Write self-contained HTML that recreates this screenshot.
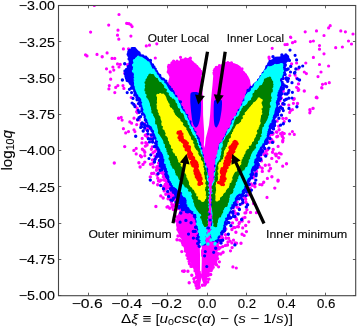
<!DOCTYPE html>
<html><head><meta charset="utf-8"><style>
html,body{margin:0;padding:0;background:#fff;}
svg{display:block;will-change:transform;}
text{font-family:"Liberation Sans",sans-serif;fill:#000;stroke:#000;stroke-width:0.1px;}
</style></head><body>
<svg width="357" height="328" viewBox="0 0 357 328">
<rect width="357" height="328" fill="#fff"/>
<defs><clipPath id="ax"><rect x="58.5" y="5.5" width="297.2" height="290.2"/></clipPath></defs>
<g clip-path="url(#ax)">
<path d="M167.5,68.0 L168.0,65.5 L172.0,63.0 L175.0,61.5 L180.0,60.5 L184.0,58.8 L188.5,58.2 L192.8,61.0 L196.0,65.0 L199.0,67.0 L200.3,68.5 L201.0,72.0 L202.0,85.0 L203.0,100.0 L203.1,115.0 L203.7,125.0 L204.2,132.0 L204.2,138.0 L203.8,145.0 L204.0,148.0 L205.0,145.0 L205.8,138.0 L207.4,132.0 L209.0,125.0 L210.1,115.0 L211.0,100.0 L212.5,85.0 L213.5,72.0 L212.5,70.5 L215.2,67.4 L219.5,65.3 L226.0,63.1 L231.2,62.2 L236.6,64.2 L240.0,66.5 L244.5,72.0 L248.0,76.0 L250.0,80.0 L250.5,84.0 L252.0,88.0 L258.0,92.0 L252.0,110.0 L243.0,130.0 L233.0,150.0 L226.0,170.0 L223.0,190.0 L222.0,210.0 L224.0,227.0 L222.0,237.0 L200.0,238.0 L181.0,238.0 L177.5,232.0 L176.0,225.0 L176.5,218.0 L179.0,212.0 L186.0,195.0 L186.0,175.0 L181.0,160.0 L172.0,130.0 L166.0,100.0 L167.0,86.0 L169.5,77.0 L167.2,72.0 Z" fill="#ff00ff"/>
<path d="M180.0,234.0 L182.5,243.0 L185.0,251.0 L188.5,259.0 L192.0,265.0 L195.0,271.0 L196.8,280.0 L197.5,288.0 L199.5,289.0 L201.0,280.0 L201.0,274.0 L200.0,265.0 L200.0,250.0 L200.0,236.0 Z" fill="#ff00ff"/>
<path d="M201.8,236.0 L201.8,255.0 L201.4,273.0 L200.5,276.0 L203.5,284.0 L206.0,285.0 L207.0,277.0 L208.5,274.0 L212.0,266.0 L216.0,259.0 L218.5,245.0 L221.0,236.0 L222.0,230.0 Z" fill="#ff00ff"/>
<path d="M167.3,67.9a1.55,1.55 0 1,0 3.1,0a1.55,1.55 0 1,0 -3.1,0M166.9,66.7a1.55,1.55 0 1,0 3.1,0a1.55,1.55 0 1,0 -3.1,0M167.3,65.3a1.55,1.55 0 1,0 3.1,0a1.55,1.55 0 1,0 -3.1,0M168.0,65.7a1.55,1.55 0 1,0 3.1,0a1.55,1.55 0 1,0 -3.1,0M169.5,64.8a1.55,1.55 0 1,0 3.1,0a1.55,1.55 0 1,0 -3.1,0M170.7,64.8a1.55,1.55 0 1,0 3.1,0a1.55,1.55 0 1,0 -3.1,0M170.4,62.8a1.55,1.55 0 1,0 3.1,0a1.55,1.55 0 1,0 -3.1,0M172.3,63.0a1.55,1.55 0 1,0 3.1,0a1.55,1.55 0 1,0 -3.1,0M172.5,62.0a1.55,1.55 0 1,0 3.1,0a1.55,1.55 0 1,0 -3.1,0M174.1,62.6a1.55,1.55 0 1,0 3.1,0a1.55,1.55 0 1,0 -3.1,0M174.7,62.3a1.55,1.55 0 1,0 3.1,0a1.55,1.55 0 1,0 -3.1,0M175.5,61.0a1.55,1.55 0 1,0 3.1,0a1.55,1.55 0 1,0 -3.1,0M179.3,62.0a1.55,1.55 0 1,0 3.1,0a1.55,1.55 0 1,0 -3.1,0M179.7,60.0a1.55,1.55 0 1,0 3.1,0a1.55,1.55 0 1,0 -3.1,0M181.3,60.0a1.55,1.55 0 1,0 3.1,0a1.55,1.55 0 1,0 -3.1,0M182.8,59.8a1.55,1.55 0 1,0 3.1,0a1.55,1.55 0 1,0 -3.1,0M184.0,58.7a1.55,1.55 0 1,0 3.1,0a1.55,1.55 0 1,0 -3.1,0M186.1,59.9a1.55,1.55 0 1,0 3.1,0a1.55,1.55 0 1,0 -3.1,0M187.3,59.3a1.55,1.55 0 1,0 3.1,0a1.55,1.55 0 1,0 -3.1,0M188.1,58.9a1.55,1.55 0 1,0 3.1,0a1.55,1.55 0 1,0 -3.1,0M188.5,59.8a1.55,1.55 0 1,0 3.1,0a1.55,1.55 0 1,0 -3.1,0M189.1,60.7a1.55,1.55 0 1,0 3.1,0a1.55,1.55 0 1,0 -3.1,0M189.7,62.1a1.55,1.55 0 1,0 3.1,0a1.55,1.55 0 1,0 -3.1,0M190.7,62.5a1.55,1.55 0 1,0 3.1,0a1.55,1.55 0 1,0 -3.1,0M192.0,63.8a1.55,1.55 0 1,0 3.1,0a1.55,1.55 0 1,0 -3.1,0M192.6,64.7a1.55,1.55 0 1,0 3.1,0a1.55,1.55 0 1,0 -3.1,0M193.7,64.7a1.55,1.55 0 1,0 3.1,0a1.55,1.55 0 1,0 -3.1,0M194.1,66.7a1.55,1.55 0 1,0 3.1,0a1.55,1.55 0 1,0 -3.1,0M195.2,66.2a1.55,1.55 0 1,0 3.1,0a1.55,1.55 0 1,0 -3.1,0M195.8,67.5a1.55,1.55 0 1,0 3.1,0a1.55,1.55 0 1,0 -3.1,0M196.4,68.5a1.55,1.55 0 1,0 3.1,0a1.55,1.55 0 1,0 -3.1,0M198.0,69.5a1.55,1.55 0 1,0 3.1,0a1.55,1.55 0 1,0 -3.1,0M199.3,71.2a1.55,1.55 0 1,0 3.1,0a1.55,1.55 0 1,0 -3.1,0M198.2,72.7a1.55,1.55 0 1,0 3.1,0a1.55,1.55 0 1,0 -3.1,0M199.7,73.4a1.55,1.55 0 1,0 3.1,0a1.55,1.55 0 1,0 -3.1,0M198.4,74.4a1.55,1.55 0 1,0 3.1,0a1.55,1.55 0 1,0 -3.1,0M212.6,74.1a1.55,1.55 0 1,0 3.1,0a1.55,1.55 0 1,0 -3.1,0M212.8,73.7a1.55,1.55 0 1,0 3.1,0a1.55,1.55 0 1,0 -3.1,0M212.4,72.8a1.55,1.55 0 1,0 3.1,0a1.55,1.55 0 1,0 -3.1,0M213.1,70.7a1.55,1.55 0 1,0 3.1,0a1.55,1.55 0 1,0 -3.1,0M213.4,69.1a1.55,1.55 0 1,0 3.1,0a1.55,1.55 0 1,0 -3.1,0M214.6,68.4a1.55,1.55 0 1,0 3.1,0a1.55,1.55 0 1,0 -3.1,0M214.7,67.2a1.55,1.55 0 1,0 3.1,0a1.55,1.55 0 1,0 -3.1,0M215.9,67.9a1.55,1.55 0 1,0 3.1,0a1.55,1.55 0 1,0 -3.1,0M217.8,65.5a1.55,1.55 0 1,0 3.1,0a1.55,1.55 0 1,0 -3.1,0M218.5,66.6a1.55,1.55 0 1,0 3.1,0a1.55,1.55 0 1,0 -3.1,0M220.1,65.8a1.55,1.55 0 1,0 3.1,0a1.55,1.55 0 1,0 -3.1,0M222.5,65.3a1.55,1.55 0 1,0 3.1,0a1.55,1.55 0 1,0 -3.1,0M223.4,64.5a1.55,1.55 0 1,0 3.1,0a1.55,1.55 0 1,0 -3.1,0M223.9,63.2a1.55,1.55 0 1,0 3.1,0a1.55,1.55 0 1,0 -3.1,0M224.8,64.1a1.55,1.55 0 1,0 3.1,0a1.55,1.55 0 1,0 -3.1,0M226.3,62.6a1.55,1.55 0 1,0 3.1,0a1.55,1.55 0 1,0 -3.1,0M227.2,64.4a1.55,1.55 0 1,0 3.1,0a1.55,1.55 0 1,0 -3.1,0M228.6,63.4a1.55,1.55 0 1,0 3.1,0a1.55,1.55 0 1,0 -3.1,0M230.0,62.7a1.55,1.55 0 1,0 3.1,0a1.55,1.55 0 1,0 -3.1,0M233.2,65.0a1.55,1.55 0 1,0 3.1,0a1.55,1.55 0 1,0 -3.1,0M234.2,65.7a1.55,1.55 0 1,0 3.1,0a1.55,1.55 0 1,0 -3.1,0M235.4,65.7a1.55,1.55 0 1,0 3.1,0a1.55,1.55 0 1,0 -3.1,0M236.9,66.8a1.55,1.55 0 1,0 3.1,0a1.55,1.55 0 1,0 -3.1,0M237.3,67.9a1.55,1.55 0 1,0 3.1,0a1.55,1.55 0 1,0 -3.1,0M237.7,67.3a1.55,1.55 0 1,0 3.1,0a1.55,1.55 0 1,0 -3.1,0M240.5,68.8a1.55,1.55 0 1,0 3.1,0a1.55,1.55 0 1,0 -3.1,0M240.0,70.1a1.55,1.55 0 1,0 3.1,0a1.55,1.55 0 1,0 -3.1,0M241.1,72.4a1.55,1.55 0 1,0 3.1,0a1.55,1.55 0 1,0 -3.1,0M242.2,72.7a1.55,1.55 0 1,0 3.1,0a1.55,1.55 0 1,0 -3.1,0M244.0,74.8a1.55,1.55 0 1,0 3.1,0a1.55,1.55 0 1,0 -3.1,0M166.6,71.9a1.55,1.55 0 1,0 3.1,0a1.55,1.55 0 1,0 -3.1,0M167.5,70.0a1.55,1.55 0 1,0 3.1,0a1.55,1.55 0 1,0 -3.1,0M167.6,68.8a1.55,1.55 0 1,0 3.1,0a1.55,1.55 0 1,0 -3.1,0M178.6,235.7a1.7,1.7 0 1,0 3.4,0a1.7,1.7 0 1,0 -3.4,0M176.3,236.0a1.7,1.7 0 1,0 3.4,0a1.7,1.7 0 1,0 -3.4,0M180.2,237.0a1.7,1.7 0 1,0 3.4,0a1.7,1.7 0 1,0 -3.4,0M180.6,236.8a1.7,1.7 0 1,0 3.4,0a1.7,1.7 0 1,0 -3.4,0M178.0,240.1a1.7,1.7 0 1,0 3.4,0a1.7,1.7 0 1,0 -3.4,0M180.8,241.9a1.7,1.7 0 1,0 3.4,0a1.7,1.7 0 1,0 -3.4,0M180.2,241.2a1.7,1.7 0 1,0 3.4,0a1.7,1.7 0 1,0 -3.4,0M181.8,241.6a1.7,1.7 0 1,0 3.4,0a1.7,1.7 0 1,0 -3.4,0M181.4,244.7a1.7,1.7 0 1,0 3.4,0a1.7,1.7 0 1,0 -3.4,0M180.9,243.1a1.7,1.7 0 1,0 3.4,0a1.7,1.7 0 1,0 -3.4,0M181.4,244.4a1.7,1.7 0 1,0 3.4,0a1.7,1.7 0 1,0 -3.4,0M183.1,246.1a1.7,1.7 0 1,0 3.4,0a1.7,1.7 0 1,0 -3.4,0M183.8,248.0a1.7,1.7 0 1,0 3.4,0a1.7,1.7 0 1,0 -3.4,0M180.1,251.6a1.7,1.7 0 1,0 3.4,0a1.7,1.7 0 1,0 -3.4,0M184.0,249.8a1.7,1.7 0 1,0 3.4,0a1.7,1.7 0 1,0 -3.4,0M183.8,251.1a1.7,1.7 0 1,0 3.4,0a1.7,1.7 0 1,0 -3.4,0M185.7,253.8a1.7,1.7 0 1,0 3.4,0a1.7,1.7 0 1,0 -3.4,0M185.2,255.3a1.7,1.7 0 1,0 3.4,0a1.7,1.7 0 1,0 -3.4,0M186.1,255.0a1.7,1.7 0 1,0 3.4,0a1.7,1.7 0 1,0 -3.4,0M186.9,255.6a1.7,1.7 0 1,0 3.4,0a1.7,1.7 0 1,0 -3.4,0M186.9,255.8a1.7,1.7 0 1,0 3.4,0a1.7,1.7 0 1,0 -3.4,0M186.2,258.4a1.7,1.7 0 1,0 3.4,0a1.7,1.7 0 1,0 -3.4,0M187.9,259.3a1.7,1.7 0 1,0 3.4,0a1.7,1.7 0 1,0 -3.4,0M187.4,261.4a1.7,1.7 0 1,0 3.4,0a1.7,1.7 0 1,0 -3.4,0M187.7,261.4a1.7,1.7 0 1,0 3.4,0a1.7,1.7 0 1,0 -3.4,0M187.8,263.7a1.7,1.7 0 1,0 3.4,0a1.7,1.7 0 1,0 -3.4,0M191.2,264.1a1.7,1.7 0 1,0 3.4,0a1.7,1.7 0 1,0 -3.4,0M190.5,264.6a1.7,1.7 0 1,0 3.4,0a1.7,1.7 0 1,0 -3.4,0M190.4,266.2a1.7,1.7 0 1,0 3.4,0a1.7,1.7 0 1,0 -3.4,0M189.3,266.4a1.7,1.7 0 1,0 3.4,0a1.7,1.7 0 1,0 -3.4,0M191.0,265.2a1.7,1.7 0 1,0 3.4,0a1.7,1.7 0 1,0 -3.4,0M182.6,271.0a1.7,1.7 0 1,0 3.4,0a1.7,1.7 0 1,0 -3.4,0M186.2,271.3a1.7,1.7 0 1,0 3.4,0a1.7,1.7 0 1,0 -3.4,0M193.1,268.1a1.7,1.7 0 1,0 3.4,0a1.7,1.7 0 1,0 -3.4,0M193.4,269.8a1.7,1.7 0 1,0 3.4,0a1.7,1.7 0 1,0 -3.4,0M194.0,270.0a1.7,1.7 0 1,0 3.4,0a1.7,1.7 0 1,0 -3.4,0M193.4,270.9a1.7,1.7 0 1,0 3.4,0a1.7,1.7 0 1,0 -3.4,0M194.7,273.6a1.7,1.7 0 1,0 3.4,0a1.7,1.7 0 1,0 -3.4,0M195.5,274.9a1.7,1.7 0 1,0 3.4,0a1.7,1.7 0 1,0 -3.4,0M190.1,275.3a1.7,1.7 0 1,0 3.4,0a1.7,1.7 0 1,0 -3.4,0M195.2,275.0a1.7,1.7 0 1,0 3.4,0a1.7,1.7 0 1,0 -3.4,0M194.5,277.2a1.7,1.7 0 1,0 3.4,0a1.7,1.7 0 1,0 -3.4,0M192.2,278.7a1.7,1.7 0 1,0 3.4,0a1.7,1.7 0 1,0 -3.4,0M192.6,281.7a1.7,1.7 0 1,0 3.4,0a1.7,1.7 0 1,0 -3.4,0M195.7,281.1a1.7,1.7 0 1,0 3.4,0a1.7,1.7 0 1,0 -3.4,0M187.5,282.7a1.7,1.7 0 1,0 3.4,0a1.7,1.7 0 1,0 -3.4,0M194.0,283.4a1.7,1.7 0 1,0 3.4,0a1.7,1.7 0 1,0 -3.4,0M194.4,285.6a1.7,1.7 0 1,0 3.4,0a1.7,1.7 0 1,0 -3.4,0M196.5,285.0a1.7,1.7 0 1,0 3.4,0a1.7,1.7 0 1,0 -3.4,0M195.1,288.1a1.7,1.7 0 1,0 3.4,0a1.7,1.7 0 1,0 -3.4,0M197.6,287.3a1.7,1.7 0 1,0 3.4,0a1.7,1.7 0 1,0 -3.4,0M196.2,288.1a1.7,1.7 0 1,0 3.4,0a1.7,1.7 0 1,0 -3.4,0M196.7,235.2a1.7,1.7 0 1,0 3.4,0a1.7,1.7 0 1,0 -3.4,0M196.1,236.4a1.7,1.7 0 1,0 3.4,0a1.7,1.7 0 1,0 -3.4,0M196.1,236.8a1.7,1.7 0 1,0 3.4,0a1.7,1.7 0 1,0 -3.4,0M194.9,236.7a1.7,1.7 0 1,0 3.4,0a1.7,1.7 0 1,0 -3.4,0M195.3,236.9a1.7,1.7 0 1,0 3.4,0a1.7,1.7 0 1,0 -3.4,0M191.7,236.5a1.7,1.7 0 1,0 3.4,0a1.7,1.7 0 1,0 -3.4,0M193.2,232.9a1.7,1.7 0 1,0 3.4,0a1.7,1.7 0 1,0 -3.4,0M189.0,236.0a1.7,1.7 0 1,0 3.4,0a1.7,1.7 0 1,0 -3.4,0M189.3,234.9a1.7,1.7 0 1,0 3.4,0a1.7,1.7 0 1,0 -3.4,0M190.5,235.5a1.7,1.7 0 1,0 3.4,0a1.7,1.7 0 1,0 -3.4,0M189.3,236.0a1.7,1.7 0 1,0 3.4,0a1.7,1.7 0 1,0 -3.4,0M186.6,234.8a1.7,1.7 0 1,0 3.4,0a1.7,1.7 0 1,0 -3.4,0M186.4,236.2a1.7,1.7 0 1,0 3.4,0a1.7,1.7 0 1,0 -3.4,0M186.0,234.7a1.7,1.7 0 1,0 3.4,0a1.7,1.7 0 1,0 -3.4,0M184.4,235.7a1.7,1.7 0 1,0 3.4,0a1.7,1.7 0 1,0 -3.4,0M184.1,234.0a1.7,1.7 0 1,0 3.4,0a1.7,1.7 0 1,0 -3.4,0M180.9,235.0a1.7,1.7 0 1,0 3.4,0a1.7,1.7 0 1,0 -3.4,0M182.0,231.5a1.7,1.7 0 1,0 3.4,0a1.7,1.7 0 1,0 -3.4,0M180.9,235.8a1.7,1.7 0 1,0 3.4,0a1.7,1.7 0 1,0 -3.4,0M179.7,234.4a1.7,1.7 0 1,0 3.4,0a1.7,1.7 0 1,0 -3.4,0M200.7,285.3a1.7,1.7 0 1,0 3.4,0a1.7,1.7 0 1,0 -3.4,0M203.7,284.1a1.7,1.7 0 1,0 3.4,0a1.7,1.7 0 1,0 -3.4,0M203.0,285.1a1.7,1.7 0 1,0 3.4,0a1.7,1.7 0 1,0 -3.4,0M203.5,282.8a1.7,1.7 0 1,0 3.4,0a1.7,1.7 0 1,0 -3.4,0M204.5,282.5a1.7,1.7 0 1,0 3.4,0a1.7,1.7 0 1,0 -3.4,0M203.7,281.7a1.7,1.7 0 1,0 3.4,0a1.7,1.7 0 1,0 -3.4,0M206.0,281.9a1.7,1.7 0 1,0 3.4,0a1.7,1.7 0 1,0 -3.4,0M204.4,278.7a1.7,1.7 0 1,0 3.4,0a1.7,1.7 0 1,0 -3.4,0M207.3,279.1a1.7,1.7 0 1,0 3.4,0a1.7,1.7 0 1,0 -3.4,0M204.2,277.0a1.7,1.7 0 1,0 3.4,0a1.7,1.7 0 1,0 -3.4,0M206.4,275.4a1.7,1.7 0 1,0 3.4,0a1.7,1.7 0 1,0 -3.4,0M205.4,274.7a1.7,1.7 0 1,0 3.4,0a1.7,1.7 0 1,0 -3.4,0M209.0,274.5a1.7,1.7 0 1,0 3.4,0a1.7,1.7 0 1,0 -3.4,0M206.3,273.4a1.7,1.7 0 1,0 3.4,0a1.7,1.7 0 1,0 -3.4,0M207.3,271.0a1.7,1.7 0 1,0 3.4,0a1.7,1.7 0 1,0 -3.4,0M209.5,270.5a1.7,1.7 0 1,0 3.4,0a1.7,1.7 0 1,0 -3.4,0M207.5,269.3a1.7,1.7 0 1,0 3.4,0a1.7,1.7 0 1,0 -3.4,0M210.5,268.4a1.7,1.7 0 1,0 3.4,0a1.7,1.7 0 1,0 -3.4,0M210.8,266.2a1.7,1.7 0 1,0 3.4,0a1.7,1.7 0 1,0 -3.4,0M210.4,264.6a1.7,1.7 0 1,0 3.4,0a1.7,1.7 0 1,0 -3.4,0M211.5,267.2a1.7,1.7 0 1,0 3.4,0a1.7,1.7 0 1,0 -3.4,0M211.4,265.1a1.7,1.7 0 1,0 3.4,0a1.7,1.7 0 1,0 -3.4,0M211.8,264.1a1.7,1.7 0 1,0 3.4,0a1.7,1.7 0 1,0 -3.4,0M214.8,264.8a1.7,1.7 0 1,0 3.4,0a1.7,1.7 0 1,0 -3.4,0M213.9,262.2a1.7,1.7 0 1,0 3.4,0a1.7,1.7 0 1,0 -3.4,0M213.6,262.4a1.7,1.7 0 1,0 3.4,0a1.7,1.7 0 1,0 -3.4,0M213.9,261.6a1.7,1.7 0 1,0 3.4,0a1.7,1.7 0 1,0 -3.4,0M214.8,259.3a1.7,1.7 0 1,0 3.4,0a1.7,1.7 0 1,0 -3.4,0M215.1,257.3a1.7,1.7 0 1,0 3.4,0a1.7,1.7 0 1,0 -3.4,0M215.9,258.6a1.7,1.7 0 1,0 3.4,0a1.7,1.7 0 1,0 -3.4,0M213.8,256.5a1.7,1.7 0 1,0 3.4,0a1.7,1.7 0 1,0 -3.4,0M215.3,255.7a1.7,1.7 0 1,0 3.4,0a1.7,1.7 0 1,0 -3.4,0M219.1,254.0a1.7,1.7 0 1,0 3.4,0a1.7,1.7 0 1,0 -3.4,0M216.8,253.7a1.7,1.7 0 1,0 3.4,0a1.7,1.7 0 1,0 -3.4,0M221.4,252.3a1.7,1.7 0 1,0 3.4,0a1.7,1.7 0 1,0 -3.4,0M214.3,252.2a1.7,1.7 0 1,0 3.4,0a1.7,1.7 0 1,0 -3.4,0M214.6,249.7a1.7,1.7 0 1,0 3.4,0a1.7,1.7 0 1,0 -3.4,0M217.1,248.9a1.7,1.7 0 1,0 3.4,0a1.7,1.7 0 1,0 -3.4,0M218.4,247.7a1.7,1.7 0 1,0 3.4,0a1.7,1.7 0 1,0 -3.4,0M221.0,246.6a1.7,1.7 0 1,0 3.4,0a1.7,1.7 0 1,0 -3.4,0M216.0,246.4a1.7,1.7 0 1,0 3.4,0a1.7,1.7 0 1,0 -3.4,0M223.8,245.4a1.7,1.7 0 1,0 3.4,0a1.7,1.7 0 1,0 -3.4,0M216.5,243.0a1.7,1.7 0 1,0 3.4,0a1.7,1.7 0 1,0 -3.4,0M217.3,241.8a1.7,1.7 0 1,0 3.4,0a1.7,1.7 0 1,0 -3.4,0M217.4,240.5a1.7,1.7 0 1,0 3.4,0a1.7,1.7 0 1,0 -3.4,0M218.7,242.6a1.7,1.7 0 1,0 3.4,0a1.7,1.7 0 1,0 -3.4,0M217.1,240.2a1.7,1.7 0 1,0 3.4,0a1.7,1.7 0 1,0 -3.4,0M217.9,237.2a1.7,1.7 0 1,0 3.4,0a1.7,1.7 0 1,0 -3.4,0M220.6,238.1a1.7,1.7 0 1,0 3.4,0a1.7,1.7 0 1,0 -3.4,0M219.5,235.9a1.7,1.7 0 1,0 3.4,0a1.7,1.7 0 1,0 -3.4,0M219.9,235.5a1.7,1.7 0 1,0 3.4,0a1.7,1.7 0 1,0 -3.4,0M219.5,233.1a1.7,1.7 0 1,0 3.4,0a1.7,1.7 0 1,0 -3.4,0M218.6,232.9a1.7,1.7 0 1,0 3.4,0a1.7,1.7 0 1,0 -3.4,0M222.4,231.6a1.7,1.7 0 1,0 3.4,0a1.7,1.7 0 1,0 -3.4,0M219.4,229.8a1.7,1.7 0 1,0 3.4,0a1.7,1.7 0 1,0 -3.4,0M221.2,231.3a1.7,1.7 0 1,0 3.4,0a1.7,1.7 0 1,0 -3.4,0M219.0,231.4a1.7,1.7 0 1,0 3.4,0a1.7,1.7 0 1,0 -3.4,0M218.7,230.9a1.7,1.7 0 1,0 3.4,0a1.7,1.7 0 1,0 -3.4,0M218.1,231.3a1.7,1.7 0 1,0 3.4,0a1.7,1.7 0 1,0 -3.4,0M216.8,232.5a1.7,1.7 0 1,0 3.4,0a1.7,1.7 0 1,0 -3.4,0M215.4,232.7a1.7,1.7 0 1,0 3.4,0a1.7,1.7 0 1,0 -3.4,0M212.1,234.0a1.7,1.7 0 1,0 3.4,0a1.7,1.7 0 1,0 -3.4,0M210.6,233.9a1.7,1.7 0 1,0 3.4,0a1.7,1.7 0 1,0 -3.4,0M211.3,233.7a1.7,1.7 0 1,0 3.4,0a1.7,1.7 0 1,0 -3.4,0M210.9,234.0a1.7,1.7 0 1,0 3.4,0a1.7,1.7 0 1,0 -3.4,0M209.4,234.4a1.7,1.7 0 1,0 3.4,0a1.7,1.7 0 1,0 -3.4,0M207.6,232.2a1.7,1.7 0 1,0 3.4,0a1.7,1.7 0 1,0 -3.4,0M206.4,232.4a1.7,1.7 0 1,0 3.4,0a1.7,1.7 0 1,0 -3.4,0M205.4,233.5a1.7,1.7 0 1,0 3.4,0a1.7,1.7 0 1,0 -3.4,0M205.9,234.6a1.7,1.7 0 1,0 3.4,0a1.7,1.7 0 1,0 -3.4,0M202.8,236.1a1.7,1.7 0 1,0 3.4,0a1.7,1.7 0 1,0 -3.4,0M201.3,235.8a1.7,1.7 0 1,0 3.4,0a1.7,1.7 0 1,0 -3.4,0M202.2,236.6a1.7,1.7 0 1,0 3.4,0a1.7,1.7 0 1,0 -3.4,0M201.5,235.5a1.7,1.7 0 1,0 3.4,0a1.7,1.7 0 1,0 -3.4,0" fill="#ff00ff"/>
<path d="M100.5,56.7a1.7,1.7 0 1,0 3.4,0a1.7,1.7 0 1,0 -3.4,0M125.9,64.8a1.7,1.7 0 1,0 3.4,0a1.7,1.7 0 1,0 -3.4,0M118.5,64.4a1.7,1.7 0 1,0 3.4,0a1.7,1.7 0 1,0 -3.4,0M133.5,105.8a1.7,1.7 0 1,0 3.4,0a1.7,1.7 0 1,0 -3.4,0M135.4,108.3a1.7,1.7 0 1,0 3.4,0a1.7,1.7 0 1,0 -3.4,0M135.0,111.8a1.7,1.7 0 1,0 3.4,0a1.7,1.7 0 1,0 -3.4,0M135.7,112.8a1.7,1.7 0 1,0 3.4,0a1.7,1.7 0 1,0 -3.4,0M116.9,118.2a1.7,1.7 0 1,0 3.4,0a1.7,1.7 0 1,0 -3.4,0M135.8,120.0a1.7,1.7 0 1,0 3.4,0a1.7,1.7 0 1,0 -3.4,0M137.5,119.7a1.7,1.7 0 1,0 3.4,0a1.7,1.7 0 1,0 -3.4,0M139.7,123.5a1.7,1.7 0 1,0 3.4,0a1.7,1.7 0 1,0 -3.4,0M142.7,123.6a1.7,1.7 0 1,0 3.4,0a1.7,1.7 0 1,0 -3.4,0M139.3,125.2a1.7,1.7 0 1,0 3.4,0a1.7,1.7 0 1,0 -3.4,0M144.4,126.1a1.7,1.7 0 1,0 3.4,0a1.7,1.7 0 1,0 -3.4,0M146.9,128.0a1.7,1.7 0 1,0 3.4,0a1.7,1.7 0 1,0 -3.4,0M144.6,129.6a1.7,1.7 0 1,0 3.4,0a1.7,1.7 0 1,0 -3.4,0M147.4,128.3a1.7,1.7 0 1,0 3.4,0a1.7,1.7 0 1,0 -3.4,0M143.6,135.3a1.7,1.7 0 1,0 3.4,0a1.7,1.7 0 1,0 -3.4,0M145.2,134.4a1.7,1.7 0 1,0 3.4,0a1.7,1.7 0 1,0 -3.4,0M149.2,134.6a1.7,1.7 0 1,0 3.4,0a1.7,1.7 0 1,0 -3.4,0M145.5,136.8a1.7,1.7 0 1,0 3.4,0a1.7,1.7 0 1,0 -3.4,0M149.4,135.3a1.7,1.7 0 1,0 3.4,0a1.7,1.7 0 1,0 -3.4,0M123.0,146.6a1.7,1.7 0 1,0 3.4,0a1.7,1.7 0 1,0 -3.4,0M151.0,135.4a1.7,1.7 0 1,0 3.4,0a1.7,1.7 0 1,0 -3.4,0M149.4,139.4a1.7,1.7 0 1,0 3.4,0a1.7,1.7 0 1,0 -3.4,0M150.6,138.1a1.7,1.7 0 1,0 3.4,0a1.7,1.7 0 1,0 -3.4,0M150.8,141.5a1.7,1.7 0 1,0 3.4,0a1.7,1.7 0 1,0 -3.4,0M140.3,142.9a1.7,1.7 0 1,0 3.4,0a1.7,1.7 0 1,0 -3.4,0M144.1,142.7a1.7,1.7 0 1,0 3.4,0a1.7,1.7 0 1,0 -3.4,0M145.2,143.4a1.7,1.7 0 1,0 3.4,0a1.7,1.7 0 1,0 -3.4,0M154.0,142.9a1.7,1.7 0 1,0 3.4,0a1.7,1.7 0 1,0 -3.4,0M132.2,150.4a1.7,1.7 0 1,0 3.4,0a1.7,1.7 0 1,0 -3.4,0M140.7,149.3a1.7,1.7 0 1,0 3.4,0a1.7,1.7 0 1,0 -3.4,0M150.6,147.0a1.7,1.7 0 1,0 3.4,0a1.7,1.7 0 1,0 -3.4,0M149.7,149.2a1.7,1.7 0 1,0 3.4,0a1.7,1.7 0 1,0 -3.4,0M142.3,150.6a1.7,1.7 0 1,0 3.4,0a1.7,1.7 0 1,0 -3.4,0M153.3,151.3a1.7,1.7 0 1,0 3.4,0a1.7,1.7 0 1,0 -3.4,0M154.9,149.2a1.7,1.7 0 1,0 3.4,0a1.7,1.7 0 1,0 -3.4,0M143.1,152.2a1.7,1.7 0 1,0 3.4,0a1.7,1.7 0 1,0 -3.4,0M139.7,156.7a1.7,1.7 0 1,0 3.4,0a1.7,1.7 0 1,0 -3.4,0M151.3,152.7a1.7,1.7 0 1,0 3.4,0a1.7,1.7 0 1,0 -3.4,0M112.6,163.0a1.7,1.7 0 1,0 3.4,0a1.7,1.7 0 1,0 -3.4,0M153.3,156.3a1.7,1.7 0 1,0 3.4,0a1.7,1.7 0 1,0 -3.4,0M137.2,162.8a1.7,1.7 0 1,0 3.4,0a1.7,1.7 0 1,0 -3.4,0M154.1,158.5a1.7,1.7 0 1,0 3.4,0a1.7,1.7 0 1,0 -3.4,0M143.1,162.1a1.7,1.7 0 1,0 3.4,0a1.7,1.7 0 1,0 -3.4,0M150.8,159.9a1.7,1.7 0 1,0 3.4,0a1.7,1.7 0 1,0 -3.4,0M151.1,163.4a1.7,1.7 0 1,0 3.4,0a1.7,1.7 0 1,0 -3.4,0M141.3,164.4a1.7,1.7 0 1,0 3.4,0a1.7,1.7 0 1,0 -3.4,0M148.8,164.3a1.7,1.7 0 1,0 3.4,0a1.7,1.7 0 1,0 -3.4,0M138.4,167.0a1.7,1.7 0 1,0 3.4,0a1.7,1.7 0 1,0 -3.4,0M157.3,162.8a1.7,1.7 0 1,0 3.4,0a1.7,1.7 0 1,0 -3.4,0M158.2,163.6a1.7,1.7 0 1,0 3.4,0a1.7,1.7 0 1,0 -3.4,0M156.9,163.1a1.7,1.7 0 1,0 3.4,0a1.7,1.7 0 1,0 -3.4,0M159.1,164.2a1.7,1.7 0 1,0 3.4,0a1.7,1.7 0 1,0 -3.4,0M155.0,167.6a1.7,1.7 0 1,0 3.4,0a1.7,1.7 0 1,0 -3.4,0M151.5,167.0a1.7,1.7 0 1,0 3.4,0a1.7,1.7 0 1,0 -3.4,0M156.8,166.2a1.7,1.7 0 1,0 3.4,0a1.7,1.7 0 1,0 -3.4,0M155.3,166.8a1.7,1.7 0 1,0 3.4,0a1.7,1.7 0 1,0 -3.4,0M158.5,168.8a1.7,1.7 0 1,0 3.4,0a1.7,1.7 0 1,0 -3.4,0M154.8,170.3a1.7,1.7 0 1,0 3.4,0a1.7,1.7 0 1,0 -3.4,0M159.6,167.2a1.7,1.7 0 1,0 3.4,0a1.7,1.7 0 1,0 -3.4,0M156.4,168.5a1.7,1.7 0 1,0 3.4,0a1.7,1.7 0 1,0 -3.4,0M160.4,167.1a1.7,1.7 0 1,0 3.4,0a1.7,1.7 0 1,0 -3.4,0M159.7,170.6a1.7,1.7 0 1,0 3.4,0a1.7,1.7 0 1,0 -3.4,0M160.3,168.1a1.7,1.7 0 1,0 3.4,0a1.7,1.7 0 1,0 -3.4,0M159.1,171.2a1.7,1.7 0 1,0 3.4,0a1.7,1.7 0 1,0 -3.4,0M152.1,173.2a1.7,1.7 0 1,0 3.4,0a1.7,1.7 0 1,0 -3.4,0M157.8,172.5a1.7,1.7 0 1,0 3.4,0a1.7,1.7 0 1,0 -3.4,0M150.0,173.5a1.7,1.7 0 1,0 3.4,0a1.7,1.7 0 1,0 -3.4,0M155.3,175.0a1.7,1.7 0 1,0 3.4,0a1.7,1.7 0 1,0 -3.4,0M148.6,176.9a1.7,1.7 0 1,0 3.4,0a1.7,1.7 0 1,0 -3.4,0M160.3,173.0a1.7,1.7 0 1,0 3.4,0a1.7,1.7 0 1,0 -3.4,0M160.6,172.4a1.7,1.7 0 1,0 3.4,0a1.7,1.7 0 1,0 -3.4,0M162.0,175.0a1.7,1.7 0 1,0 3.4,0a1.7,1.7 0 1,0 -3.4,0M161.5,172.6a1.7,1.7 0 1,0 3.4,0a1.7,1.7 0 1,0 -3.4,0M162.8,175.2a1.7,1.7 0 1,0 3.4,0a1.7,1.7 0 1,0 -3.4,0M161.6,177.1a1.7,1.7 0 1,0 3.4,0a1.7,1.7 0 1,0 -3.4,0M156.1,178.2a1.7,1.7 0 1,0 3.4,0a1.7,1.7 0 1,0 -3.4,0M162.8,176.4a1.7,1.7 0 1,0 3.4,0a1.7,1.7 0 1,0 -3.4,0M163.2,175.0a1.7,1.7 0 1,0 3.4,0a1.7,1.7 0 1,0 -3.4,0M159.3,180.1a1.7,1.7 0 1,0 3.4,0a1.7,1.7 0 1,0 -3.4,0M156.8,180.9a1.7,1.7 0 1,0 3.4,0a1.7,1.7 0 1,0 -3.4,0M157.8,181.3a1.7,1.7 0 1,0 3.4,0a1.7,1.7 0 1,0 -3.4,0M159.1,180.2a1.7,1.7 0 1,0 3.4,0a1.7,1.7 0 1,0 -3.4,0M151.7,182.7a1.7,1.7 0 1,0 3.4,0a1.7,1.7 0 1,0 -3.4,0M162.3,180.1a1.7,1.7 0 1,0 3.4,0a1.7,1.7 0 1,0 -3.4,0M156.0,184.7a1.7,1.7 0 1,0 3.4,0a1.7,1.7 0 1,0 -3.4,0M163.6,179.7a1.7,1.7 0 1,0 3.4,0a1.7,1.7 0 1,0 -3.4,0M165.3,181.0a1.7,1.7 0 1,0 3.4,0a1.7,1.7 0 1,0 -3.4,0M164.2,180.8a1.7,1.7 0 1,0 3.4,0a1.7,1.7 0 1,0 -3.4,0M163.6,184.3a1.7,1.7 0 1,0 3.4,0a1.7,1.7 0 1,0 -3.4,0M166.6,182.8a1.7,1.7 0 1,0 3.4,0a1.7,1.7 0 1,0 -3.4,0M163.1,185.6a1.7,1.7 0 1,0 3.4,0a1.7,1.7 0 1,0 -3.4,0M164.9,183.1a1.7,1.7 0 1,0 3.4,0a1.7,1.7 0 1,0 -3.4,0M166.3,184.6a1.7,1.7 0 1,0 3.4,0a1.7,1.7 0 1,0 -3.4,0M162.9,186.7a1.7,1.7 0 1,0 3.4,0a1.7,1.7 0 1,0 -3.4,0M161.8,186.9a1.7,1.7 0 1,0 3.4,0a1.7,1.7 0 1,0 -3.4,0M167.9,185.2a1.7,1.7 0 1,0 3.4,0a1.7,1.7 0 1,0 -3.4,0M163.5,186.6a1.7,1.7 0 1,0 3.4,0a1.7,1.7 0 1,0 -3.4,0M166.1,185.6a1.7,1.7 0 1,0 3.4,0a1.7,1.7 0 1,0 -3.4,0M166.7,184.5a1.7,1.7 0 1,0 3.4,0a1.7,1.7 0 1,0 -3.4,0M169.2,187.6a1.7,1.7 0 1,0 3.4,0a1.7,1.7 0 1,0 -3.4,0M163.9,188.8a1.7,1.7 0 1,0 3.4,0a1.7,1.7 0 1,0 -3.4,0M169.7,187.1a1.7,1.7 0 1,0 3.4,0a1.7,1.7 0 1,0 -3.4,0M168.2,187.6a1.7,1.7 0 1,0 3.4,0a1.7,1.7 0 1,0 -3.4,0M167.8,186.9a1.7,1.7 0 1,0 3.4,0a1.7,1.7 0 1,0 -3.4,0M166.0,188.1a1.7,1.7 0 1,0 3.4,0a1.7,1.7 0 1,0 -3.4,0M167.2,187.7a1.7,1.7 0 1,0 3.4,0a1.7,1.7 0 1,0 -3.4,0M162.5,190.9a1.7,1.7 0 1,0 3.4,0a1.7,1.7 0 1,0 -3.4,0M169.7,187.7a1.7,1.7 0 1,0 3.4,0a1.7,1.7 0 1,0 -3.4,0M170.1,191.3a1.7,1.7 0 1,0 3.4,0a1.7,1.7 0 1,0 -3.4,0M169.4,189.0a1.7,1.7 0 1,0 3.4,0a1.7,1.7 0 1,0 -3.4,0M166.4,193.0a1.7,1.7 0 1,0 3.4,0a1.7,1.7 0 1,0 -3.4,0M164.1,194.3a1.7,1.7 0 1,0 3.4,0a1.7,1.7 0 1,0 -3.4,0M159.1,195.9a1.7,1.7 0 1,0 3.4,0a1.7,1.7 0 1,0 -3.4,0M166.5,193.2a1.7,1.7 0 1,0 3.4,0a1.7,1.7 0 1,0 -3.4,0M167.6,193.7a1.7,1.7 0 1,0 3.4,0a1.7,1.7 0 1,0 -3.4,0M166.8,194.1a1.7,1.7 0 1,0 3.4,0a1.7,1.7 0 1,0 -3.4,0M161.5,198.0a1.7,1.7 0 1,0 3.4,0a1.7,1.7 0 1,0 -3.4,0M171.5,191.9a1.7,1.7 0 1,0 3.4,0a1.7,1.7 0 1,0 -3.4,0M168.8,194.1a1.7,1.7 0 1,0 3.4,0a1.7,1.7 0 1,0 -3.4,0M169.7,196.1a1.7,1.7 0 1,0 3.4,0a1.7,1.7 0 1,0 -3.4,0M170.9,195.0a1.7,1.7 0 1,0 3.4,0a1.7,1.7 0 1,0 -3.4,0M171.7,196.2a1.7,1.7 0 1,0 3.4,0a1.7,1.7 0 1,0 -3.4,0M168.6,197.3a1.7,1.7 0 1,0 3.4,0a1.7,1.7 0 1,0 -3.4,0M169.9,196.0a1.7,1.7 0 1,0 3.4,0a1.7,1.7 0 1,0 -3.4,0M171.8,197.2a1.7,1.7 0 1,0 3.4,0a1.7,1.7 0 1,0 -3.4,0M172.7,195.9a1.7,1.7 0 1,0 3.4,0a1.7,1.7 0 1,0 -3.4,0M166.4,198.7a1.7,1.7 0 1,0 3.4,0a1.7,1.7 0 1,0 -3.4,0M172.9,196.7a1.7,1.7 0 1,0 3.4,0a1.7,1.7 0 1,0 -3.4,0M171.0,197.2a1.7,1.7 0 1,0 3.4,0a1.7,1.7 0 1,0 -3.4,0M172.9,198.6a1.7,1.7 0 1,0 3.4,0a1.7,1.7 0 1,0 -3.4,0M174.2,198.3a1.7,1.7 0 1,0 3.4,0a1.7,1.7 0 1,0 -3.4,0M169.2,199.9a1.7,1.7 0 1,0 3.4,0a1.7,1.7 0 1,0 -3.4,0M173.0,199.4a1.7,1.7 0 1,0 3.4,0a1.7,1.7 0 1,0 -3.4,0M174.3,200.1a1.7,1.7 0 1,0 3.4,0a1.7,1.7 0 1,0 -3.4,0M154.2,206.5a1.7,1.7 0 1,0 3.4,0a1.7,1.7 0 1,0 -3.4,0M169.7,201.8a1.7,1.7 0 1,0 3.4,0a1.7,1.7 0 1,0 -3.4,0M174.9,200.3a1.7,1.7 0 1,0 3.4,0a1.7,1.7 0 1,0 -3.4,0M174.4,200.4a1.7,1.7 0 1,0 3.4,0a1.7,1.7 0 1,0 -3.4,0M166.1,206.6a1.7,1.7 0 1,0 3.4,0a1.7,1.7 0 1,0 -3.4,0M165.3,207.1a1.7,1.7 0 1,0 3.4,0a1.7,1.7 0 1,0 -3.4,0M175.5,202.6a1.7,1.7 0 1,0 3.4,0a1.7,1.7 0 1,0 -3.4,0M170.2,204.4a1.7,1.7 0 1,0 3.4,0a1.7,1.7 0 1,0 -3.4,0M175.4,201.9a1.7,1.7 0 1,0 3.4,0a1.7,1.7 0 1,0 -3.4,0M175.7,202.2a1.7,1.7 0 1,0 3.4,0a1.7,1.7 0 1,0 -3.4,0M172.0,206.1a1.7,1.7 0 1,0 3.4,0a1.7,1.7 0 1,0 -3.4,0M170.5,207.1a1.7,1.7 0 1,0 3.4,0a1.7,1.7 0 1,0 -3.4,0M174.4,205.3a1.7,1.7 0 1,0 3.4,0a1.7,1.7 0 1,0 -3.4,0M176.9,204.9a1.7,1.7 0 1,0 3.4,0a1.7,1.7 0 1,0 -3.4,0M173.0,204.6a1.7,1.7 0 1,0 3.4,0a1.7,1.7 0 1,0 -3.4,0M168.0,208.3a1.7,1.7 0 1,0 3.4,0a1.7,1.7 0 1,0 -3.4,0M175.6,206.3a1.7,1.7 0 1,0 3.4,0a1.7,1.7 0 1,0 -3.4,0M175.0,206.9a1.7,1.7 0 1,0 3.4,0a1.7,1.7 0 1,0 -3.4,0M178.2,206.0a1.7,1.7 0 1,0 3.4,0a1.7,1.7 0 1,0 -3.4,0M179.1,206.9a1.7,1.7 0 1,0 3.4,0a1.7,1.7 0 1,0 -3.4,0M177.6,205.4a1.7,1.7 0 1,0 3.4,0a1.7,1.7 0 1,0 -3.4,0M171.6,209.6a1.7,1.7 0 1,0 3.4,0a1.7,1.7 0 1,0 -3.4,0M177.4,208.0a1.7,1.7 0 1,0 3.4,0a1.7,1.7 0 1,0 -3.4,0M178.0,208.8a1.7,1.7 0 1,0 3.4,0a1.7,1.7 0 1,0 -3.4,0M175.1,208.9a1.7,1.7 0 1,0 3.4,0a1.7,1.7 0 1,0 -3.4,0M179.7,209.1a1.7,1.7 0 1,0 3.4,0a1.7,1.7 0 1,0 -3.4,0M180.2,209.7a1.7,1.7 0 1,0 3.4,0a1.7,1.7 0 1,0 -3.4,0M179.6,209.2a1.7,1.7 0 1,0 3.4,0a1.7,1.7 0 1,0 -3.4,0M175.2,217.0a1.7,1.7 0 1,0 3.4,0a1.7,1.7 0 1,0 -3.4,0M173.8,220.8a1.7,1.7 0 1,0 3.4,0a1.7,1.7 0 1,0 -3.4,0M180.0,213.3a1.7,1.7 0 1,0 3.4,0a1.7,1.7 0 1,0 -3.4,0M179.7,211.6a1.7,1.7 0 1,0 3.4,0a1.7,1.7 0 1,0 -3.4,0M181.0,213.4a1.7,1.7 0 1,0 3.4,0a1.7,1.7 0 1,0 -3.4,0M179.9,218.6a1.7,1.7 0 1,0 3.4,0a1.7,1.7 0 1,0 -3.4,0M181.1,214.0a1.7,1.7 0 1,0 3.4,0a1.7,1.7 0 1,0 -3.4,0M181.5,213.9a1.7,1.7 0 1,0 3.4,0a1.7,1.7 0 1,0 -3.4,0M183.0,212.0a1.7,1.7 0 1,0 3.4,0a1.7,1.7 0 1,0 -3.4,0M184.2,212.5a1.7,1.7 0 1,0 3.4,0a1.7,1.7 0 1,0 -3.4,0M179.2,218.4a1.7,1.7 0 1,0 3.4,0a1.7,1.7 0 1,0 -3.4,0M181.1,218.4a1.7,1.7 0 1,0 3.4,0a1.7,1.7 0 1,0 -3.4,0M183.9,213.6a1.7,1.7 0 1,0 3.4,0a1.7,1.7 0 1,0 -3.4,0M183.8,213.8a1.7,1.7 0 1,0 3.4,0a1.7,1.7 0 1,0 -3.4,0M185.7,211.3a1.7,1.7 0 1,0 3.4,0a1.7,1.7 0 1,0 -3.4,0M186.0,211.4a1.7,1.7 0 1,0 3.4,0a1.7,1.7 0 1,0 -3.4,0M183.7,212.6a1.7,1.7 0 1,0 3.4,0a1.7,1.7 0 1,0 -3.4,0M183.8,216.2a1.7,1.7 0 1,0 3.4,0a1.7,1.7 0 1,0 -3.4,0M176.2,229.5a1.7,1.7 0 1,0 3.4,0a1.7,1.7 0 1,0 -3.4,0M183.6,218.7a1.7,1.7 0 1,0 3.4,0a1.7,1.7 0 1,0 -3.4,0M180.3,224.4a1.7,1.7 0 1,0 3.4,0a1.7,1.7 0 1,0 -3.4,0M186.7,212.1a1.7,1.7 0 1,0 3.4,0a1.7,1.7 0 1,0 -3.4,0M187.5,213.2a1.7,1.7 0 1,0 3.4,0a1.7,1.7 0 1,0 -3.4,0M187.7,216.6a1.7,1.7 0 1,0 3.4,0a1.7,1.7 0 1,0 -3.4,0M186.4,217.5a1.7,1.7 0 1,0 3.4,0a1.7,1.7 0 1,0 -3.4,0M185.0,221.0a1.7,1.7 0 1,0 3.4,0a1.7,1.7 0 1,0 -3.4,0M186.1,221.6a1.7,1.7 0 1,0 3.4,0a1.7,1.7 0 1,0 -3.4,0M187.3,219.2a1.7,1.7 0 1,0 3.4,0a1.7,1.7 0 1,0 -3.4,0M191.1,214.5a1.7,1.7 0 1,0 3.4,0a1.7,1.7 0 1,0 -3.4,0M190.2,220.0a1.7,1.7 0 1,0 3.4,0a1.7,1.7 0 1,0 -3.4,0M191.5,214.7a1.7,1.7 0 1,0 3.4,0a1.7,1.7 0 1,0 -3.4,0M180.6,217.4a1.7,1.7 0 1,0 3.4,0a1.7,1.7 0 1,0 -3.4,0M191.0,214.9a1.7,1.7 0 1,0 3.4,0a1.7,1.7 0 1,0 -3.4,0M192.0,216.7a1.7,1.7 0 1,0 3.4,0a1.7,1.7 0 1,0 -3.4,0M184.7,218.5a1.7,1.7 0 1,0 3.4,0a1.7,1.7 0 1,0 -3.4,0M190.3,215.1a1.7,1.7 0 1,0 3.4,0a1.7,1.7 0 1,0 -3.4,0M191.5,215.6a1.7,1.7 0 1,0 3.4,0a1.7,1.7 0 1,0 -3.4,0M186.7,217.3a1.7,1.7 0 1,0 3.4,0a1.7,1.7 0 1,0 -3.4,0M191.2,219.2a1.7,1.7 0 1,0 3.4,0a1.7,1.7 0 1,0 -3.4,0M182.8,219.8a1.7,1.7 0 1,0 3.4,0a1.7,1.7 0 1,0 -3.4,0M191.6,217.0a1.7,1.7 0 1,0 3.4,0a1.7,1.7 0 1,0 -3.4,0M190.9,219.5a1.7,1.7 0 1,0 3.4,0a1.7,1.7 0 1,0 -3.4,0M184.5,221.8a1.7,1.7 0 1,0 3.4,0a1.7,1.7 0 1,0 -3.4,0M193.4,220.6a1.7,1.7 0 1,0 3.4,0a1.7,1.7 0 1,0 -3.4,0M182.9,223.1a1.7,1.7 0 1,0 3.4,0a1.7,1.7 0 1,0 -3.4,0M192.9,220.6a1.7,1.7 0 1,0 3.4,0a1.7,1.7 0 1,0 -3.4,0M190.0,222.6a1.7,1.7 0 1,0 3.4,0a1.7,1.7 0 1,0 -3.4,0M193.9,220.8a1.7,1.7 0 1,0 3.4,0a1.7,1.7 0 1,0 -3.4,0M193.9,221.2a1.7,1.7 0 1,0 3.4,0a1.7,1.7 0 1,0 -3.4,0M194.1,222.3a1.7,1.7 0 1,0 3.4,0a1.7,1.7 0 1,0 -3.4,0M192.7,222.3a1.7,1.7 0 1,0 3.4,0a1.7,1.7 0 1,0 -3.4,0M192.5,221.4a1.7,1.7 0 1,0 3.4,0a1.7,1.7 0 1,0 -3.4,0M178.8,224.6a1.7,1.7 0 1,0 3.4,0a1.7,1.7 0 1,0 -3.4,0M190.3,222.9a1.7,1.7 0 1,0 3.4,0a1.7,1.7 0 1,0 -3.4,0M189.7,224.5a1.7,1.7 0 1,0 3.4,0a1.7,1.7 0 1,0 -3.4,0M192.9,223.4a1.7,1.7 0 1,0 3.4,0a1.7,1.7 0 1,0 -3.4,0M189.4,226.7a1.7,1.7 0 1,0 3.4,0a1.7,1.7 0 1,0 -3.4,0M188.3,226.3a1.7,1.7 0 1,0 3.4,0a1.7,1.7 0 1,0 -3.4,0M191.2,226.7a1.7,1.7 0 1,0 3.4,0a1.7,1.7 0 1,0 -3.4,0M193.1,226.6a1.7,1.7 0 1,0 3.4,0a1.7,1.7 0 1,0 -3.4,0M193.1,227.6a1.7,1.7 0 1,0 3.4,0a1.7,1.7 0 1,0 -3.4,0M193.3,227.9a1.7,1.7 0 1,0 3.4,0a1.7,1.7 0 1,0 -3.4,0M185.2,228.5a1.7,1.7 0 1,0 3.4,0a1.7,1.7 0 1,0 -3.4,0M191.5,229.4a1.7,1.7 0 1,0 3.4,0a1.7,1.7 0 1,0 -3.4,0M195.3,228.6a1.7,1.7 0 1,0 3.4,0a1.7,1.7 0 1,0 -3.4,0M189.1,229.1a1.7,1.7 0 1,0 3.4,0a1.7,1.7 0 1,0 -3.4,0M193.4,228.1a1.7,1.7 0 1,0 3.4,0a1.7,1.7 0 1,0 -3.4,0M195.5,229.9a1.7,1.7 0 1,0 3.4,0a1.7,1.7 0 1,0 -3.4,0M193.5,229.4a1.7,1.7 0 1,0 3.4,0a1.7,1.7 0 1,0 -3.4,0M186.2,233.0a1.7,1.7 0 1,0 3.4,0a1.7,1.7 0 1,0 -3.4,0M184.7,232.7a1.7,1.7 0 1,0 3.4,0a1.7,1.7 0 1,0 -3.4,0M196.2,232.0a1.7,1.7 0 1,0 3.4,0a1.7,1.7 0 1,0 -3.4,0M190.3,233.0a1.7,1.7 0 1,0 3.4,0a1.7,1.7 0 1,0 -3.4,0M194.9,230.9a1.7,1.7 0 1,0 3.4,0a1.7,1.7 0 1,0 -3.4,0M191.2,233.4a1.7,1.7 0 1,0 3.4,0a1.7,1.7 0 1,0 -3.4,0M179.9,234.4a1.7,1.7 0 1,0 3.4,0a1.7,1.7 0 1,0 -3.4,0M187.8,232.0a1.7,1.7 0 1,0 3.4,0a1.7,1.7 0 1,0 -3.4,0M195.7,233.2a1.7,1.7 0 1,0 3.4,0a1.7,1.7 0 1,0 -3.4,0M186.0,233.3a1.7,1.7 0 1,0 3.4,0a1.7,1.7 0 1,0 -3.4,0M194.5,233.2a1.7,1.7 0 1,0 3.4,0a1.7,1.7 0 1,0 -3.4,0M193.9,233.5a1.7,1.7 0 1,0 3.4,0a1.7,1.7 0 1,0 -3.4,0M196.3,233.9a1.7,1.7 0 1,0 3.4,0a1.7,1.7 0 1,0 -3.4,0M191.9,236.1a1.7,1.7 0 1,0 3.4,0a1.7,1.7 0 1,0 -3.4,0M192.3,236.3a1.7,1.7 0 1,0 3.4,0a1.7,1.7 0 1,0 -3.4,0M196.5,233.6a1.7,1.7 0 1,0 3.4,0a1.7,1.7 0 1,0 -3.4,0M175.3,239.8a1.7,1.7 0 1,0 3.4,0a1.7,1.7 0 1,0 -3.4,0M190.5,236.7a1.7,1.7 0 1,0 3.4,0a1.7,1.7 0 1,0 -3.4,0M196.1,236.5a1.7,1.7 0 1,0 3.4,0a1.7,1.7 0 1,0 -3.4,0M196.4,236.0a1.7,1.7 0 1,0 3.4,0a1.7,1.7 0 1,0 -3.4,0M193.2,237.1a1.7,1.7 0 1,0 3.4,0a1.7,1.7 0 1,0 -3.4,0M192.7,239.2a1.7,1.7 0 1,0 3.4,0a1.7,1.7 0 1,0 -3.4,0M195.6,237.6a1.7,1.7 0 1,0 3.4,0a1.7,1.7 0 1,0 -3.4,0M195.3,237.8a1.7,1.7 0 1,0 3.4,0a1.7,1.7 0 1,0 -3.4,0M194.4,239.4a1.7,1.7 0 1,0 3.4,0a1.7,1.7 0 1,0 -3.4,0M183.4,241.5a1.7,1.7 0 1,0 3.4,0a1.7,1.7 0 1,0 -3.4,0M194.2,239.7a1.7,1.7 0 1,0 3.4,0a1.7,1.7 0 1,0 -3.4,0M195.0,238.6a1.7,1.7 0 1,0 3.4,0a1.7,1.7 0 1,0 -3.4,0M190.6,241.9a1.7,1.7 0 1,0 3.4,0a1.7,1.7 0 1,0 -3.4,0M197.1,242.2a1.7,1.7 0 1,0 3.4,0a1.7,1.7 0 1,0 -3.4,0M193.7,242.3a1.7,1.7 0 1,0 3.4,0a1.7,1.7 0 1,0 -3.4,0M197.1,242.6a1.7,1.7 0 1,0 3.4,0a1.7,1.7 0 1,0 -3.4,0M185.3,244.4a1.7,1.7 0 1,0 3.4,0a1.7,1.7 0 1,0 -3.4,0M190.4,243.4a1.7,1.7 0 1,0 3.4,0a1.7,1.7 0 1,0 -3.4,0M198.1,246.0a1.7,1.7 0 1,0 3.4,0a1.7,1.7 0 1,0 -3.4,0M198.6,250.6a1.7,1.7 0 1,0 3.4,0a1.7,1.7 0 1,0 -3.4,0M199.7,254.2a1.7,1.7 0 1,0 3.4,0a1.7,1.7 0 1,0 -3.4,0M199.1,242.8a1.7,1.7 0 1,0 3.4,0a1.7,1.7 0 1,0 -3.4,0M200.9,252.5a1.7,1.7 0 1,0 3.4,0a1.7,1.7 0 1,0 -3.4,0M199.7,255.1a1.7,1.7 0 1,0 3.4,0a1.7,1.7 0 1,0 -3.4,0M201.8,243.8a1.7,1.7 0 1,0 3.4,0a1.7,1.7 0 1,0 -3.4,0M201.9,245.3a1.7,1.7 0 1,0 3.4,0a1.7,1.7 0 1,0 -3.4,0M201.7,249.6a1.7,1.7 0 1,0 3.4,0a1.7,1.7 0 1,0 -3.4,0M202.9,268.3a1.7,1.7 0 1,0 3.4,0a1.7,1.7 0 1,0 -3.4,0M210.1,241.3a1.7,1.7 0 1,0 3.4,0a1.7,1.7 0 1,0 -3.4,0M211.1,246.0a1.7,1.7 0 1,0 3.4,0a1.7,1.7 0 1,0 -3.4,0M213.1,245.5a1.7,1.7 0 1,0 3.4,0a1.7,1.7 0 1,0 -3.4,0M217.7,241.1a1.7,1.7 0 1,0 3.4,0a1.7,1.7 0 1,0 -3.4,0M215.9,239.1a1.7,1.7 0 1,0 3.4,0a1.7,1.7 0 1,0 -3.4,0M230.4,247.6a1.7,1.7 0 1,0 3.4,0a1.7,1.7 0 1,0 -3.4,0M225.8,245.0a1.7,1.7 0 1,0 3.4,0a1.7,1.7 0 1,0 -3.4,0M226.3,241.9a1.7,1.7 0 1,0 3.4,0a1.7,1.7 0 1,0 -3.4,0M220.6,237.8a1.7,1.7 0 1,0 3.4,0a1.7,1.7 0 1,0 -3.4,0M218.0,235.7a1.7,1.7 0 1,0 3.4,0a1.7,1.7 0 1,0 -3.4,0M228.4,241.1a1.7,1.7 0 1,0 3.4,0a1.7,1.7 0 1,0 -3.4,0M224.3,238.3a1.7,1.7 0 1,0 3.4,0a1.7,1.7 0 1,0 -3.4,0M226.9,238.2a1.7,1.7 0 1,0 3.4,0a1.7,1.7 0 1,0 -3.4,0M223.8,234.8a1.7,1.7 0 1,0 3.4,0a1.7,1.7 0 1,0 -3.4,0M239.3,243.3a1.7,1.7 0 1,0 3.4,0a1.7,1.7 0 1,0 -3.4,0M221.8,230.3a1.7,1.7 0 1,0 3.4,0a1.7,1.7 0 1,0 -3.4,0M222.7,229.9a1.7,1.7 0 1,0 3.4,0a1.7,1.7 0 1,0 -3.4,0M224.1,229.1a1.7,1.7 0 1,0 3.4,0a1.7,1.7 0 1,0 -3.4,0M234.2,232.2a1.7,1.7 0 1,0 3.4,0a1.7,1.7 0 1,0 -3.4,0M240.4,234.3a1.7,1.7 0 1,0 3.4,0a1.7,1.7 0 1,0 -3.4,0M230.2,229.5a1.7,1.7 0 1,0 3.4,0a1.7,1.7 0 1,0 -3.4,0M233.3,227.6a1.7,1.7 0 1,0 3.4,0a1.7,1.7 0 1,0 -3.4,0M232.1,227.4a1.7,1.7 0 1,0 3.4,0a1.7,1.7 0 1,0 -3.4,0M244.7,231.6a1.7,1.7 0 1,0 3.4,0a1.7,1.7 0 1,0 -3.4,0M236.7,226.7a1.7,1.7 0 1,0 3.4,0a1.7,1.7 0 1,0 -3.4,0M236.0,226.6a1.7,1.7 0 1,0 3.4,0a1.7,1.7 0 1,0 -3.4,0M230.8,222.9a1.7,1.7 0 1,0 3.4,0a1.7,1.7 0 1,0 -3.4,0M237.4,223.5a1.7,1.7 0 1,0 3.4,0a1.7,1.7 0 1,0 -3.4,0M228.3,218.1a1.7,1.7 0 1,0 3.4,0a1.7,1.7 0 1,0 -3.4,0M244.0,225.5a1.7,1.7 0 1,0 3.4,0a1.7,1.7 0 1,0 -3.4,0M237.9,222.4a1.7,1.7 0 1,0 3.4,0a1.7,1.7 0 1,0 -3.4,0M240.5,221.0a1.7,1.7 0 1,0 3.4,0a1.7,1.7 0 1,0 -3.4,0M235.0,219.7a1.7,1.7 0 1,0 3.4,0a1.7,1.7 0 1,0 -3.4,0M234.3,218.3a1.7,1.7 0 1,0 3.4,0a1.7,1.7 0 1,0 -3.4,0M234.6,213.5a1.7,1.7 0 1,0 3.4,0a1.7,1.7 0 1,0 -3.4,0M241.2,218.2a1.7,1.7 0 1,0 3.4,0a1.7,1.7 0 1,0 -3.4,0M234.0,213.6a1.7,1.7 0 1,0 3.4,0a1.7,1.7 0 1,0 -3.4,0M243.2,217.4a1.7,1.7 0 1,0 3.4,0a1.7,1.7 0 1,0 -3.4,0M232.5,211.0a1.7,1.7 0 1,0 3.4,0a1.7,1.7 0 1,0 -3.4,0M243.3,212.9a1.7,1.7 0 1,0 3.4,0a1.7,1.7 0 1,0 -3.4,0M244.1,212.8a1.7,1.7 0 1,0 3.4,0a1.7,1.7 0 1,0 -3.4,0M235.4,207.2a1.7,1.7 0 1,0 3.4,0a1.7,1.7 0 1,0 -3.4,0M248.8,212.4a1.7,1.7 0 1,0 3.4,0a1.7,1.7 0 1,0 -3.4,0M237.1,208.3a1.7,1.7 0 1,0 3.4,0a1.7,1.7 0 1,0 -3.4,0M233.8,205.2a1.7,1.7 0 1,0 3.4,0a1.7,1.7 0 1,0 -3.4,0M234.1,204.9a1.7,1.7 0 1,0 3.4,0a1.7,1.7 0 1,0 -3.4,0M245.2,209.7a1.7,1.7 0 1,0 3.4,0a1.7,1.7 0 1,0 -3.4,0M235.4,202.1a1.7,1.7 0 1,0 3.4,0a1.7,1.7 0 1,0 -3.4,0M240.5,203.5a1.7,1.7 0 1,0 3.4,0a1.7,1.7 0 1,0 -3.4,0M244.1,202.2a1.7,1.7 0 1,0 3.4,0a1.7,1.7 0 1,0 -3.4,0M244.5,202.8a1.7,1.7 0 1,0 3.4,0a1.7,1.7 0 1,0 -3.4,0M244.0,199.3a1.7,1.7 0 1,0 3.4,0a1.7,1.7 0 1,0 -3.4,0M242.8,197.3a1.7,1.7 0 1,0 3.4,0a1.7,1.7 0 1,0 -3.4,0M251.9,203.5a1.7,1.7 0 1,0 3.4,0a1.7,1.7 0 1,0 -3.4,0M246.8,194.8a1.7,1.7 0 1,0 3.4,0a1.7,1.7 0 1,0 -3.4,0M248.3,188.2a1.7,1.7 0 1,0 3.4,0a1.7,1.7 0 1,0 -3.4,0M253.2,186.8a1.7,1.7 0 1,0 3.4,0a1.7,1.7 0 1,0 -3.4,0M250.4,185.3a1.7,1.7 0 1,0 3.4,0a1.7,1.7 0 1,0 -3.4,0M249.5,183.9a1.7,1.7 0 1,0 3.4,0a1.7,1.7 0 1,0 -3.4,0M253.4,183.7a1.7,1.7 0 1,0 3.4,0a1.7,1.7 0 1,0 -3.4,0M260.2,184.7a1.7,1.7 0 1,0 3.4,0a1.7,1.7 0 1,0 -3.4,0M273.1,188.1a1.7,1.7 0 1,0 3.4,0a1.7,1.7 0 1,0 -3.4,0M251.6,177.7a1.7,1.7 0 1,0 3.4,0a1.7,1.7 0 1,0 -3.4,0M262.0,182.2a1.7,1.7 0 1,0 3.4,0a1.7,1.7 0 1,0 -3.4,0M250.6,176.1a1.7,1.7 0 1,0 3.4,0a1.7,1.7 0 1,0 -3.4,0M251.0,175.7a1.7,1.7 0 1,0 3.4,0a1.7,1.7 0 1,0 -3.4,0M253.5,173.5a1.7,1.7 0 1,0 3.4,0a1.7,1.7 0 1,0 -3.4,0M253.9,175.0a1.7,1.7 0 1,0 3.4,0a1.7,1.7 0 1,0 -3.4,0M253.6,173.2a1.7,1.7 0 1,0 3.4,0a1.7,1.7 0 1,0 -3.4,0M254.8,171.4a1.7,1.7 0 1,0 3.4,0a1.7,1.7 0 1,0 -3.4,0M254.5,170.5a1.7,1.7 0 1,0 3.4,0a1.7,1.7 0 1,0 -3.4,0M276.3,181.0a1.7,1.7 0 1,0 3.4,0a1.7,1.7 0 1,0 -3.4,0M270.2,176.8a1.7,1.7 0 1,0 3.4,0a1.7,1.7 0 1,0 -3.4,0M260.6,171.4a1.7,1.7 0 1,0 3.4,0a1.7,1.7 0 1,0 -3.4,0M255.3,167.0a1.7,1.7 0 1,0 3.4,0a1.7,1.7 0 1,0 -3.4,0M260.5,168.3a1.7,1.7 0 1,0 3.4,0a1.7,1.7 0 1,0 -3.4,0M258.0,166.7a1.7,1.7 0 1,0 3.4,0a1.7,1.7 0 1,0 -3.4,0M263.6,165.3a1.7,1.7 0 1,0 3.4,0a1.7,1.7 0 1,0 -3.4,0M268.8,168.4a1.7,1.7 0 1,0 3.4,0a1.7,1.7 0 1,0 -3.4,0M259.7,160.9a1.7,1.7 0 1,0 3.4,0a1.7,1.7 0 1,0 -3.4,0M267.4,164.9a1.7,1.7 0 1,0 3.4,0a1.7,1.7 0 1,0 -3.4,0M259.0,158.1a1.7,1.7 0 1,0 3.4,0a1.7,1.7 0 1,0 -3.4,0M284.8,163.8a1.7,1.7 0 1,0 3.4,0a1.7,1.7 0 1,0 -3.4,0M270.1,158.4a1.7,1.7 0 1,0 3.4,0a1.7,1.7 0 1,0 -3.4,0M262.2,154.6a1.7,1.7 0 1,0 3.4,0a1.7,1.7 0 1,0 -3.4,0M262.4,153.8a1.7,1.7 0 1,0 3.4,0a1.7,1.7 0 1,0 -3.4,0M265.1,154.0a1.7,1.7 0 1,0 3.4,0a1.7,1.7 0 1,0 -3.4,0M277.1,157.7a1.7,1.7 0 1,0 3.4,0a1.7,1.7 0 1,0 -3.4,0M260.3,151.1a1.7,1.7 0 1,0 3.4,0a1.7,1.7 0 1,0 -3.4,0M274.4,155.7a1.7,1.7 0 1,0 3.4,0a1.7,1.7 0 1,0 -3.4,0M264.3,150.9a1.7,1.7 0 1,0 3.4,0a1.7,1.7 0 1,0 -3.4,0M274.6,154.1a1.7,1.7 0 1,0 3.4,0a1.7,1.7 0 1,0 -3.4,0M262.4,148.0a1.7,1.7 0 1,0 3.4,0a1.7,1.7 0 1,0 -3.4,0M266.0,149.8a1.7,1.7 0 1,0 3.4,0a1.7,1.7 0 1,0 -3.4,0M270.8,152.3a1.7,1.7 0 1,0 3.4,0a1.7,1.7 0 1,0 -3.4,0M277.7,153.1a1.7,1.7 0 1,0 3.4,0a1.7,1.7 0 1,0 -3.4,0M271.5,149.4a1.7,1.7 0 1,0 3.4,0a1.7,1.7 0 1,0 -3.4,0M265.0,142.9a1.7,1.7 0 1,0 3.4,0a1.7,1.7 0 1,0 -3.4,0M267.9,142.3a1.7,1.7 0 1,0 3.4,0a1.7,1.7 0 1,0 -3.4,0M266.1,141.8a1.7,1.7 0 1,0 3.4,0a1.7,1.7 0 1,0 -3.4,0M270.0,139.6a1.7,1.7 0 1,0 3.4,0a1.7,1.7 0 1,0 -3.4,0M281.1,140.5a1.7,1.7 0 1,0 3.4,0a1.7,1.7 0 1,0 -3.4,0M275.1,136.8a1.7,1.7 0 1,0 3.4,0a1.7,1.7 0 1,0 -3.4,0M267.7,135.8a1.7,1.7 0 1,0 3.4,0a1.7,1.7 0 1,0 -3.4,0M280.6,136.4a1.7,1.7 0 1,0 3.4,0a1.7,1.7 0 1,0 -3.4,0M268.7,133.4a1.7,1.7 0 1,0 3.4,0a1.7,1.7 0 1,0 -3.4,0M271.3,133.5a1.7,1.7 0 1,0 3.4,0a1.7,1.7 0 1,0 -3.4,0M280.4,136.1a1.7,1.7 0 1,0 3.4,0a1.7,1.7 0 1,0 -3.4,0M275.1,132.3a1.7,1.7 0 1,0 3.4,0a1.7,1.7 0 1,0 -3.4,0M274.7,131.9a1.7,1.7 0 1,0 3.4,0a1.7,1.7 0 1,0 -3.4,0M279.0,133.8a1.7,1.7 0 1,0 3.4,0a1.7,1.7 0 1,0 -3.4,0M277.4,129.8a1.7,1.7 0 1,0 3.4,0a1.7,1.7 0 1,0 -3.4,0M282.1,133.6a1.7,1.7 0 1,0 3.4,0a1.7,1.7 0 1,0 -3.4,0M271.9,126.3a1.7,1.7 0 1,0 3.4,0a1.7,1.7 0 1,0 -3.4,0M275.4,121.0a1.7,1.7 0 1,0 3.4,0a1.7,1.7 0 1,0 -3.4,0M275.4,121.1a1.7,1.7 0 1,0 3.4,0a1.7,1.7 0 1,0 -3.4,0M284.5,118.4a1.7,1.7 0 1,0 3.4,0a1.7,1.7 0 1,0 -3.4,0M281.2,118.4a1.7,1.7 0 1,0 3.4,0a1.7,1.7 0 1,0 -3.4,0M278.8,107.7a1.7,1.7 0 1,0 3.4,0a1.7,1.7 0 1,0 -3.4,0M280.8,104.3a1.7,1.7 0 1,0 3.4,0a1.7,1.7 0 1,0 -3.4,0M278.1,100.7a1.7,1.7 0 1,0 3.4,0a1.7,1.7 0 1,0 -3.4,0M295.8,103.5a1.7,1.7 0 1,0 3.4,0a1.7,1.7 0 1,0 -3.4,0M279.7,97.9a1.7,1.7 0 1,0 3.4,0a1.7,1.7 0 1,0 -3.4,0M281.5,91.2a1.7,1.7 0 1,0 3.4,0a1.7,1.7 0 1,0 -3.4,0M302.6,91.0a1.7,1.7 0 1,0 3.4,0a1.7,1.7 0 1,0 -3.4,0M284.0,78.5a1.7,1.7 0 1,0 3.4,0a1.7,1.7 0 1,0 -3.4,0M296.8,83.9a1.7,1.7 0 1,0 3.4,0a1.7,1.7 0 1,0 -3.4,0" fill="#ff00ff"/>
<path d="M92.7,5.5a1.6,1.6 0 1,0 3.2,0a1.6,1.6 0 1,0 -3.2,0M117.4,14.5a1.6,1.6 0 1,0 3.2,0a1.6,1.6 0 1,0 -3.2,0M107.1,25.1a1.6,1.6 0 1,0 3.2,0a1.6,1.6 0 1,0 -3.2,0M125.0,23.3a1.6,1.6 0 1,0 3.2,0a1.6,1.6 0 1,0 -3.2,0M127.4,23.7a1.6,1.6 0 1,0 3.2,0a1.6,1.6 0 1,0 -3.2,0M129.3,24.8a1.6,1.6 0 1,0 3.2,0a1.6,1.6 0 1,0 -3.2,0M130.5,26.6a1.6,1.6 0 1,0 3.2,0a1.6,1.6 0 1,0 -3.2,0M126.3,23.5a1.6,1.6 0 1,0 3.2,0a1.6,1.6 0 1,0 -3.2,0M89.0,32.1a1.6,1.6 0 1,0 3.2,0a1.6,1.6 0 1,0 -3.2,0M116.4,30.2a1.6,1.6 0 1,0 3.2,0a1.6,1.6 0 1,0 -3.2,0M115.9,35.2a1.6,1.6 0 1,0 3.2,0a1.6,1.6 0 1,0 -3.2,0M117.2,39.2a1.6,1.6 0 1,0 3.2,0a1.6,1.6 0 1,0 -3.2,0M129.3,36.1a1.6,1.6 0 1,0 3.2,0a1.6,1.6 0 1,0 -3.2,0M121.8,48.9a1.6,1.6 0 1,0 3.2,0a1.6,1.6 0 1,0 -3.2,0M126.9,48.9a1.6,1.6 0 1,0 3.2,0a1.6,1.6 0 1,0 -3.2,0M83.9,54.8a1.6,1.6 0 1,0 3.2,0a1.6,1.6 0 1,0 -3.2,0M85.4,55.9a1.6,1.6 0 1,0 3.2,0a1.6,1.6 0 1,0 -3.2,0M95.4,54.4a1.6,1.6 0 1,0 3.2,0a1.6,1.6 0 1,0 -3.2,0M105.5,52.9a1.6,1.6 0 1,0 3.2,0a1.6,1.6 0 1,0 -3.2,0M110.4,58.4a1.6,1.6 0 1,0 3.2,0a1.6,1.6 0 1,0 -3.2,0M113.2,58.4a1.6,1.6 0 1,0 3.2,0a1.6,1.6 0 1,0 -3.2,0M115.9,63.9a1.6,1.6 0 1,0 3.2,0a1.6,1.6 0 1,0 -3.2,0M104.9,68.8a1.6,1.6 0 1,0 3.2,0a1.6,1.6 0 1,0 -3.2,0M108.6,71.9a1.6,1.6 0 1,0 3.2,0a1.6,1.6 0 1,0 -3.2,0M111.3,67.0a1.6,1.6 0 1,0 3.2,0a1.6,1.6 0 1,0 -3.2,0M112.2,70.1a1.6,1.6 0 1,0 3.2,0a1.6,1.6 0 1,0 -3.2,0M117.4,67.0a1.6,1.6 0 1,0 3.2,0a1.6,1.6 0 1,0 -3.2,0M109.1,79.2a1.6,1.6 0 1,0 3.2,0a1.6,1.6 0 1,0 -3.2,0M107.7,85.6a1.6,1.6 0 1,0 3.2,0a1.6,1.6 0 1,0 -3.2,0M107.3,88.9a1.6,1.6 0 1,0 3.2,0a1.6,1.6 0 1,0 -3.2,0M114.1,87.4a1.6,1.6 0 1,0 3.2,0a1.6,1.6 0 1,0 -3.2,0M116.3,85.6a1.6,1.6 0 1,0 3.2,0a1.6,1.6 0 1,0 -3.2,0M113.2,92.6a1.6,1.6 0 1,0 3.2,0a1.6,1.6 0 1,0 -3.2,0M121.4,85.6a1.6,1.6 0 1,0 3.2,0a1.6,1.6 0 1,0 -3.2,0M122.3,88.4a1.6,1.6 0 1,0 3.2,0a1.6,1.6 0 1,0 -3.2,0M123.2,73.2a1.6,1.6 0 1,0 3.2,0a1.6,1.6 0 1,0 -3.2,0M129.6,97.5a1.6,1.6 0 1,0 3.2,0a1.6,1.6 0 1,0 -3.2,0M119.6,117.3a1.6,1.6 0 1,0 3.2,0a1.6,1.6 0 1,0 -3.2,0M120.5,120.1a1.6,1.6 0 1,0 3.2,0a1.6,1.6 0 1,0 -3.2,0M128.2,121.9a1.6,1.6 0 1,0 3.2,0a1.6,1.6 0 1,0 -3.2,0M130.0,123.2a1.6,1.6 0 1,0 3.2,0a1.6,1.6 0 1,0 -3.2,0M132.4,118.2a1.6,1.6 0 1,0 3.2,0a1.6,1.6 0 1,0 -3.2,0M135.1,124.6a1.6,1.6 0 1,0 3.2,0a1.6,1.6 0 1,0 -3.2,0M121.8,128.7a1.6,1.6 0 1,0 3.2,0a1.6,1.6 0 1,0 -3.2,0M124.1,132.9a1.6,1.6 0 1,0 3.2,0a1.6,1.6 0 1,0 -3.2,0M126.9,131.6a1.6,1.6 0 1,0 3.2,0a1.6,1.6 0 1,0 -3.2,0M132.4,129.8a1.6,1.6 0 1,0 3.2,0a1.6,1.6 0 1,0 -3.2,0M133.3,131.6a1.6,1.6 0 1,0 3.2,0a1.6,1.6 0 1,0 -3.2,0M140.6,138.4a1.6,1.6 0 1,0 3.2,0a1.6,1.6 0 1,0 -3.2,0M134.6,148.4a1.6,1.6 0 1,0 3.2,0a1.6,1.6 0 1,0 -3.2,0M134.6,153.9a1.6,1.6 0 1,0 3.2,0a1.6,1.6 0 1,0 -3.2,0M143.7,146.2a1.6,1.6 0 1,0 3.2,0a1.6,1.6 0 1,0 -3.2,0M145.5,145.1a1.6,1.6 0 1,0 3.2,0a1.6,1.6 0 1,0 -3.2,0M138.8,155.7a1.6,1.6 0 1,0 3.2,0a1.6,1.6 0 1,0 -3.2,0M143.2,155.7a1.6,1.6 0 1,0 3.2,0a1.6,1.6 0 1,0 -3.2,0M144.7,45.9a1.6,1.6 0 1,0 3.2,0a1.6,1.6 0 1,0 -3.2,0M147.9,45.2a1.6,1.6 0 1,0 3.2,0a1.6,1.6 0 1,0 -3.2,0M155.2,43.8a1.6,1.6 0 1,0 3.2,0a1.6,1.6 0 1,0 -3.2,0M153.7,58.0a1.6,1.6 0 1,0 3.2,0a1.6,1.6 0 1,0 -3.2,0M178.9,57.3a1.6,1.6 0 1,0 3.2,0a1.6,1.6 0 1,0 -3.2,0M188.8,58.0a1.6,1.6 0 1,0 3.2,0a1.6,1.6 0 1,0 -3.2,0M172.0,61.1a1.6,1.6 0 1,0 3.2,0a1.6,1.6 0 1,0 -3.2,0M328.6,25.7a1.6,1.6 0 1,0 3.2,0a1.6,1.6 0 1,0 -3.2,0M327.0,27.9a1.6,1.6 0 1,0 3.2,0a1.6,1.6 0 1,0 -3.2,0M339.2,30.9a1.6,1.6 0 1,0 3.2,0a1.6,1.6 0 1,0 -3.2,0M343.8,31.8a1.6,1.6 0 1,0 3.2,0a1.6,1.6 0 1,0 -3.2,0M351.4,34.0a1.6,1.6 0 1,0 3.2,0a1.6,1.6 0 1,0 -3.2,0M314.9,30.9a1.6,1.6 0 1,0 3.2,0a1.6,1.6 0 1,0 -3.2,0M303.6,31.8a1.6,1.6 0 1,0 3.2,0a1.6,1.6 0 1,0 -3.2,0M322.4,35.5a1.6,1.6 0 1,0 3.2,0a1.6,1.6 0 1,0 -3.2,0M288.9,37.0a1.6,1.6 0 1,0 3.2,0a1.6,1.6 0 1,0 -3.2,0M293.5,41.6a1.6,1.6 0 1,0 3.2,0a1.6,1.6 0 1,0 -3.2,0M308.8,41.6a1.6,1.6 0 1,0 3.2,0a1.6,1.6 0 1,0 -3.2,0M311.8,41.0a1.6,1.6 0 1,0 3.2,0a1.6,1.6 0 1,0 -3.2,0M346.9,41.0a1.6,1.6 0 1,0 3.2,0a1.6,1.6 0 1,0 -3.2,0M349.9,44.0a1.6,1.6 0 1,0 3.2,0a1.6,1.6 0 1,0 -3.2,0M317.9,45.5a1.6,1.6 0 1,0 3.2,0a1.6,1.6 0 1,0 -3.2,0M283.4,44.6a1.6,1.6 0 1,0 3.2,0a1.6,1.6 0 1,0 -3.2,0M270.6,48.3a1.6,1.6 0 1,0 3.2,0a1.6,1.6 0 1,0 -3.2,0M334.1,47.7a1.6,1.6 0 1,0 3.2,0a1.6,1.6 0 1,0 -3.2,0M340.8,47.0a1.6,1.6 0 1,0 3.2,0a1.6,1.6 0 1,0 -3.2,0M317.9,49.2a1.6,1.6 0 1,0 3.2,0a1.6,1.6 0 1,0 -3.2,0M322.4,53.8a1.6,1.6 0 1,0 3.2,0a1.6,1.6 0 1,0 -3.2,0M311.8,57.4a1.6,1.6 0 1,0 3.2,0a1.6,1.6 0 1,0 -3.2,0M327.0,66.0a1.6,1.6 0 1,0 3.2,0a1.6,1.6 0 1,0 -3.2,0M304.2,63.0a1.6,1.6 0 1,0 3.2,0a1.6,1.6 0 1,0 -3.2,0M317.9,64.5a1.6,1.6 0 1,0 3.2,0a1.6,1.6 0 1,0 -3.2,0M302.7,72.0a1.6,1.6 0 1,0 3.2,0a1.6,1.6 0 1,0 -3.2,0M304.8,73.6a1.6,1.6 0 1,0 3.2,0a1.6,1.6 0 1,0 -3.2,0M319.4,72.0a1.6,1.6 0 1,0 3.2,0a1.6,1.6 0 1,0 -3.2,0M316.4,76.6a1.6,1.6 0 1,0 3.2,0a1.6,1.6 0 1,0 -3.2,0M324.0,83.7a1.6,1.6 0 1,0 3.2,0a1.6,1.6 0 1,0 -3.2,0M327.7,82.7a1.6,1.6 0 1,0 3.2,0a1.6,1.6 0 1,0 -3.2,0M320.9,84.3a1.6,1.6 0 1,0 3.2,0a1.6,1.6 0 1,0 -3.2,0M320.3,87.9a1.6,1.6 0 1,0 3.2,0a1.6,1.6 0 1,0 -3.2,0M314.9,97.0a1.6,1.6 0 1,0 3.2,0a1.6,1.6 0 1,0 -3.2,0M295.0,63.0a1.6,1.6 0 1,0 3.2,0a1.6,1.6 0 1,0 -3.2,0M296.6,69.0a1.6,1.6 0 1,0 3.2,0a1.6,1.6 0 1,0 -3.2,0M293.5,75.1a1.6,1.6 0 1,0 3.2,0a1.6,1.6 0 1,0 -3.2,0M295.0,78.2a1.6,1.6 0 1,0 3.2,0a1.6,1.6 0 1,0 -3.2,0M295.0,87.3a1.6,1.6 0 1,0 3.2,0a1.6,1.6 0 1,0 -3.2,0M296.6,90.4a1.6,1.6 0 1,0 3.2,0a1.6,1.6 0 1,0 -3.2,0M292.0,99.5a1.6,1.6 0 1,0 3.2,0a1.6,1.6 0 1,0 -3.2,0M267.6,58.4a1.6,1.6 0 1,0 3.2,0a1.6,1.6 0 1,0 -3.2,0M289.2,37.5a1.6,1.6 0 1,0 3.2,0a1.6,1.6 0 1,0 -3.2,0M290.9,42.7a1.6,1.6 0 1,0 3.2,0a1.6,1.6 0 1,0 -3.2,0M285.6,44.4a1.6,1.6 0 1,0 3.2,0a1.6,1.6 0 1,0 -3.2,0M267.4,57.2a1.6,1.6 0 1,0 3.2,0a1.6,1.6 0 1,0 -3.2,0M290.0,63.9a1.6,1.6 0 1,0 3.2,0a1.6,1.6 0 1,0 -3.2,0M288.2,75.5a1.6,1.6 0 1,0 3.2,0a1.6,1.6 0 1,0 -3.2,0M296.3,88.3a1.6,1.6 0 1,0 3.2,0a1.6,1.6 0 1,0 -3.2,0M297.2,89.6a1.6,1.6 0 1,0 3.2,0a1.6,1.6 0 1,0 -3.2,0M320.1,87.7a1.6,1.6 0 1,0 3.2,0a1.6,1.6 0 1,0 -3.2,0M315.5,97.8a1.6,1.6 0 1,0 3.2,0a1.6,1.6 0 1,0 -3.2,0M292.7,98.7a1.6,1.6 0 1,0 3.2,0a1.6,1.6 0 1,0 -3.2,0M291.8,103.3a1.6,1.6 0 1,0 3.2,0a1.6,1.6 0 1,0 -3.2,0M287.2,105.1a1.6,1.6 0 1,0 3.2,0a1.6,1.6 0 1,0 -3.2,0M290.8,109.7a1.6,1.6 0 1,0 3.2,0a1.6,1.6 0 1,0 -3.2,0M289.0,110.6a1.6,1.6 0 1,0 3.2,0a1.6,1.6 0 1,0 -3.2,0M288.1,112.4a1.6,1.6 0 1,0 3.2,0a1.6,1.6 0 1,0 -3.2,0M308.2,109.7a1.6,1.6 0 1,0 3.2,0a1.6,1.6 0 1,0 -3.2,0M311.3,108.4a1.6,1.6 0 1,0 3.2,0a1.6,1.6 0 1,0 -3.2,0M308.2,112.8a1.6,1.6 0 1,0 3.2,0a1.6,1.6 0 1,0 -3.2,0M282.6,121.6a1.6,1.6 0 1,0 3.2,0a1.6,1.6 0 1,0 -3.2,0M272.5,123.4a1.6,1.6 0 1,0 3.2,0a1.6,1.6 0 1,0 -3.2,0M277.1,126.2a1.6,1.6 0 1,0 3.2,0a1.6,1.6 0 1,0 -3.2,0M280.8,132.6a1.6,1.6 0 1,0 3.2,0a1.6,1.6 0 1,0 -3.2,0M282.6,133.5a1.6,1.6 0 1,0 3.2,0a1.6,1.6 0 1,0 -3.2,0M281.7,138.0a1.6,1.6 0 1,0 3.2,0a1.6,1.6 0 1,0 -3.2,0M288.1,134.0a1.6,1.6 0 1,0 3.2,0a1.6,1.6 0 1,0 -3.2,0M290.8,131.6a1.6,1.6 0 1,0 3.2,0a1.6,1.6 0 1,0 -3.2,0M292.7,134.4a1.6,1.6 0 1,0 3.2,0a1.6,1.6 0 1,0 -3.2,0M270.7,134.4a1.6,1.6 0 1,0 3.2,0a1.6,1.6 0 1,0 -3.2,0M276.2,136.2a1.6,1.6 0 1,0 3.2,0a1.6,1.6 0 1,0 -3.2,0M271.6,141.7a1.6,1.6 0 1,0 3.2,0a1.6,1.6 0 1,0 -3.2,0M314.6,97.6a1.6,1.6 0 1,0 3.2,0a1.6,1.6 0 1,0 -3.2,0M308.5,111.3a1.6,1.6 0 1,0 3.2,0a1.6,1.6 0 1,0 -3.2,0M311.6,108.3a1.6,1.6 0 1,0 3.2,0a1.6,1.6 0 1,0 -3.2,0M281.1,141.8a1.6,1.6 0 1,0 3.2,0a1.6,1.6 0 1,0 -3.2,0M276.5,146.4a1.6,1.6 0 1,0 3.2,0a1.6,1.6 0 1,0 -3.2,0M279.6,154.0a1.6,1.6 0 1,0 3.2,0a1.6,1.6 0 1,0 -3.2,0M273.5,154.0a1.6,1.6 0 1,0 3.2,0a1.6,1.6 0 1,0 -3.2,0M281.1,166.2a1.6,1.6 0 1,0 3.2,0a1.6,1.6 0 1,0 -3.2,0M275.0,161.6a1.6,1.6 0 1,0 3.2,0a1.6,1.6 0 1,0 -3.2,0M267.4,170.8a1.6,1.6 0 1,0 3.2,0a1.6,1.6 0 1,0 -3.2,0M276.5,180.0a1.6,1.6 0 1,0 3.2,0a1.6,1.6 0 1,0 -3.2,0M265.8,178.4a1.6,1.6 0 1,0 3.2,0a1.6,1.6 0 1,0 -3.2,0M258.2,184.5a1.6,1.6 0 1,0 3.2,0a1.6,1.6 0 1,0 -3.2,0M265.4,197.4a1.6,1.6 0 1,0 3.2,0a1.6,1.6 0 1,0 -3.2,0M254.8,212.7a1.6,1.6 0 1,0 3.2,0a1.6,1.6 0 1,0 -3.2,0M247.2,221.8a1.6,1.6 0 1,0 3.2,0a1.6,1.6 0 1,0 -3.2,0M241.1,227.9a1.6,1.6 0 1,0 3.2,0a1.6,1.6 0 1,0 -3.2,0M242.6,235.5a1.6,1.6 0 1,0 3.2,0a1.6,1.6 0 1,0 -3.2,0M231.9,240.1a1.6,1.6 0 1,0 3.2,0a1.6,1.6 0 1,0 -3.2,0M228.9,250.8a1.6,1.6 0 1,0 3.2,0a1.6,1.6 0 1,0 -3.2,0M235.0,243.2a1.6,1.6 0 1,0 3.2,0a1.6,1.6 0 1,0 -3.2,0M230.2,242.9a1.6,1.6 0 1,0 3.2,0a1.6,1.6 0 1,0 -3.2,0M233.6,242.9a1.6,1.6 0 1,0 3.2,0a1.6,1.6 0 1,0 -3.2,0M231.3,266.9a1.6,1.6 0 1,0 3.2,0a1.6,1.6 0 1,0 -3.2,0M234.7,268.0a1.6,1.6 0 1,0 3.2,0a1.6,1.6 0 1,0 -3.2,0M182.1,271.5a1.6,1.6 0 1,0 3.2,0a1.6,1.6 0 1,0 -3.2,0M180.9,271.0a1.6,1.6 0 1,0 3.2,0a1.6,1.6 0 1,0 -3.2,0M217.0,266.8a1.6,1.6 0 1,0 3.2,0a1.6,1.6 0 1,0 -3.2,0M217.8,261.8a1.6,1.6 0 1,0 3.2,0a1.6,1.6 0 1,0 -3.2,0" fill="#ff00ff"/>
<path d="M200.6,240 L200.4,250 L200.8,262 L200.5,271" stroke="#fff" stroke-width="1.1" fill="none"/>
<path d="M133.0,47.5 C131.8,48.1 129.5,49.8 128.5,51.0 C127.5,52.2 126.8,54.0 127.0,55.0 C127.2,56.0 129.0,56.2 129.5,57.0 C130.0,57.8 130.1,58.7 130.0,60.0 C129.9,61.3 129.7,63.3 129.0,65.0 C128.3,66.7 126.8,68.3 126.0,70.0 C125.2,71.7 124.2,73.3 124.5,75.0 C124.8,76.7 126.9,78.3 128.0,80.0 C129.1,81.7 130.1,83.3 131.0,85.0 C131.9,86.7 132.7,88.3 133.5,90.0 C134.3,91.7 135.1,93.3 136.0,95.0 C136.9,96.7 138.2,98.5 139.0,100.0 C139.8,101.5 140.1,102.7 140.5,104.0 C140.9,105.3 140.8,105.7 141.5,108.0 C142.2,110.3 143.8,115.2 145.0,118.0 C146.2,120.8 147.2,122.7 148.5,125.0 C149.8,127.3 151.3,129.5 152.5,132.0 C153.7,134.5 154.7,137.3 155.5,140.0 C156.3,142.7 156.9,145.3 157.5,148.0 C158.1,150.7 158.3,153.3 159.0,156.0 C159.7,158.7 160.6,161.3 161.5,164.0 C162.4,166.7 163.6,169.5 164.5,172.0 C165.4,174.5 165.8,176.7 167.0,179.0 C168.2,181.3 170.3,183.8 171.5,186.0 C172.7,188.2 173.1,189.8 174.0,192.0 C174.9,194.2 175.7,196.5 177.0,199.0 C178.3,201.5 179.2,204.5 182.0,207.0 C184.8,209.5 191.6,211.5 194.0,214.0 C196.4,216.5 195.8,219.0 196.5,222.0 C197.2,225.0 197.9,228.7 198.5,232.0 C199.1,235.3 199.1,240.3 200.0,242.0 C200.9,243.7 203.1,243.7 204.0,242.0 C204.9,240.3 204.9,235.3 205.5,232.0 C206.1,228.7 207.1,225.0 207.5,222.0 C207.9,219.0 207.6,216.5 207.7,214.0 C207.8,211.5 208.2,209.5 208.3,207.0 C208.4,204.5 208.3,201.5 208.3,199.0 C208.3,196.5 208.6,194.2 208.5,192.0 C208.4,189.8 208.1,188.2 208.0,186.0 C207.9,183.8 207.9,181.3 207.8,179.0 C207.8,176.7 208.2,174.5 207.7,172.0 C207.2,169.5 205.8,166.7 205.0,164.0 C204.2,161.3 203.7,158.7 203.0,156.0 C202.3,153.3 201.7,150.7 201.0,148.0 C200.3,145.3 200.0,142.7 199.0,140.0 C198.0,137.3 196.2,134.5 195.0,132.0 C193.8,129.5 192.6,127.3 191.5,125.0 C190.4,122.7 190.0,120.8 188.5,118.0 C187.0,115.2 183.8,110.3 182.5,108.0 C181.2,105.7 181.2,105.3 180.5,104.0 C179.8,102.7 179.3,101.5 178.5,100.0 C177.7,98.5 176.6,96.7 175.5,95.0 C174.4,93.3 173.0,91.7 172.0,90.0 C171.0,88.3 170.7,86.7 169.5,85.0 C168.3,83.3 166.6,81.7 165.0,80.0 C163.4,78.3 161.5,76.7 160.0,75.0 C158.5,73.3 157.2,71.7 156.0,70.0 C154.8,68.3 153.9,66.7 153.0,65.0 C152.1,63.3 151.7,61.3 150.5,60.0 C149.3,58.7 147.6,57.8 146.0,57.0 C144.4,56.2 142.2,56.0 141.0,55.0 C139.8,54.0 139.4,52.2 138.5,51.0 C137.6,49.8 136.4,48.1 135.5,47.5 C134.6,46.9 134.2,46.9 133.0,47.5 Z" fill="#0000ff"/>
<path d="M283.0,55.5 C280.9,55.9 278.2,57.1 276.0,58.0 C273.8,58.9 271.4,60.0 270.0,61.0 C268.6,62.0 268.2,63.0 267.5,64.0 C266.8,65.0 266.6,66.0 266.0,67.0 C265.4,68.0 264.8,68.7 264.0,70.0 C263.2,71.3 262.1,73.3 261.0,75.0 C259.9,76.7 258.7,78.3 257.5,80.0 C256.3,81.7 255.7,83.3 254.0,85.0 C252.3,86.7 248.8,88.3 247.4,90.0 C246.0,91.7 246.0,93.3 245.5,95.0 C245.0,96.7 245.4,97.8 244.5,100.0 C243.6,102.2 241.4,105.5 240.0,108.0 C238.6,110.5 237.3,112.7 236.0,115.0 C234.7,117.3 232.9,120.2 232.0,122.0 C231.1,123.8 231.4,124.2 230.5,126.0 C229.6,127.8 227.7,130.7 226.5,133.0 C225.3,135.3 224.8,137.8 223.5,140.0 C222.2,142.2 219.9,144.0 219.0,146.0 C218.1,148.0 218.5,149.8 218.0,152.0 C217.5,154.2 216.4,156.8 216.0,159.0 C215.6,161.2 215.7,162.8 215.5,165.0 C215.3,167.2 215.2,169.7 215.0,172.0 C214.8,174.3 214.8,176.8 214.5,179.0 C214.2,181.2 213.3,182.8 213.0,185.0 C212.7,187.2 212.6,190.2 212.5,192.0 C212.4,193.8 212.4,194.0 212.3,196.0 C212.2,198.0 212.0,201.3 212.0,204.0 C212.0,206.7 212.3,209.5 212.5,212.0 C212.7,214.5 213.2,216.3 213.0,219.0 C212.8,221.7 211.8,225.5 211.5,228.0 C211.2,230.5 210.8,232.0 211.0,234.0 C211.2,236.0 211.8,239.0 212.5,240.0 C213.2,241.0 213.8,241.0 215.0,240.0 C216.2,239.0 218.1,236.0 219.5,234.0 C220.9,232.0 222.2,230.5 223.5,228.0 C224.8,225.5 225.8,221.7 227.0,219.0 C228.2,216.3 229.3,214.5 230.5,212.0 C231.7,209.5 232.4,206.7 234.0,204.0 C235.6,201.3 238.3,198.0 240.0,196.0 C241.7,194.0 242.8,193.8 244.0,192.0 C245.2,190.2 246.6,187.2 247.5,185.0 C248.4,182.8 248.8,181.2 249.5,179.0 C250.2,176.8 250.9,174.3 252.0,172.0 C253.1,169.7 254.8,167.2 256.0,165.0 C257.2,162.8 258.2,161.2 259.0,159.0 C259.8,156.8 259.8,154.2 260.5,152.0 C261.2,149.8 261.8,148.0 263.0,146.0 C264.2,144.0 266.5,142.2 267.5,140.0 C268.5,137.8 268.2,135.3 269.0,133.0 C269.8,130.7 271.6,127.8 272.5,126.0 C273.4,124.2 273.8,123.8 274.5,122.0 C275.2,120.2 275.9,117.3 276.5,115.0 C277.1,112.7 277.6,110.5 278.0,108.0 C278.4,105.5 278.5,102.2 279.0,100.0 C279.5,97.8 280.5,96.7 281.0,95.0 C281.5,93.3 281.7,91.7 282.0,90.0 C282.3,88.3 283.0,86.7 283.0,85.0 C283.0,83.3 281.8,81.7 282.0,80.0 C282.2,78.3 284.0,76.7 284.5,75.0 C285.0,73.3 284.9,71.3 285.0,70.0 C285.1,68.7 284.8,68.0 285.0,67.0 C285.2,66.0 285.6,65.0 286.0,64.0 C286.4,63.0 287.0,62.0 287.5,61.0 C288.0,60.0 288.8,58.9 289.0,58.0 C289.2,57.1 289.5,55.9 288.5,55.5 C287.5,55.1 285.1,55.1 283.0,55.5 Z" fill="#0000ff"/>
<path d="M288.4,50.1a1.6,1.6 0 1,0 3.2,0a1.6,1.6 0 1,0 -3.2,0M293.5,55.3a1.6,1.6 0 1,0 3.2,0a1.6,1.6 0 1,0 -3.2,0M295.0,59.9a1.6,1.6 0 1,0 3.2,0a1.6,1.6 0 1,0 -3.2,0M301.1,66.0a1.6,1.6 0 1,0 3.2,0a1.6,1.6 0 1,0 -3.2,0M295.9,78.8a1.6,1.6 0 1,0 3.2,0a1.6,1.6 0 1,0 -3.2,0M288.9,72.0a1.6,1.6 0 1,0 3.2,0a1.6,1.6 0 1,0 -3.2,0M290.4,82.7a1.6,1.6 0 1,0 3.2,0a1.6,1.6 0 1,0 -3.2,0M287.4,90.4a1.6,1.6 0 1,0 3.2,0a1.6,1.6 0 1,0 -3.2,0M290.4,98.0a1.6,1.6 0 1,0 3.2,0a1.6,1.6 0 1,0 -3.2,0M283.5,85.9a1.6,1.6 0 1,0 3.2,0a1.6,1.6 0 1,0 -3.2,0M287.2,90.5a1.6,1.6 0 1,0 3.2,0a1.6,1.6 0 1,0 -3.2,0M290.8,92.3a1.6,1.6 0 1,0 3.2,0a1.6,1.6 0 1,0 -3.2,0M285.4,94.1a1.6,1.6 0 1,0 3.2,0a1.6,1.6 0 1,0 -3.2,0M287.2,98.2a1.6,1.6 0 1,0 3.2,0a1.6,1.6 0 1,0 -3.2,0M282.6,104.2a1.6,1.6 0 1,0 3.2,0a1.6,1.6 0 1,0 -3.2,0M281.7,110.6a1.6,1.6 0 1,0 3.2,0a1.6,1.6 0 1,0 -3.2,0M279.9,115.2a1.6,1.6 0 1,0 3.2,0a1.6,1.6 0 1,0 -3.2,0M278.9,125.2a1.6,1.6 0 1,0 3.2,0a1.6,1.6 0 1,0 -3.2,0M273.5,121.6a1.6,1.6 0 1,0 3.2,0a1.6,1.6 0 1,0 -3.2,0M127.8,89.3a1.6,1.6 0 1,0 3.2,0a1.6,1.6 0 1,0 -3.2,0M125.6,92.6a1.6,1.6 0 1,0 3.2,0a1.6,1.6 0 1,0 -3.2,0M130.0,92.6a1.6,1.6 0 1,0 3.2,0a1.6,1.6 0 1,0 -3.2,0M131.4,98.4a1.6,1.6 0 1,0 3.2,0a1.6,1.6 0 1,0 -3.2,0M130.5,103.0a1.6,1.6 0 1,0 3.2,0a1.6,1.6 0 1,0 -3.2,0M133.3,106.6a1.6,1.6 0 1,0 3.2,0a1.6,1.6 0 1,0 -3.2,0M136.6,110.3a1.6,1.6 0 1,0 3.2,0a1.6,1.6 0 1,0 -3.2,0M137.3,117.7a1.6,1.6 0 1,0 3.2,0a1.6,1.6 0 1,0 -3.2,0M139.1,127.4a1.6,1.6 0 1,0 3.2,0a1.6,1.6 0 1,0 -3.2,0M142.8,127.4a1.6,1.6 0 1,0 3.2,0a1.6,1.6 0 1,0 -3.2,0M146.4,133.8a1.6,1.6 0 1,0 3.2,0a1.6,1.6 0 1,0 -3.2,0M147.9,142.0a1.6,1.6 0 1,0 3.2,0a1.6,1.6 0 1,0 -3.2,0M149.2,154.8a1.6,1.6 0 1,0 3.2,0a1.6,1.6 0 1,0 -3.2,0M147.4,158.5a1.6,1.6 0 1,0 3.2,0a1.6,1.6 0 1,0 -3.2,0M178.5,222.2a1.6,1.6 0 1,0 3.2,0a1.6,1.6 0 1,0 -3.2,0M186.9,234.1a1.6,1.6 0 1,0 3.2,0a1.6,1.6 0 1,0 -3.2,0M197.4,241.1a1.6,1.6 0 1,0 3.2,0a1.6,1.6 0 1,0 -3.2,0M197.4,246.0a1.6,1.6 0 1,0 3.2,0a1.6,1.6 0 1,0 -3.2,0M203.7,251.6a1.6,1.6 0 1,0 3.2,0a1.6,1.6 0 1,0 -3.2,0M203.0,255.8a1.6,1.6 0 1,0 3.2,0a1.6,1.6 0 1,0 -3.2,0M212.1,252.3a1.6,1.6 0 1,0 3.2,0a1.6,1.6 0 1,0 -3.2,0M216.3,239.7a1.6,1.6 0 1,0 3.2,0a1.6,1.6 0 1,0 -3.2,0M218.4,228.5a1.6,1.6 0 1,0 3.2,0a1.6,1.6 0 1,0 -3.2,0M210.7,224.3a1.6,1.6 0 1,0 3.2,0a1.6,1.6 0 1,0 -3.2,0M212.8,232.7a1.6,1.6 0 1,0 3.2,0a1.6,1.6 0 1,0 -3.2,0M197.7,242.0a1.6,1.6 0 1,0 3.2,0a1.6,1.6 0 1,0 -3.2,0M197.7,246.4a1.6,1.6 0 1,0 3.2,0a1.6,1.6 0 1,0 -3.2,0M205.2,266.5a1.6,1.6 0 1,0 3.2,0a1.6,1.6 0 1,0 -3.2,0M215.3,241.7a1.6,1.6 0 1,0 3.2,0a1.6,1.6 0 1,0 -3.2,0M207.4,214.0a1.6,1.6 0 1,0 3.2,0a1.6,1.6 0 1,0 -3.2,0M208.4,220.0a1.6,1.6 0 1,0 3.2,0a1.6,1.6 0 1,0 -3.2,0M206.9,228.0a1.6,1.6 0 1,0 3.2,0a1.6,1.6 0 1,0 -3.2,0M178.9,101.8a1.6,1.6 0 1,0 3.2,0a1.6,1.6 0 1,0 -3.2,0M127.4,59.0a1.7,1.7 0 1,0 3.4,0a1.7,1.7 0 1,0 -3.4,0M128.3,63.4a1.7,1.7 0 1,0 3.4,0a1.7,1.7 0 1,0 -3.4,0M123.0,63.8a1.7,1.7 0 1,0 3.4,0a1.7,1.7 0 1,0 -3.4,0M127.5,66.3a1.7,1.7 0 1,0 3.4,0a1.7,1.7 0 1,0 -3.4,0M127.0,67.4a1.7,1.7 0 1,0 3.4,0a1.7,1.7 0 1,0 -3.4,0M123.3,71.0a1.7,1.7 0 1,0 3.4,0a1.7,1.7 0 1,0 -3.4,0M124.5,74.5a1.7,1.7 0 1,0 3.4,0a1.7,1.7 0 1,0 -3.4,0M124.4,76.5a1.7,1.7 0 1,0 3.4,0a1.7,1.7 0 1,0 -3.4,0M124.4,75.7a1.7,1.7 0 1,0 3.4,0a1.7,1.7 0 1,0 -3.4,0M124.3,76.6a1.7,1.7 0 1,0 3.4,0a1.7,1.7 0 1,0 -3.4,0M125.9,76.6a1.7,1.7 0 1,0 3.4,0a1.7,1.7 0 1,0 -3.4,0M124.9,78.4a1.7,1.7 0 1,0 3.4,0a1.7,1.7 0 1,0 -3.4,0M120.7,80.0a1.7,1.7 0 1,0 3.4,0a1.7,1.7 0 1,0 -3.4,0M125.3,78.6a1.7,1.7 0 1,0 3.4,0a1.7,1.7 0 1,0 -3.4,0M125.5,80.4a1.7,1.7 0 1,0 3.4,0a1.7,1.7 0 1,0 -3.4,0M126.0,79.2a1.7,1.7 0 1,0 3.4,0a1.7,1.7 0 1,0 -3.4,0M129.0,81.5a1.7,1.7 0 1,0 3.4,0a1.7,1.7 0 1,0 -3.4,0M129.8,83.2a1.7,1.7 0 1,0 3.4,0a1.7,1.7 0 1,0 -3.4,0M129.0,81.4a1.7,1.7 0 1,0 3.4,0a1.7,1.7 0 1,0 -3.4,0M129.8,82.9a1.7,1.7 0 1,0 3.4,0a1.7,1.7 0 1,0 -3.4,0M131.6,85.0a1.7,1.7 0 1,0 3.4,0a1.7,1.7 0 1,0 -3.4,0M131.4,85.4a1.7,1.7 0 1,0 3.4,0a1.7,1.7 0 1,0 -3.4,0M130.7,85.8a1.7,1.7 0 1,0 3.4,0a1.7,1.7 0 1,0 -3.4,0M132.8,87.9a1.7,1.7 0 1,0 3.4,0a1.7,1.7 0 1,0 -3.4,0M130.5,87.3a1.7,1.7 0 1,0 3.4,0a1.7,1.7 0 1,0 -3.4,0M129.6,88.1a1.7,1.7 0 1,0 3.4,0a1.7,1.7 0 1,0 -3.4,0M132.4,87.7a1.7,1.7 0 1,0 3.4,0a1.7,1.7 0 1,0 -3.4,0M133.1,88.8a1.7,1.7 0 1,0 3.4,0a1.7,1.7 0 1,0 -3.4,0M133.6,90.3a1.7,1.7 0 1,0 3.4,0a1.7,1.7 0 1,0 -3.4,0M133.9,93.6a1.7,1.7 0 1,0 3.4,0a1.7,1.7 0 1,0 -3.4,0M133.1,95.1a1.7,1.7 0 1,0 3.4,0a1.7,1.7 0 1,0 -3.4,0M133.5,93.8a1.7,1.7 0 1,0 3.4,0a1.7,1.7 0 1,0 -3.4,0M135.1,93.1a1.7,1.7 0 1,0 3.4,0a1.7,1.7 0 1,0 -3.4,0M134.1,94.7a1.7,1.7 0 1,0 3.4,0a1.7,1.7 0 1,0 -3.4,0M135.5,95.3a1.7,1.7 0 1,0 3.4,0a1.7,1.7 0 1,0 -3.4,0M135.2,97.6a1.7,1.7 0 1,0 3.4,0a1.7,1.7 0 1,0 -3.4,0M135.5,97.7a1.7,1.7 0 1,0 3.4,0a1.7,1.7 0 1,0 -3.4,0M137.2,97.4a1.7,1.7 0 1,0 3.4,0a1.7,1.7 0 1,0 -3.4,0M138.2,98.4a1.7,1.7 0 1,0 3.4,0a1.7,1.7 0 1,0 -3.4,0M135.4,99.8a1.7,1.7 0 1,0 3.4,0a1.7,1.7 0 1,0 -3.4,0M138.2,100.9a1.7,1.7 0 1,0 3.4,0a1.7,1.7 0 1,0 -3.4,0M136.8,103.6a1.7,1.7 0 1,0 3.4,0a1.7,1.7 0 1,0 -3.4,0M137.5,103.1a1.7,1.7 0 1,0 3.4,0a1.7,1.7 0 1,0 -3.4,0M132.1,104.4a1.7,1.7 0 1,0 3.4,0a1.7,1.7 0 1,0 -3.4,0M137.6,103.3a1.7,1.7 0 1,0 3.4,0a1.7,1.7 0 1,0 -3.4,0M137.8,104.0a1.7,1.7 0 1,0 3.4,0a1.7,1.7 0 1,0 -3.4,0M140.7,104.5a1.7,1.7 0 1,0 3.4,0a1.7,1.7 0 1,0 -3.4,0M139.8,104.6a1.7,1.7 0 1,0 3.4,0a1.7,1.7 0 1,0 -3.4,0M138.7,105.9a1.7,1.7 0 1,0 3.4,0a1.7,1.7 0 1,0 -3.4,0M138.9,105.9a1.7,1.7 0 1,0 3.4,0a1.7,1.7 0 1,0 -3.4,0M141.6,108.4a1.7,1.7 0 1,0 3.4,0a1.7,1.7 0 1,0 -3.4,0M141.4,107.1a1.7,1.7 0 1,0 3.4,0a1.7,1.7 0 1,0 -3.4,0M140.2,110.7a1.7,1.7 0 1,0 3.4,0a1.7,1.7 0 1,0 -3.4,0M137.5,112.2a1.7,1.7 0 1,0 3.4,0a1.7,1.7 0 1,0 -3.4,0M141.8,113.6a1.7,1.7 0 1,0 3.4,0a1.7,1.7 0 1,0 -3.4,0M141.9,112.2a1.7,1.7 0 1,0 3.4,0a1.7,1.7 0 1,0 -3.4,0M143.5,113.8a1.7,1.7 0 1,0 3.4,0a1.7,1.7 0 1,0 -3.4,0M140.8,114.0a1.7,1.7 0 1,0 3.4,0a1.7,1.7 0 1,0 -3.4,0M138.8,116.7a1.7,1.7 0 1,0 3.4,0a1.7,1.7 0 1,0 -3.4,0M143.1,114.8a1.7,1.7 0 1,0 3.4,0a1.7,1.7 0 1,0 -3.4,0M143.3,115.5a1.7,1.7 0 1,0 3.4,0a1.7,1.7 0 1,0 -3.4,0M136.0,119.6a1.7,1.7 0 1,0 3.4,0a1.7,1.7 0 1,0 -3.4,0M144.4,118.8a1.7,1.7 0 1,0 3.4,0a1.7,1.7 0 1,0 -3.4,0M145.8,119.7a1.7,1.7 0 1,0 3.4,0a1.7,1.7 0 1,0 -3.4,0M140.5,122.9a1.7,1.7 0 1,0 3.4,0a1.7,1.7 0 1,0 -3.4,0M143.7,120.0a1.7,1.7 0 1,0 3.4,0a1.7,1.7 0 1,0 -3.4,0M140.0,124.1a1.7,1.7 0 1,0 3.4,0a1.7,1.7 0 1,0 -3.4,0M142.8,124.7a1.7,1.7 0 1,0 3.4,0a1.7,1.7 0 1,0 -3.4,0M145.1,121.9a1.7,1.7 0 1,0 3.4,0a1.7,1.7 0 1,0 -3.4,0M145.6,125.8a1.7,1.7 0 1,0 3.4,0a1.7,1.7 0 1,0 -3.4,0M139.7,126.8a1.7,1.7 0 1,0 3.4,0a1.7,1.7 0 1,0 -3.4,0M143.0,128.1a1.7,1.7 0 1,0 3.4,0a1.7,1.7 0 1,0 -3.4,0M147.9,126.4a1.7,1.7 0 1,0 3.4,0a1.7,1.7 0 1,0 -3.4,0M141.5,131.0a1.7,1.7 0 1,0 3.4,0a1.7,1.7 0 1,0 -3.4,0M145.9,130.8a1.7,1.7 0 1,0 3.4,0a1.7,1.7 0 1,0 -3.4,0M134.0,136.3a1.7,1.7 0 1,0 3.4,0a1.7,1.7 0 1,0 -3.4,0M150.1,129.1a1.7,1.7 0 1,0 3.4,0a1.7,1.7 0 1,0 -3.4,0M151.5,130.3a1.7,1.7 0 1,0 3.4,0a1.7,1.7 0 1,0 -3.4,0M150.4,130.8a1.7,1.7 0 1,0 3.4,0a1.7,1.7 0 1,0 -3.4,0M151.7,130.3a1.7,1.7 0 1,0 3.4,0a1.7,1.7 0 1,0 -3.4,0M149.6,135.1a1.7,1.7 0 1,0 3.4,0a1.7,1.7 0 1,0 -3.4,0M151.4,134.7a1.7,1.7 0 1,0 3.4,0a1.7,1.7 0 1,0 -3.4,0M146.7,138.7a1.7,1.7 0 1,0 3.4,0a1.7,1.7 0 1,0 -3.4,0M154.2,136.5a1.7,1.7 0 1,0 3.4,0a1.7,1.7 0 1,0 -3.4,0M148.7,138.9a1.7,1.7 0 1,0 3.4,0a1.7,1.7 0 1,0 -3.4,0M154.2,136.2a1.7,1.7 0 1,0 3.4,0a1.7,1.7 0 1,0 -3.4,0M152.9,137.6a1.7,1.7 0 1,0 3.4,0a1.7,1.7 0 1,0 -3.4,0M151.3,139.0a1.7,1.7 0 1,0 3.4,0a1.7,1.7 0 1,0 -3.4,0M150.9,142.0a1.7,1.7 0 1,0 3.4,0a1.7,1.7 0 1,0 -3.4,0M155.7,141.0a1.7,1.7 0 1,0 3.4,0a1.7,1.7 0 1,0 -3.4,0M154.0,143.3a1.7,1.7 0 1,0 3.4,0a1.7,1.7 0 1,0 -3.4,0M155.9,143.9a1.7,1.7 0 1,0 3.4,0a1.7,1.7 0 1,0 -3.4,0M152.6,146.6a1.7,1.7 0 1,0 3.4,0a1.7,1.7 0 1,0 -3.4,0M153.8,146.5a1.7,1.7 0 1,0 3.4,0a1.7,1.7 0 1,0 -3.4,0M157.1,146.4a1.7,1.7 0 1,0 3.4,0a1.7,1.7 0 1,0 -3.4,0M156.2,148.5a1.7,1.7 0 1,0 3.4,0a1.7,1.7 0 1,0 -3.4,0M156.6,146.7a1.7,1.7 0 1,0 3.4,0a1.7,1.7 0 1,0 -3.4,0M156.1,149.0a1.7,1.7 0 1,0 3.4,0a1.7,1.7 0 1,0 -3.4,0M157.3,151.2a1.7,1.7 0 1,0 3.4,0a1.7,1.7 0 1,0 -3.4,0M157.8,151.0a1.7,1.7 0 1,0 3.4,0a1.7,1.7 0 1,0 -3.4,0M155.6,154.2a1.7,1.7 0 1,0 3.4,0a1.7,1.7 0 1,0 -3.4,0M154.7,156.9a1.7,1.7 0 1,0 3.4,0a1.7,1.7 0 1,0 -3.4,0M156.9,156.1a1.7,1.7 0 1,0 3.4,0a1.7,1.7 0 1,0 -3.4,0M157.9,155.8a1.7,1.7 0 1,0 3.4,0a1.7,1.7 0 1,0 -3.4,0M159.9,157.7a1.7,1.7 0 1,0 3.4,0a1.7,1.7 0 1,0 -3.4,0M153.2,159.5a1.7,1.7 0 1,0 3.4,0a1.7,1.7 0 1,0 -3.4,0M152.8,162.0a1.7,1.7 0 1,0 3.4,0a1.7,1.7 0 1,0 -3.4,0M157.7,160.5a1.7,1.7 0 1,0 3.4,0a1.7,1.7 0 1,0 -3.4,0M158.8,163.4a1.7,1.7 0 1,0 3.4,0a1.7,1.7 0 1,0 -3.4,0M160.1,163.8a1.7,1.7 0 1,0 3.4,0a1.7,1.7 0 1,0 -3.4,0M162.2,165.4a1.7,1.7 0 1,0 3.4,0a1.7,1.7 0 1,0 -3.4,0M158.6,165.9a1.7,1.7 0 1,0 3.4,0a1.7,1.7 0 1,0 -3.4,0M161.9,166.3a1.7,1.7 0 1,0 3.4,0a1.7,1.7 0 1,0 -3.4,0M160.1,167.0a1.7,1.7 0 1,0 3.4,0a1.7,1.7 0 1,0 -3.4,0M160.8,168.6a1.7,1.7 0 1,0 3.4,0a1.7,1.7 0 1,0 -3.4,0M160.1,169.8a1.7,1.7 0 1,0 3.4,0a1.7,1.7 0 1,0 -3.4,0M158.5,170.3a1.7,1.7 0 1,0 3.4,0a1.7,1.7 0 1,0 -3.4,0M156.3,173.7a1.7,1.7 0 1,0 3.4,0a1.7,1.7 0 1,0 -3.4,0M164.3,171.0a1.7,1.7 0 1,0 3.4,0a1.7,1.7 0 1,0 -3.4,0M164.7,172.6a1.7,1.7 0 1,0 3.4,0a1.7,1.7 0 1,0 -3.4,0M148.6,180.1a1.7,1.7 0 1,0 3.4,0a1.7,1.7 0 1,0 -3.4,0M165.6,176.3a1.7,1.7 0 1,0 3.4,0a1.7,1.7 0 1,0 -3.4,0M164.8,176.4a1.7,1.7 0 1,0 3.4,0a1.7,1.7 0 1,0 -3.4,0M166.4,177.6a1.7,1.7 0 1,0 3.4,0a1.7,1.7 0 1,0 -3.4,0M166.7,178.8a1.7,1.7 0 1,0 3.4,0a1.7,1.7 0 1,0 -3.4,0M166.9,179.0a1.7,1.7 0 1,0 3.4,0a1.7,1.7 0 1,0 -3.4,0M159.0,185.5a1.7,1.7 0 1,0 3.4,0a1.7,1.7 0 1,0 -3.4,0M168.3,181.1a1.7,1.7 0 1,0 3.4,0a1.7,1.7 0 1,0 -3.4,0M169.5,182.9a1.7,1.7 0 1,0 3.4,0a1.7,1.7 0 1,0 -3.4,0M161.8,188.8a1.7,1.7 0 1,0 3.4,0a1.7,1.7 0 1,0 -3.4,0M169.4,184.7a1.7,1.7 0 1,0 3.4,0a1.7,1.7 0 1,0 -3.4,0M170.6,186.3a1.7,1.7 0 1,0 3.4,0a1.7,1.7 0 1,0 -3.4,0M170.0,187.9a1.7,1.7 0 1,0 3.4,0a1.7,1.7 0 1,0 -3.4,0M168.8,188.7a1.7,1.7 0 1,0 3.4,0a1.7,1.7 0 1,0 -3.4,0M166.0,191.4a1.7,1.7 0 1,0 3.4,0a1.7,1.7 0 1,0 -3.4,0M171.9,188.7a1.7,1.7 0 1,0 3.4,0a1.7,1.7 0 1,0 -3.4,0M169.3,190.1a1.7,1.7 0 1,0 3.4,0a1.7,1.7 0 1,0 -3.4,0M172.3,190.4a1.7,1.7 0 1,0 3.4,0a1.7,1.7 0 1,0 -3.4,0M171.7,192.3a1.7,1.7 0 1,0 3.4,0a1.7,1.7 0 1,0 -3.4,0M166.9,196.4a1.7,1.7 0 1,0 3.4,0a1.7,1.7 0 1,0 -3.4,0M175.1,194.9a1.7,1.7 0 1,0 3.4,0a1.7,1.7 0 1,0 -3.4,0M171.9,198.3a1.7,1.7 0 1,0 3.4,0a1.7,1.7 0 1,0 -3.4,0M174.4,196.7a1.7,1.7 0 1,0 3.4,0a1.7,1.7 0 1,0 -3.4,0M170.7,200.3a1.7,1.7 0 1,0 3.4,0a1.7,1.7 0 1,0 -3.4,0M169.3,200.1a1.7,1.7 0 1,0 3.4,0a1.7,1.7 0 1,0 -3.4,0M176.3,199.1a1.7,1.7 0 1,0 3.4,0a1.7,1.7 0 1,0 -3.4,0M174.2,202.1a1.7,1.7 0 1,0 3.4,0a1.7,1.7 0 1,0 -3.4,0M177.6,201.7a1.7,1.7 0 1,0 3.4,0a1.7,1.7 0 1,0 -3.4,0M177.1,202.4a1.7,1.7 0 1,0 3.4,0a1.7,1.7 0 1,0 -3.4,0M175.5,205.3a1.7,1.7 0 1,0 3.4,0a1.7,1.7 0 1,0 -3.4,0M180.6,203.8a1.7,1.7 0 1,0 3.4,0a1.7,1.7 0 1,0 -3.4,0M177.3,207.7a1.7,1.7 0 1,0 3.4,0a1.7,1.7 0 1,0 -3.4,0M181.2,205.0a1.7,1.7 0 1,0 3.4,0a1.7,1.7 0 1,0 -3.4,0M177.8,206.4a1.7,1.7 0 1,0 3.4,0a1.7,1.7 0 1,0 -3.4,0M179.6,207.1a1.7,1.7 0 1,0 3.4,0a1.7,1.7 0 1,0 -3.4,0M179.1,213.0a1.7,1.7 0 1,0 3.4,0a1.7,1.7 0 1,0 -3.4,0M180.8,209.8a1.7,1.7 0 1,0 3.4,0a1.7,1.7 0 1,0 -3.4,0M183.7,207.0a1.7,1.7 0 1,0 3.4,0a1.7,1.7 0 1,0 -3.4,0M182.6,209.2a1.7,1.7 0 1,0 3.4,0a1.7,1.7 0 1,0 -3.4,0M187.0,208.8a1.7,1.7 0 1,0 3.4,0a1.7,1.7 0 1,0 -3.4,0M184.7,211.5a1.7,1.7 0 1,0 3.4,0a1.7,1.7 0 1,0 -3.4,0M189.0,210.4a1.7,1.7 0 1,0 3.4,0a1.7,1.7 0 1,0 -3.4,0M186.0,211.9a1.7,1.7 0 1,0 3.4,0a1.7,1.7 0 1,0 -3.4,0M184.2,220.4a1.7,1.7 0 1,0 3.4,0a1.7,1.7 0 1,0 -3.4,0M191.7,212.3a1.7,1.7 0 1,0 3.4,0a1.7,1.7 0 1,0 -3.4,0M194.1,215.1a1.7,1.7 0 1,0 3.4,0a1.7,1.7 0 1,0 -3.4,0M193.3,214.7a1.7,1.7 0 1,0 3.4,0a1.7,1.7 0 1,0 -3.4,0M192.7,216.3a1.7,1.7 0 1,0 3.4,0a1.7,1.7 0 1,0 -3.4,0M193.3,216.4a1.7,1.7 0 1,0 3.4,0a1.7,1.7 0 1,0 -3.4,0M193.4,216.9a1.7,1.7 0 1,0 3.4,0a1.7,1.7 0 1,0 -3.4,0M194.7,219.1a1.7,1.7 0 1,0 3.4,0a1.7,1.7 0 1,0 -3.4,0M189.4,222.8a1.7,1.7 0 1,0 3.4,0a1.7,1.7 0 1,0 -3.4,0M196.3,222.2a1.7,1.7 0 1,0 3.4,0a1.7,1.7 0 1,0 -3.4,0M196.8,221.8a1.7,1.7 0 1,0 3.4,0a1.7,1.7 0 1,0 -3.4,0M195.4,226.0a1.7,1.7 0 1,0 3.4,0a1.7,1.7 0 1,0 -3.4,0M195.9,225.4a1.7,1.7 0 1,0 3.4,0a1.7,1.7 0 1,0 -3.4,0M193.9,227.3a1.7,1.7 0 1,0 3.4,0a1.7,1.7 0 1,0 -3.4,0M197.3,230.3a1.7,1.7 0 1,0 3.4,0a1.7,1.7 0 1,0 -3.4,0M191.6,231.4a1.7,1.7 0 1,0 3.4,0a1.7,1.7 0 1,0 -3.4,0M193.5,231.4a1.7,1.7 0 1,0 3.4,0a1.7,1.7 0 1,0 -3.4,0M197.8,232.8a1.7,1.7 0 1,0 3.4,0a1.7,1.7 0 1,0 -3.4,0M196.5,235.6a1.7,1.7 0 1,0 3.4,0a1.7,1.7 0 1,0 -3.4,0M197.4,236.4a1.7,1.7 0 1,0 3.4,0a1.7,1.7 0 1,0 -3.4,0M191.7,238.1a1.7,1.7 0 1,0 3.4,0a1.7,1.7 0 1,0 -3.4,0M195.4,238.5a1.7,1.7 0 1,0 3.4,0a1.7,1.7 0 1,0 -3.4,0M197.4,240.1a1.7,1.7 0 1,0 3.4,0a1.7,1.7 0 1,0 -3.4,0M196.0,243.4a1.7,1.7 0 1,0 3.4,0a1.7,1.7 0 1,0 -3.4,0M197.4,240.4a1.7,1.7 0 1,0 3.4,0a1.7,1.7 0 1,0 -3.4,0M200.9,243.9a1.7,1.7 0 1,0 3.4,0a1.7,1.7 0 1,0 -3.4,0M202.3,243.1a1.7,1.7 0 1,0 3.4,0a1.7,1.7 0 1,0 -3.4,0M202.8,243.8a1.7,1.7 0 1,0 3.4,0a1.7,1.7 0 1,0 -3.4,0M147.8,60.6a1.7,1.7 0 1,0 3.4,0a1.7,1.7 0 1,0 -3.4,0M280.2,54.9a1.7,1.7 0 1,0 3.4,0a1.7,1.7 0 1,0 -3.4,0M280.2,55.0a1.7,1.7 0 1,0 3.4,0a1.7,1.7 0 1,0 -3.4,0M276.2,58.3a1.7,1.7 0 1,0 3.4,0a1.7,1.7 0 1,0 -3.4,0M274.4,58.1a1.7,1.7 0 1,0 3.4,0a1.7,1.7 0 1,0 -3.4,0M271.3,56.7a1.7,1.7 0 1,0 3.4,0a1.7,1.7 0 1,0 -3.4,0M270.5,60.9a1.7,1.7 0 1,0 3.4,0a1.7,1.7 0 1,0 -3.4,0M211.5,240.0a1.7,1.7 0 1,0 3.4,0a1.7,1.7 0 1,0 -3.4,0M214.0,248.3a1.7,1.7 0 1,0 3.4,0a1.7,1.7 0 1,0 -3.4,0M219.4,243.1a1.7,1.7 0 1,0 3.4,0a1.7,1.7 0 1,0 -3.4,0M212.9,239.1a1.7,1.7 0 1,0 3.4,0a1.7,1.7 0 1,0 -3.4,0M218.9,240.8a1.7,1.7 0 1,0 3.4,0a1.7,1.7 0 1,0 -3.4,0M217.1,236.5a1.7,1.7 0 1,0 3.4,0a1.7,1.7 0 1,0 -3.4,0M221.0,240.3a1.7,1.7 0 1,0 3.4,0a1.7,1.7 0 1,0 -3.4,0M216.6,234.7a1.7,1.7 0 1,0 3.4,0a1.7,1.7 0 1,0 -3.4,0M233.2,244.9a1.7,1.7 0 1,0 3.4,0a1.7,1.7 0 1,0 -3.4,0M217.8,232.2a1.7,1.7 0 1,0 3.4,0a1.7,1.7 0 1,0 -3.4,0M219.9,233.1a1.7,1.7 0 1,0 3.4,0a1.7,1.7 0 1,0 -3.4,0M220.1,233.9a1.7,1.7 0 1,0 3.4,0a1.7,1.7 0 1,0 -3.4,0M221.4,231.7a1.7,1.7 0 1,0 3.4,0a1.7,1.7 0 1,0 -3.4,0M226.6,234.2a1.7,1.7 0 1,0 3.4,0a1.7,1.7 0 1,0 -3.4,0M223.0,230.4a1.7,1.7 0 1,0 3.4,0a1.7,1.7 0 1,0 -3.4,0M222.6,228.3a1.7,1.7 0 1,0 3.4,0a1.7,1.7 0 1,0 -3.4,0M222.9,226.9a1.7,1.7 0 1,0 3.4,0a1.7,1.7 0 1,0 -3.4,0M223.0,228.1a1.7,1.7 0 1,0 3.4,0a1.7,1.7 0 1,0 -3.4,0M222.2,226.2a1.7,1.7 0 1,0 3.4,0a1.7,1.7 0 1,0 -3.4,0M224.5,224.0a1.7,1.7 0 1,0 3.4,0a1.7,1.7 0 1,0 -3.4,0M229.2,225.8a1.7,1.7 0 1,0 3.4,0a1.7,1.7 0 1,0 -3.4,0M223.4,223.8a1.7,1.7 0 1,0 3.4,0a1.7,1.7 0 1,0 -3.4,0M225.9,222.2a1.7,1.7 0 1,0 3.4,0a1.7,1.7 0 1,0 -3.4,0M227.3,222.6a1.7,1.7 0 1,0 3.4,0a1.7,1.7 0 1,0 -3.4,0M224.7,219.4a1.7,1.7 0 1,0 3.4,0a1.7,1.7 0 1,0 -3.4,0M226.0,218.6a1.7,1.7 0 1,0 3.4,0a1.7,1.7 0 1,0 -3.4,0M229.1,217.8a1.7,1.7 0 1,0 3.4,0a1.7,1.7 0 1,0 -3.4,0M228.2,218.1a1.7,1.7 0 1,0 3.4,0a1.7,1.7 0 1,0 -3.4,0M227.2,215.2a1.7,1.7 0 1,0 3.4,0a1.7,1.7 0 1,0 -3.4,0M231.8,216.3a1.7,1.7 0 1,0 3.4,0a1.7,1.7 0 1,0 -3.4,0M233.2,216.4a1.7,1.7 0 1,0 3.4,0a1.7,1.7 0 1,0 -3.4,0M231.2,213.3a1.7,1.7 0 1,0 3.4,0a1.7,1.7 0 1,0 -3.4,0M239.9,219.5a1.7,1.7 0 1,0 3.4,0a1.7,1.7 0 1,0 -3.4,0M228.6,211.9a1.7,1.7 0 1,0 3.4,0a1.7,1.7 0 1,0 -3.4,0M236.5,214.0a1.7,1.7 0 1,0 3.4,0a1.7,1.7 0 1,0 -3.4,0M231.2,211.6a1.7,1.7 0 1,0 3.4,0a1.7,1.7 0 1,0 -3.4,0M231.5,207.6a1.7,1.7 0 1,0 3.4,0a1.7,1.7 0 1,0 -3.4,0M229.8,207.9a1.7,1.7 0 1,0 3.4,0a1.7,1.7 0 1,0 -3.4,0M231.6,206.5a1.7,1.7 0 1,0 3.4,0a1.7,1.7 0 1,0 -3.4,0M237.7,209.5a1.7,1.7 0 1,0 3.4,0a1.7,1.7 0 1,0 -3.4,0M232.1,205.3a1.7,1.7 0 1,0 3.4,0a1.7,1.7 0 1,0 -3.4,0M233.3,202.8a1.7,1.7 0 1,0 3.4,0a1.7,1.7 0 1,0 -3.4,0M234.6,204.6a1.7,1.7 0 1,0 3.4,0a1.7,1.7 0 1,0 -3.4,0M233.2,202.1a1.7,1.7 0 1,0 3.4,0a1.7,1.7 0 1,0 -3.4,0M238.4,204.4a1.7,1.7 0 1,0 3.4,0a1.7,1.7 0 1,0 -3.4,0M244.6,206.9a1.7,1.7 0 1,0 3.4,0a1.7,1.7 0 1,0 -3.4,0M241.1,202.5a1.7,1.7 0 1,0 3.4,0a1.7,1.7 0 1,0 -3.4,0M237.5,198.8a1.7,1.7 0 1,0 3.4,0a1.7,1.7 0 1,0 -3.4,0M245.9,204.8a1.7,1.7 0 1,0 3.4,0a1.7,1.7 0 1,0 -3.4,0M239.4,197.5a1.7,1.7 0 1,0 3.4,0a1.7,1.7 0 1,0 -3.4,0M240.9,199.9a1.7,1.7 0 1,0 3.4,0a1.7,1.7 0 1,0 -3.4,0M239.4,194.8a1.7,1.7 0 1,0 3.4,0a1.7,1.7 0 1,0 -3.4,0M240.6,195.3a1.7,1.7 0 1,0 3.4,0a1.7,1.7 0 1,0 -3.4,0M241.1,195.4a1.7,1.7 0 1,0 3.4,0a1.7,1.7 0 1,0 -3.4,0M244.3,195.8a1.7,1.7 0 1,0 3.4,0a1.7,1.7 0 1,0 -3.4,0M241.8,192.9a1.7,1.7 0 1,0 3.4,0a1.7,1.7 0 1,0 -3.4,0M245.0,192.1a1.7,1.7 0 1,0 3.4,0a1.7,1.7 0 1,0 -3.4,0M248.3,192.1a1.7,1.7 0 1,0 3.4,0a1.7,1.7 0 1,0 -3.4,0M245.8,191.0a1.7,1.7 0 1,0 3.4,0a1.7,1.7 0 1,0 -3.4,0M244.1,189.3a1.7,1.7 0 1,0 3.4,0a1.7,1.7 0 1,0 -3.4,0M249.7,190.1a1.7,1.7 0 1,0 3.4,0a1.7,1.7 0 1,0 -3.4,0M245.7,184.9a1.7,1.7 0 1,0 3.4,0a1.7,1.7 0 1,0 -3.4,0M245.8,184.3a1.7,1.7 0 1,0 3.4,0a1.7,1.7 0 1,0 -3.4,0M245.9,183.5a1.7,1.7 0 1,0 3.4,0a1.7,1.7 0 1,0 -3.4,0M247.6,184.5a1.7,1.7 0 1,0 3.4,0a1.7,1.7 0 1,0 -3.4,0M253.0,183.1a1.7,1.7 0 1,0 3.4,0a1.7,1.7 0 1,0 -3.4,0M245.8,182.4a1.7,1.7 0 1,0 3.4,0a1.7,1.7 0 1,0 -3.4,0M247.1,181.1a1.7,1.7 0 1,0 3.4,0a1.7,1.7 0 1,0 -3.4,0M247.7,179.5a1.7,1.7 0 1,0 3.4,0a1.7,1.7 0 1,0 -3.4,0M250.0,177.7a1.7,1.7 0 1,0 3.4,0a1.7,1.7 0 1,0 -3.4,0M248.1,177.1a1.7,1.7 0 1,0 3.4,0a1.7,1.7 0 1,0 -3.4,0M254.1,180.1a1.7,1.7 0 1,0 3.4,0a1.7,1.7 0 1,0 -3.4,0M249.1,175.8a1.7,1.7 0 1,0 3.4,0a1.7,1.7 0 1,0 -3.4,0M248.5,175.0a1.7,1.7 0 1,0 3.4,0a1.7,1.7 0 1,0 -3.4,0M251.0,174.3a1.7,1.7 0 1,0 3.4,0a1.7,1.7 0 1,0 -3.4,0M249.4,172.9a1.7,1.7 0 1,0 3.4,0a1.7,1.7 0 1,0 -3.4,0M250.6,173.0a1.7,1.7 0 1,0 3.4,0a1.7,1.7 0 1,0 -3.4,0M254.3,175.8a1.7,1.7 0 1,0 3.4,0a1.7,1.7 0 1,0 -3.4,0M254.5,174.0a1.7,1.7 0 1,0 3.4,0a1.7,1.7 0 1,0 -3.4,0M252.2,169.7a1.7,1.7 0 1,0 3.4,0a1.7,1.7 0 1,0 -3.4,0M252.9,170.1a1.7,1.7 0 1,0 3.4,0a1.7,1.7 0 1,0 -3.4,0M253.8,169.0a1.7,1.7 0 1,0 3.4,0a1.7,1.7 0 1,0 -3.4,0M253.4,168.9a1.7,1.7 0 1,0 3.4,0a1.7,1.7 0 1,0 -3.4,0M255.5,167.8a1.7,1.7 0 1,0 3.4,0a1.7,1.7 0 1,0 -3.4,0M253.3,165.5a1.7,1.7 0 1,0 3.4,0a1.7,1.7 0 1,0 -3.4,0M252.9,165.5a1.7,1.7 0 1,0 3.4,0a1.7,1.7 0 1,0 -3.4,0M255.8,163.3a1.7,1.7 0 1,0 3.4,0a1.7,1.7 0 1,0 -3.4,0M256.6,165.1a1.7,1.7 0 1,0 3.4,0a1.7,1.7 0 1,0 -3.4,0M256.5,164.1a1.7,1.7 0 1,0 3.4,0a1.7,1.7 0 1,0 -3.4,0M255.1,161.3a1.7,1.7 0 1,0 3.4,0a1.7,1.7 0 1,0 -3.4,0M258.0,160.4a1.7,1.7 0 1,0 3.4,0a1.7,1.7 0 1,0 -3.4,0M259.1,159.4a1.7,1.7 0 1,0 3.4,0a1.7,1.7 0 1,0 -3.4,0M257.3,158.5a1.7,1.7 0 1,0 3.4,0a1.7,1.7 0 1,0 -3.4,0M256.7,158.4a1.7,1.7 0 1,0 3.4,0a1.7,1.7 0 1,0 -3.4,0M264.0,156.0a1.7,1.7 0 1,0 3.4,0a1.7,1.7 0 1,0 -3.4,0M258.4,154.4a1.7,1.7 0 1,0 3.4,0a1.7,1.7 0 1,0 -3.4,0M259.0,154.8a1.7,1.7 0 1,0 3.4,0a1.7,1.7 0 1,0 -3.4,0M259.4,153.2a1.7,1.7 0 1,0 3.4,0a1.7,1.7 0 1,0 -3.4,0M259.5,151.4a1.7,1.7 0 1,0 3.4,0a1.7,1.7 0 1,0 -3.4,0M260.9,151.2a1.7,1.7 0 1,0 3.4,0a1.7,1.7 0 1,0 -3.4,0M263.0,148.5a1.7,1.7 0 1,0 3.4,0a1.7,1.7 0 1,0 -3.4,0M260.1,146.5a1.7,1.7 0 1,0 3.4,0a1.7,1.7 0 1,0 -3.4,0M261.8,146.1a1.7,1.7 0 1,0 3.4,0a1.7,1.7 0 1,0 -3.4,0M261.9,144.2a1.7,1.7 0 1,0 3.4,0a1.7,1.7 0 1,0 -3.4,0M267.2,148.1a1.7,1.7 0 1,0 3.4,0a1.7,1.7 0 1,0 -3.4,0M264.6,143.4a1.7,1.7 0 1,0 3.4,0a1.7,1.7 0 1,0 -3.4,0M264.1,143.0a1.7,1.7 0 1,0 3.4,0a1.7,1.7 0 1,0 -3.4,0M265.5,142.4a1.7,1.7 0 1,0 3.4,0a1.7,1.7 0 1,0 -3.4,0M270.8,142.4a1.7,1.7 0 1,0 3.4,0a1.7,1.7 0 1,0 -3.4,0M268.3,138.5a1.7,1.7 0 1,0 3.4,0a1.7,1.7 0 1,0 -3.4,0M265.4,138.6a1.7,1.7 0 1,0 3.4,0a1.7,1.7 0 1,0 -3.4,0M265.9,136.5a1.7,1.7 0 1,0 3.4,0a1.7,1.7 0 1,0 -3.4,0M266.0,135.5a1.7,1.7 0 1,0 3.4,0a1.7,1.7 0 1,0 -3.4,0M265.9,136.5a1.7,1.7 0 1,0 3.4,0a1.7,1.7 0 1,0 -3.4,0M266.8,133.8a1.7,1.7 0 1,0 3.4,0a1.7,1.7 0 1,0 -3.4,0M270.3,132.4a1.7,1.7 0 1,0 3.4,0a1.7,1.7 0 1,0 -3.4,0M269.1,132.3a1.7,1.7 0 1,0 3.4,0a1.7,1.7 0 1,0 -3.4,0M268.0,129.6a1.7,1.7 0 1,0 3.4,0a1.7,1.7 0 1,0 -3.4,0M271.8,128.9a1.7,1.7 0 1,0 3.4,0a1.7,1.7 0 1,0 -3.4,0M269.7,127.2a1.7,1.7 0 1,0 3.4,0a1.7,1.7 0 1,0 -3.4,0M272.0,126.3a1.7,1.7 0 1,0 3.4,0a1.7,1.7 0 1,0 -3.4,0M272.9,125.4a1.7,1.7 0 1,0 3.4,0a1.7,1.7 0 1,0 -3.4,0M272.6,124.1a1.7,1.7 0 1,0 3.4,0a1.7,1.7 0 1,0 -3.4,0M272.6,124.1a1.7,1.7 0 1,0 3.4,0a1.7,1.7 0 1,0 -3.4,0M273.0,122.1a1.7,1.7 0 1,0 3.4,0a1.7,1.7 0 1,0 -3.4,0M281.6,123.8a1.7,1.7 0 1,0 3.4,0a1.7,1.7 0 1,0 -3.4,0M277.2,118.3a1.7,1.7 0 1,0 3.4,0a1.7,1.7 0 1,0 -3.4,0M287.7,120.8a1.7,1.7 0 1,0 3.4,0a1.7,1.7 0 1,0 -3.4,0M276.0,114.7a1.7,1.7 0 1,0 3.4,0a1.7,1.7 0 1,0 -3.4,0M274.8,113.9a1.7,1.7 0 1,0 3.4,0a1.7,1.7 0 1,0 -3.4,0M275.8,113.0a1.7,1.7 0 1,0 3.4,0a1.7,1.7 0 1,0 -3.4,0M277.5,110.4a1.7,1.7 0 1,0 3.4,0a1.7,1.7 0 1,0 -3.4,0M277.2,111.4a1.7,1.7 0 1,0 3.4,0a1.7,1.7 0 1,0 -3.4,0M275.6,110.6a1.7,1.7 0 1,0 3.4,0a1.7,1.7 0 1,0 -3.4,0M277.4,108.7a1.7,1.7 0 1,0 3.4,0a1.7,1.7 0 1,0 -3.4,0M280.7,108.5a1.7,1.7 0 1,0 3.4,0a1.7,1.7 0 1,0 -3.4,0M278.8,107.0a1.7,1.7 0 1,0 3.4,0a1.7,1.7 0 1,0 -3.4,0M287.3,108.4a1.7,1.7 0 1,0 3.4,0a1.7,1.7 0 1,0 -3.4,0M295.2,106.8a1.7,1.7 0 1,0 3.4,0a1.7,1.7 0 1,0 -3.4,0M281.3,103.5a1.7,1.7 0 1,0 3.4,0a1.7,1.7 0 1,0 -3.4,0M282.8,100.2a1.7,1.7 0 1,0 3.4,0a1.7,1.7 0 1,0 -3.4,0M278.8,98.5a1.7,1.7 0 1,0 3.4,0a1.7,1.7 0 1,0 -3.4,0M284.6,99.2a1.7,1.7 0 1,0 3.4,0a1.7,1.7 0 1,0 -3.4,0M278.8,95.4a1.7,1.7 0 1,0 3.4,0a1.7,1.7 0 1,0 -3.4,0M280.2,93.7a1.7,1.7 0 1,0 3.4,0a1.7,1.7 0 1,0 -3.4,0M283.6,93.9a1.7,1.7 0 1,0 3.4,0a1.7,1.7 0 1,0 -3.4,0M286.5,92.7a1.7,1.7 0 1,0 3.4,0a1.7,1.7 0 1,0 -3.4,0M281.6,88.8a1.7,1.7 0 1,0 3.4,0a1.7,1.7 0 1,0 -3.4,0M281.6,88.2a1.7,1.7 0 1,0 3.4,0a1.7,1.7 0 1,0 -3.4,0M279.6,88.2a1.7,1.7 0 1,0 3.4,0a1.7,1.7 0 1,0 -3.4,0M281.5,84.8a1.7,1.7 0 1,0 3.4,0a1.7,1.7 0 1,0 -3.4,0M285.0,86.8a1.7,1.7 0 1,0 3.4,0a1.7,1.7 0 1,0 -3.4,0M281.2,84.0a1.7,1.7 0 1,0 3.4,0a1.7,1.7 0 1,0 -3.4,0M297.8,80.0a1.7,1.7 0 1,0 3.4,0a1.7,1.7 0 1,0 -3.4,0M286.7,78.6a1.7,1.7 0 1,0 3.4,0a1.7,1.7 0 1,0 -3.4,0M286.0,80.0a1.7,1.7 0 1,0 3.4,0a1.7,1.7 0 1,0 -3.4,0M286.0,81.3a1.7,1.7 0 1,0 3.4,0a1.7,1.7 0 1,0 -3.4,0M281.3,78.6a1.7,1.7 0 1,0 3.4,0a1.7,1.7 0 1,0 -3.4,0M285.0,79.5a1.7,1.7 0 1,0 3.4,0a1.7,1.7 0 1,0 -3.4,0M284.7,77.9a1.7,1.7 0 1,0 3.4,0a1.7,1.7 0 1,0 -3.4,0M283.4,74.5a1.7,1.7 0 1,0 3.4,0a1.7,1.7 0 1,0 -3.4,0M282.5,72.0a1.7,1.7 0 1,0 3.4,0a1.7,1.7 0 1,0 -3.4,0M292.8,73.0a1.7,1.7 0 1,0 3.4,0a1.7,1.7 0 1,0 -3.4,0M293.2,72.5a1.7,1.7 0 1,0 3.4,0a1.7,1.7 0 1,0 -3.4,0M284.8,69.8a1.7,1.7 0 1,0 3.4,0a1.7,1.7 0 1,0 -3.4,0M282.8,69.2a1.7,1.7 0 1,0 3.4,0a1.7,1.7 0 1,0 -3.4,0M286.4,69.0a1.7,1.7 0 1,0 3.4,0a1.7,1.7 0 1,0 -3.4,0M283.6,64.9a1.7,1.7 0 1,0 3.4,0a1.7,1.7 0 1,0 -3.4,0M294.2,69.0a1.7,1.7 0 1,0 3.4,0a1.7,1.7 0 1,0 -3.4,0M289.0,66.4a1.7,1.7 0 1,0 3.4,0a1.7,1.7 0 1,0 -3.4,0M297.5,67.2a1.7,1.7 0 1,0 3.4,0a1.7,1.7 0 1,0 -3.4,0M287.7,60.4a1.7,1.7 0 1,0 3.4,0a1.7,1.7 0 1,0 -3.4,0M284.1,55.0a1.7,1.7 0 1,0 3.4,0a1.7,1.7 0 1,0 -3.4,0M131.6,48.6a1.55,1.55 0 1,0 3.1,0a1.55,1.55 0 1,0 -3.1,0M130.4,48.6a1.55,1.55 0 1,0 3.1,0a1.55,1.55 0 1,0 -3.1,0M127.9,50.4a1.55,1.55 0 1,0 3.1,0a1.55,1.55 0 1,0 -3.1,0M127.2,51.5a1.55,1.55 0 1,0 3.1,0a1.55,1.55 0 1,0 -3.1,0M127.2,52.3a1.55,1.55 0 1,0 3.1,0a1.55,1.55 0 1,0 -3.1,0M126.5,54.3a1.55,1.55 0 1,0 3.1,0a1.55,1.55 0 1,0 -3.1,0M127.3,55.8a1.55,1.55 0 1,0 3.1,0a1.55,1.55 0 1,0 -3.1,0M127.7,56.8a1.55,1.55 0 1,0 3.1,0a1.55,1.55 0 1,0 -3.1,0M128.5,57.9a1.55,1.55 0 1,0 3.1,0a1.55,1.55 0 1,0 -3.1,0M129.3,58.7a1.55,1.55 0 1,0 3.1,0a1.55,1.55 0 1,0 -3.1,0M129.6,59.4a1.55,1.55 0 1,0 3.1,0a1.55,1.55 0 1,0 -3.1,0M128.5,61.1a1.55,1.55 0 1,0 3.1,0a1.55,1.55 0 1,0 -3.1,0M128.5,62.5a1.55,1.55 0 1,0 3.1,0a1.55,1.55 0 1,0 -3.1,0M128.7,64.9a1.55,1.55 0 1,0 3.1,0a1.55,1.55 0 1,0 -3.1,0M126.6,66.6a1.55,1.55 0 1,0 3.1,0a1.55,1.55 0 1,0 -3.1,0M126.8,67.8a1.55,1.55 0 1,0 3.1,0a1.55,1.55 0 1,0 -3.1,0M124.9,69.4a1.55,1.55 0 1,0 3.1,0a1.55,1.55 0 1,0 -3.1,0M124.6,71.9a1.55,1.55 0 1,0 3.1,0a1.55,1.55 0 1,0 -3.1,0M123.6,73.7a1.55,1.55 0 1,0 3.1,0a1.55,1.55 0 1,0 -3.1,0M124.7,77.5a1.55,1.55 0 1,0 3.1,0a1.55,1.55 0 1,0 -3.1,0M125.4,77.9a1.55,1.55 0 1,0 3.1,0a1.55,1.55 0 1,0 -3.1,0M126.8,79.6a1.55,1.55 0 1,0 3.1,0a1.55,1.55 0 1,0 -3.1,0M127.2,80.5a1.55,1.55 0 1,0 3.1,0a1.55,1.55 0 1,0 -3.1,0M127.3,81.2a1.55,1.55 0 1,0 3.1,0a1.55,1.55 0 1,0 -3.1,0M128.5,82.8a1.55,1.55 0 1,0 3.1,0a1.55,1.55 0 1,0 -3.1,0M129.0,83.7a1.55,1.55 0 1,0 3.1,0a1.55,1.55 0 1,0 -3.1,0M130.0,84.5a1.55,1.55 0 1,0 3.1,0a1.55,1.55 0 1,0 -3.1,0M130.3,84.9a1.55,1.55 0 1,0 3.1,0a1.55,1.55 0 1,0 -3.1,0M130.4,86.5a1.55,1.55 0 1,0 3.1,0a1.55,1.55 0 1,0 -3.1,0M131.1,88.3a1.55,1.55 0 1,0 3.1,0a1.55,1.55 0 1,0 -3.1,0M133.0,91.1a1.55,1.55 0 1,0 3.1,0a1.55,1.55 0 1,0 -3.1,0M134.3,94.5a1.55,1.55 0 1,0 3.1,0a1.55,1.55 0 1,0 -3.1,0M135.5,95.6a1.55,1.55 0 1,0 3.1,0a1.55,1.55 0 1,0 -3.1,0M137.5,97.2a1.55,1.55 0 1,0 3.1,0a1.55,1.55 0 1,0 -3.1,0M138.4,98.7a1.55,1.55 0 1,0 3.1,0a1.55,1.55 0 1,0 -3.1,0M137.7,100.5a1.55,1.55 0 1,0 3.1,0a1.55,1.55 0 1,0 -3.1,0M139.8,102.5a1.55,1.55 0 1,0 3.1,0a1.55,1.55 0 1,0 -3.1,0M140.4,106.3a1.55,1.55 0 1,0 3.1,0a1.55,1.55 0 1,0 -3.1,0M141.1,108.7a1.55,1.55 0 1,0 3.1,0a1.55,1.55 0 1,0 -3.1,0M140.3,109.0a1.55,1.55 0 1,0 3.1,0a1.55,1.55 0 1,0 -3.1,0M140.8,110.3a1.55,1.55 0 1,0 3.1,0a1.55,1.55 0 1,0 -3.1,0M142.4,113.6a1.55,1.55 0 1,0 3.1,0a1.55,1.55 0 1,0 -3.1,0M142.8,113.8a1.55,1.55 0 1,0 3.1,0a1.55,1.55 0 1,0 -3.1,0M143.3,115.4a1.55,1.55 0 1,0 3.1,0a1.55,1.55 0 1,0 -3.1,0M143.4,117.2a1.55,1.55 0 1,0 3.1,0a1.55,1.55 0 1,0 -3.1,0M144.6,117.9a1.55,1.55 0 1,0 3.1,0a1.55,1.55 0 1,0 -3.1,0M144.8,118.9a1.55,1.55 0 1,0 3.1,0a1.55,1.55 0 1,0 -3.1,0M146.8,123.0a1.55,1.55 0 1,0 3.1,0a1.55,1.55 0 1,0 -3.1,0M148.7,125.1a1.55,1.55 0 1,0 3.1,0a1.55,1.55 0 1,0 -3.1,0M148.7,126.0a1.55,1.55 0 1,0 3.1,0a1.55,1.55 0 1,0 -3.1,0M149.2,127.1a1.55,1.55 0 1,0 3.1,0a1.55,1.55 0 1,0 -3.1,0M148.7,127.8a1.55,1.55 0 1,0 3.1,0a1.55,1.55 0 1,0 -3.1,0M149.4,128.9a1.55,1.55 0 1,0 3.1,0a1.55,1.55 0 1,0 -3.1,0M151.4,132.0a1.55,1.55 0 1,0 3.1,0a1.55,1.55 0 1,0 -3.1,0M152.2,133.3a1.55,1.55 0 1,0 3.1,0a1.55,1.55 0 1,0 -3.1,0M153.4,135.7a1.55,1.55 0 1,0 3.1,0a1.55,1.55 0 1,0 -3.1,0M155.1,139.9a1.55,1.55 0 1,0 3.1,0a1.55,1.55 0 1,0 -3.1,0M154.8,141.7a1.55,1.55 0 1,0 3.1,0a1.55,1.55 0 1,0 -3.1,0M157.0,151.5a1.55,1.55 0 1,0 3.1,0a1.55,1.55 0 1,0 -3.1,0M157.9,153.6a1.55,1.55 0 1,0 3.1,0a1.55,1.55 0 1,0 -3.1,0M158.0,154.4a1.55,1.55 0 1,0 3.1,0a1.55,1.55 0 1,0 -3.1,0M158.6,156.5a1.55,1.55 0 1,0 3.1,0a1.55,1.55 0 1,0 -3.1,0M158.9,157.5a1.55,1.55 0 1,0 3.1,0a1.55,1.55 0 1,0 -3.1,0M160.1,159.5a1.55,1.55 0 1,0 3.1,0a1.55,1.55 0 1,0 -3.1,0M159.9,161.0a1.55,1.55 0 1,0 3.1,0a1.55,1.55 0 1,0 -3.1,0M161.0,163.5a1.55,1.55 0 1,0 3.1,0a1.55,1.55 0 1,0 -3.1,0M160.4,164.8a1.55,1.55 0 1,0 3.1,0a1.55,1.55 0 1,0 -3.1,0M161.7,166.5a1.55,1.55 0 1,0 3.1,0a1.55,1.55 0 1,0 -3.1,0M162.7,167.3a1.55,1.55 0 1,0 3.1,0a1.55,1.55 0 1,0 -3.1,0M163.6,170.6a1.55,1.55 0 1,0 3.1,0a1.55,1.55 0 1,0 -3.1,0M164.5,173.6a1.55,1.55 0 1,0 3.1,0a1.55,1.55 0 1,0 -3.1,0M164.1,174.2a1.55,1.55 0 1,0 3.1,0a1.55,1.55 0 1,0 -3.1,0M165.6,177.6a1.55,1.55 0 1,0 3.1,0a1.55,1.55 0 1,0 -3.1,0M167.2,179.4a1.55,1.55 0 1,0 3.1,0a1.55,1.55 0 1,0 -3.1,0M167.2,181.0a1.55,1.55 0 1,0 3.1,0a1.55,1.55 0 1,0 -3.1,0M167.5,181.6a1.55,1.55 0 1,0 3.1,0a1.55,1.55 0 1,0 -3.1,0M168.9,184.1a1.55,1.55 0 1,0 3.1,0a1.55,1.55 0 1,0 -3.1,0M170.8,186.4a1.55,1.55 0 1,0 3.1,0a1.55,1.55 0 1,0 -3.1,0M171.5,186.7a1.55,1.55 0 1,0 3.1,0a1.55,1.55 0 1,0 -3.1,0M172.8,189.9a1.55,1.55 0 1,0 3.1,0a1.55,1.55 0 1,0 -3.1,0M172.7,190.9a1.55,1.55 0 1,0 3.1,0a1.55,1.55 0 1,0 -3.1,0M173.3,192.0a1.55,1.55 0 1,0 3.1,0a1.55,1.55 0 1,0 -3.1,0M173.9,194.3a1.55,1.55 0 1,0 3.1,0a1.55,1.55 0 1,0 -3.1,0M174.2,195.8a1.55,1.55 0 1,0 3.1,0a1.55,1.55 0 1,0 -3.1,0M175.2,196.9a1.55,1.55 0 1,0 3.1,0a1.55,1.55 0 1,0 -3.1,0M176.0,198.0a1.55,1.55 0 1,0 3.1,0a1.55,1.55 0 1,0 -3.1,0M177.8,200.1a1.55,1.55 0 1,0 3.1,0a1.55,1.55 0 1,0 -3.1,0M178.1,202.0a1.55,1.55 0 1,0 3.1,0a1.55,1.55 0 1,0 -3.1,0M178.6,202.1a1.55,1.55 0 1,0 3.1,0a1.55,1.55 0 1,0 -3.1,0M180.4,204.8a1.55,1.55 0 1,0 3.1,0a1.55,1.55 0 1,0 -3.1,0M181.4,207.2a1.55,1.55 0 1,0 3.1,0a1.55,1.55 0 1,0 -3.1,0M182.3,206.8a1.55,1.55 0 1,0 3.1,0a1.55,1.55 0 1,0 -3.1,0M182.8,208.2a1.55,1.55 0 1,0 3.1,0a1.55,1.55 0 1,0 -3.1,0M183.9,207.6a1.55,1.55 0 1,0 3.1,0a1.55,1.55 0 1,0 -3.1,0M185.1,208.3a1.55,1.55 0 1,0 3.1,0a1.55,1.55 0 1,0 -3.1,0M185.7,209.0a1.55,1.55 0 1,0 3.1,0a1.55,1.55 0 1,0 -3.1,0M188.0,210.5a1.55,1.55 0 1,0 3.1,0a1.55,1.55 0 1,0 -3.1,0M188.7,211.4a1.55,1.55 0 1,0 3.1,0a1.55,1.55 0 1,0 -3.1,0M190.4,212.7a1.55,1.55 0 1,0 3.1,0a1.55,1.55 0 1,0 -3.1,0M190.7,213.0a1.55,1.55 0 1,0 3.1,0a1.55,1.55 0 1,0 -3.1,0M192.1,213.3a1.55,1.55 0 1,0 3.1,0a1.55,1.55 0 1,0 -3.1,0M193.6,214.0a1.55,1.55 0 1,0 3.1,0a1.55,1.55 0 1,0 -3.1,0M193.0,215.2a1.55,1.55 0 1,0 3.1,0a1.55,1.55 0 1,0 -3.1,0M193.7,216.6a1.55,1.55 0 1,0 3.1,0a1.55,1.55 0 1,0 -3.1,0M194.1,217.0a1.55,1.55 0 1,0 3.1,0a1.55,1.55 0 1,0 -3.1,0M195.0,218.0a1.55,1.55 0 1,0 3.1,0a1.55,1.55 0 1,0 -3.1,0M194.6,219.1a1.55,1.55 0 1,0 3.1,0a1.55,1.55 0 1,0 -3.1,0M195.3,221.5a1.55,1.55 0 1,0 3.1,0a1.55,1.55 0 1,0 -3.1,0M196.4,222.2a1.55,1.55 0 1,0 3.1,0a1.55,1.55 0 1,0 -3.1,0M196.4,223.1a1.55,1.55 0 1,0 3.1,0a1.55,1.55 0 1,0 -3.1,0M196.9,226.2a1.55,1.55 0 1,0 3.1,0a1.55,1.55 0 1,0 -3.1,0M197.1,227.4a1.55,1.55 0 1,0 3.1,0a1.55,1.55 0 1,0 -3.1,0M196.6,228.8a1.55,1.55 0 1,0 3.1,0a1.55,1.55 0 1,0 -3.1,0M198.6,233.6a1.55,1.55 0 1,0 3.1,0a1.55,1.55 0 1,0 -3.1,0M198.4,234.0a1.55,1.55 0 1,0 3.1,0a1.55,1.55 0 1,0 -3.1,0M199.0,238.2a1.55,1.55 0 1,0 3.1,0a1.55,1.55 0 1,0 -3.1,0M199.8,241.2a1.55,1.55 0 1,0 3.1,0a1.55,1.55 0 1,0 -3.1,0M200.1,241.8a1.55,1.55 0 1,0 3.1,0a1.55,1.55 0 1,0 -3.1,0M201.2,241.5a1.55,1.55 0 1,0 3.1,0a1.55,1.55 0 1,0 -3.1,0M202.4,241.8a1.55,1.55 0 1,0 3.1,0a1.55,1.55 0 1,0 -3.1,0M201.2,241.1a1.55,1.55 0 1,0 3.1,0a1.55,1.55 0 1,0 -3.1,0M202.4,240.6a1.55,1.55 0 1,0 3.1,0a1.55,1.55 0 1,0 -3.1,0M202.2,236.4a1.55,1.55 0 1,0 3.1,0a1.55,1.55 0 1,0 -3.1,0M203.5,235.1a1.55,1.55 0 1,0 3.1,0a1.55,1.55 0 1,0 -3.1,0M203.1,234.0a1.55,1.55 0 1,0 3.1,0a1.55,1.55 0 1,0 -3.1,0M202.6,232.9a1.55,1.55 0 1,0 3.1,0a1.55,1.55 0 1,0 -3.1,0M203.8,232.5a1.55,1.55 0 1,0 3.1,0a1.55,1.55 0 1,0 -3.1,0M202.9,230.8a1.55,1.55 0 1,0 3.1,0a1.55,1.55 0 1,0 -3.1,0M204.7,227.1a1.55,1.55 0 1,0 3.1,0a1.55,1.55 0 1,0 -3.1,0M203.8,226.3a1.55,1.55 0 1,0 3.1,0a1.55,1.55 0 1,0 -3.1,0M204.6,224.9a1.55,1.55 0 1,0 3.1,0a1.55,1.55 0 1,0 -3.1,0M204.7,224.8a1.55,1.55 0 1,0 3.1,0a1.55,1.55 0 1,0 -3.1,0M204.5,221.6a1.55,1.55 0 1,0 3.1,0a1.55,1.55 0 1,0 -3.1,0M205.0,219.8a1.55,1.55 0 1,0 3.1,0a1.55,1.55 0 1,0 -3.1,0M205.4,218.2a1.55,1.55 0 1,0 3.1,0a1.55,1.55 0 1,0 -3.1,0M205.0,216.6a1.55,1.55 0 1,0 3.1,0a1.55,1.55 0 1,0 -3.1,0M205.7,213.2a1.55,1.55 0 1,0 3.1,0a1.55,1.55 0 1,0 -3.1,0M205.1,210.9a1.55,1.55 0 1,0 3.1,0a1.55,1.55 0 1,0 -3.1,0M205.2,209.5a1.55,1.55 0 1,0 3.1,0a1.55,1.55 0 1,0 -3.1,0M205.7,208.5a1.55,1.55 0 1,0 3.1,0a1.55,1.55 0 1,0 -3.1,0M205.8,207.3a1.55,1.55 0 1,0 3.1,0a1.55,1.55 0 1,0 -3.1,0M206.5,204.4a1.55,1.55 0 1,0 3.1,0a1.55,1.55 0 1,0 -3.1,0M205.7,203.6a1.55,1.55 0 1,0 3.1,0a1.55,1.55 0 1,0 -3.1,0M205.7,195.6a1.55,1.55 0 1,0 3.1,0a1.55,1.55 0 1,0 -3.1,0M206.7,194.6a1.55,1.55 0 1,0 3.1,0a1.55,1.55 0 1,0 -3.1,0M206.0,193.8a1.55,1.55 0 1,0 3.1,0a1.55,1.55 0 1,0 -3.1,0M206.5,191.4a1.55,1.55 0 1,0 3.1,0a1.55,1.55 0 1,0 -3.1,0M205.3,187.8a1.55,1.55 0 1,0 3.1,0a1.55,1.55 0 1,0 -3.1,0M205.4,184.0a1.55,1.55 0 1,0 3.1,0a1.55,1.55 0 1,0 -3.1,0M206.1,183.4a1.55,1.55 0 1,0 3.1,0a1.55,1.55 0 1,0 -3.1,0M206.1,182.8a1.55,1.55 0 1,0 3.1,0a1.55,1.55 0 1,0 -3.1,0M205.3,182.0a1.55,1.55 0 1,0 3.1,0a1.55,1.55 0 1,0 -3.1,0M205.8,177.1a1.55,1.55 0 1,0 3.1,0a1.55,1.55 0 1,0 -3.1,0M206.0,176.8a1.55,1.55 0 1,0 3.1,0a1.55,1.55 0 1,0 -3.1,0M205.1,173.5a1.55,1.55 0 1,0 3.1,0a1.55,1.55 0 1,0 -3.1,0M204.5,171.4a1.55,1.55 0 1,0 3.1,0a1.55,1.55 0 1,0 -3.1,0M205.2,169.3a1.55,1.55 0 1,0 3.1,0a1.55,1.55 0 1,0 -3.1,0M204.6,168.4a1.55,1.55 0 1,0 3.1,0a1.55,1.55 0 1,0 -3.1,0M203.1,164.9a1.55,1.55 0 1,0 3.1,0a1.55,1.55 0 1,0 -3.1,0M203.3,164.0a1.55,1.55 0 1,0 3.1,0a1.55,1.55 0 1,0 -3.1,0M201.8,162.8a1.55,1.55 0 1,0 3.1,0a1.55,1.55 0 1,0 -3.1,0M200.1,156.6a1.55,1.55 0 1,0 3.1,0a1.55,1.55 0 1,0 -3.1,0M201.0,155.5a1.55,1.55 0 1,0 3.1,0a1.55,1.55 0 1,0 -3.1,0M200.4,154.9a1.55,1.55 0 1,0 3.1,0a1.55,1.55 0 1,0 -3.1,0M200.0,152.9a1.55,1.55 0 1,0 3.1,0a1.55,1.55 0 1,0 -3.1,0M199.0,149.4a1.55,1.55 0 1,0 3.1,0a1.55,1.55 0 1,0 -3.1,0M199.5,148.6a1.55,1.55 0 1,0 3.1,0a1.55,1.55 0 1,0 -3.1,0M198.4,145.3a1.55,1.55 0 1,0 3.1,0a1.55,1.55 0 1,0 -3.1,0M198.3,144.5a1.55,1.55 0 1,0 3.1,0a1.55,1.55 0 1,0 -3.1,0M198.1,143.4a1.55,1.55 0 1,0 3.1,0a1.55,1.55 0 1,0 -3.1,0M197.2,141.6a1.55,1.55 0 1,0 3.1,0a1.55,1.55 0 1,0 -3.1,0M196.9,139.1a1.55,1.55 0 1,0 3.1,0a1.55,1.55 0 1,0 -3.1,0M196.5,138.4a1.55,1.55 0 1,0 3.1,0a1.55,1.55 0 1,0 -3.1,0M195.4,136.5a1.55,1.55 0 1,0 3.1,0a1.55,1.55 0 1,0 -3.1,0M194.5,136.3a1.55,1.55 0 1,0 3.1,0a1.55,1.55 0 1,0 -3.1,0M193.5,132.2a1.55,1.55 0 1,0 3.1,0a1.55,1.55 0 1,0 -3.1,0M191.6,131.1a1.55,1.55 0 1,0 3.1,0a1.55,1.55 0 1,0 -3.1,0M191.4,129.4a1.55,1.55 0 1,0 3.1,0a1.55,1.55 0 1,0 -3.1,0M190.6,128.7a1.55,1.55 0 1,0 3.1,0a1.55,1.55 0 1,0 -3.1,0M189.9,127.9a1.55,1.55 0 1,0 3.1,0a1.55,1.55 0 1,0 -3.1,0M188.4,124.1a1.55,1.55 0 1,0 3.1,0a1.55,1.55 0 1,0 -3.1,0M188.5,121.7a1.55,1.55 0 1,0 3.1,0a1.55,1.55 0 1,0 -3.1,0M185.3,117.8a1.55,1.55 0 1,0 3.1,0a1.55,1.55 0 1,0 -3.1,0M185.1,117.4a1.55,1.55 0 1,0 3.1,0a1.55,1.55 0 1,0 -3.1,0M185.3,115.3a1.55,1.55 0 1,0 3.1,0a1.55,1.55 0 1,0 -3.1,0M183.2,114.0a1.55,1.55 0 1,0 3.1,0a1.55,1.55 0 1,0 -3.1,0M182.4,112.6a1.55,1.55 0 1,0 3.1,0a1.55,1.55 0 1,0 -3.1,0M182.3,111.6a1.55,1.55 0 1,0 3.1,0a1.55,1.55 0 1,0 -3.1,0M181.7,110.3a1.55,1.55 0 1,0 3.1,0a1.55,1.55 0 1,0 -3.1,0M180.2,107.4a1.55,1.55 0 1,0 3.1,0a1.55,1.55 0 1,0 -3.1,0M178.5,104.9a1.55,1.55 0 1,0 3.1,0a1.55,1.55 0 1,0 -3.1,0M177.6,104.6a1.55,1.55 0 1,0 3.1,0a1.55,1.55 0 1,0 -3.1,0M177.5,102.5a1.55,1.55 0 1,0 3.1,0a1.55,1.55 0 1,0 -3.1,0M177.7,101.9a1.55,1.55 0 1,0 3.1,0a1.55,1.55 0 1,0 -3.1,0M174.3,98.0a1.55,1.55 0 1,0 3.1,0a1.55,1.55 0 1,0 -3.1,0M174.4,96.4a1.55,1.55 0 1,0 3.1,0a1.55,1.55 0 1,0 -3.1,0M172.5,95.5a1.55,1.55 0 1,0 3.1,0a1.55,1.55 0 1,0 -3.1,0M172.1,94.1a1.55,1.55 0 1,0 3.1,0a1.55,1.55 0 1,0 -3.1,0M171.9,92.5a1.55,1.55 0 1,0 3.1,0a1.55,1.55 0 1,0 -3.1,0M171.2,91.3a1.55,1.55 0 1,0 3.1,0a1.55,1.55 0 1,0 -3.1,0M169.8,90.9a1.55,1.55 0 1,0 3.1,0a1.55,1.55 0 1,0 -3.1,0M170.0,89.3a1.55,1.55 0 1,0 3.1,0a1.55,1.55 0 1,0 -3.1,0M168.2,87.0a1.55,1.55 0 1,0 3.1,0a1.55,1.55 0 1,0 -3.1,0M165.3,83.5a1.55,1.55 0 1,0 3.1,0a1.55,1.55 0 1,0 -3.1,0M164.4,81.1a1.55,1.55 0 1,0 3.1,0a1.55,1.55 0 1,0 -3.1,0M163.0,81.7a1.55,1.55 0 1,0 3.1,0a1.55,1.55 0 1,0 -3.1,0M162.2,79.6a1.55,1.55 0 1,0 3.1,0a1.55,1.55 0 1,0 -3.1,0M161.5,79.0a1.55,1.55 0 1,0 3.1,0a1.55,1.55 0 1,0 -3.1,0M158.3,75.3a1.55,1.55 0 1,0 3.1,0a1.55,1.55 0 1,0 -3.1,0M157.1,74.8a1.55,1.55 0 1,0 3.1,0a1.55,1.55 0 1,0 -3.1,0M155.9,73.3a1.55,1.55 0 1,0 3.1,0a1.55,1.55 0 1,0 -3.1,0M155.1,71.5a1.55,1.55 0 1,0 3.1,0a1.55,1.55 0 1,0 -3.1,0M153.8,69.1a1.55,1.55 0 1,0 3.1,0a1.55,1.55 0 1,0 -3.1,0M152.9,68.3a1.55,1.55 0 1,0 3.1,0a1.55,1.55 0 1,0 -3.1,0M152.1,68.6a1.55,1.55 0 1,0 3.1,0a1.55,1.55 0 1,0 -3.1,0M152.4,66.7a1.55,1.55 0 1,0 3.1,0a1.55,1.55 0 1,0 -3.1,0M151.1,64.9a1.55,1.55 0 1,0 3.1,0a1.55,1.55 0 1,0 -3.1,0M149.0,62.5a1.55,1.55 0 1,0 3.1,0a1.55,1.55 0 1,0 -3.1,0M149.0,60.2a1.55,1.55 0 1,0 3.1,0a1.55,1.55 0 1,0 -3.1,0M145.6,58.6a1.55,1.55 0 1,0 3.1,0a1.55,1.55 0 1,0 -3.1,0M144.3,57.1a1.55,1.55 0 1,0 3.1,0a1.55,1.55 0 1,0 -3.1,0M142.8,57.1a1.55,1.55 0 1,0 3.1,0a1.55,1.55 0 1,0 -3.1,0M141.2,55.8a1.55,1.55 0 1,0 3.1,0a1.55,1.55 0 1,0 -3.1,0M139.7,56.4a1.55,1.55 0 1,0 3.1,0a1.55,1.55 0 1,0 -3.1,0M138.6,54.7a1.55,1.55 0 1,0 3.1,0a1.55,1.55 0 1,0 -3.1,0M137.3,54.3a1.55,1.55 0 1,0 3.1,0a1.55,1.55 0 1,0 -3.1,0M137.6,52.9a1.55,1.55 0 1,0 3.1,0a1.55,1.55 0 1,0 -3.1,0M136.3,52.1a1.55,1.55 0 1,0 3.1,0a1.55,1.55 0 1,0 -3.1,0M132.9,48.5a1.55,1.55 0 1,0 3.1,0a1.55,1.55 0 1,0 -3.1,0M132.0,48.5a1.55,1.55 0 1,0 3.1,0a1.55,1.55 0 1,0 -3.1,0M281.7,56.2a1.55,1.55 0 1,0 3.1,0a1.55,1.55 0 1,0 -3.1,0M280.4,57.2a1.55,1.55 0 1,0 3.1,0a1.55,1.55 0 1,0 -3.1,0M276.5,58.1a1.55,1.55 0 1,0 3.1,0a1.55,1.55 0 1,0 -3.1,0M275.8,58.9a1.55,1.55 0 1,0 3.1,0a1.55,1.55 0 1,0 -3.1,0M273.8,58.5a1.55,1.55 0 1,0 3.1,0a1.55,1.55 0 1,0 -3.1,0M272.5,59.6a1.55,1.55 0 1,0 3.1,0a1.55,1.55 0 1,0 -3.1,0M268.3,61.4a1.55,1.55 0 1,0 3.1,0a1.55,1.55 0 1,0 -3.1,0M268.1,63.2a1.55,1.55 0 1,0 3.1,0a1.55,1.55 0 1,0 -3.1,0M267.2,63.6a1.55,1.55 0 1,0 3.1,0a1.55,1.55 0 1,0 -3.1,0M265.8,66.1a1.55,1.55 0 1,0 3.1,0a1.55,1.55 0 1,0 -3.1,0M265.2,66.5a1.55,1.55 0 1,0 3.1,0a1.55,1.55 0 1,0 -3.1,0M264.8,68.4a1.55,1.55 0 1,0 3.1,0a1.55,1.55 0 1,0 -3.1,0M261.5,73.4a1.55,1.55 0 1,0 3.1,0a1.55,1.55 0 1,0 -3.1,0M261.5,73.7a1.55,1.55 0 1,0 3.1,0a1.55,1.55 0 1,0 -3.1,0M259.3,76.6a1.55,1.55 0 1,0 3.1,0a1.55,1.55 0 1,0 -3.1,0M257.8,79.7a1.55,1.55 0 1,0 3.1,0a1.55,1.55 0 1,0 -3.1,0M256.9,80.0a1.55,1.55 0 1,0 3.1,0a1.55,1.55 0 1,0 -3.1,0M255.9,82.0a1.55,1.55 0 1,0 3.1,0a1.55,1.55 0 1,0 -3.1,0M254.4,83.2a1.55,1.55 0 1,0 3.1,0a1.55,1.55 0 1,0 -3.1,0M253.8,83.7a1.55,1.55 0 1,0 3.1,0a1.55,1.55 0 1,0 -3.1,0M252.9,84.6a1.55,1.55 0 1,0 3.1,0a1.55,1.55 0 1,0 -3.1,0M252.1,85.5a1.55,1.55 0 1,0 3.1,0a1.55,1.55 0 1,0 -3.1,0M251.7,87.3a1.55,1.55 0 1,0 3.1,0a1.55,1.55 0 1,0 -3.1,0M250.8,88.0a1.55,1.55 0 1,0 3.1,0a1.55,1.55 0 1,0 -3.1,0M249.5,87.3a1.55,1.55 0 1,0 3.1,0a1.55,1.55 0 1,0 -3.1,0M249.1,88.0a1.55,1.55 0 1,0 3.1,0a1.55,1.55 0 1,0 -3.1,0M248.6,88.8a1.55,1.55 0 1,0 3.1,0a1.55,1.55 0 1,0 -3.1,0M246.4,90.3a1.55,1.55 0 1,0 3.1,0a1.55,1.55 0 1,0 -3.1,0M246.7,90.6a1.55,1.55 0 1,0 3.1,0a1.55,1.55 0 1,0 -3.1,0M245.8,93.9a1.55,1.55 0 1,0 3.1,0a1.55,1.55 0 1,0 -3.1,0M245.0,95.3a1.55,1.55 0 1,0 3.1,0a1.55,1.55 0 1,0 -3.1,0M243.4,99.4a1.55,1.55 0 1,0 3.1,0a1.55,1.55 0 1,0 -3.1,0M242.4,101.0a1.55,1.55 0 1,0 3.1,0a1.55,1.55 0 1,0 -3.1,0M242.2,103.7a1.55,1.55 0 1,0 3.1,0a1.55,1.55 0 1,0 -3.1,0M241.1,104.5a1.55,1.55 0 1,0 3.1,0a1.55,1.55 0 1,0 -3.1,0M240.4,107.5a1.55,1.55 0 1,0 3.1,0a1.55,1.55 0 1,0 -3.1,0M239.4,108.6a1.55,1.55 0 1,0 3.1,0a1.55,1.55 0 1,0 -3.1,0M237.5,110.3a1.55,1.55 0 1,0 3.1,0a1.55,1.55 0 1,0 -3.1,0M235.9,113.7a1.55,1.55 0 1,0 3.1,0a1.55,1.55 0 1,0 -3.1,0M234.3,117.6a1.55,1.55 0 1,0 3.1,0a1.55,1.55 0 1,0 -3.1,0M233.3,119.6a1.55,1.55 0 1,0 3.1,0a1.55,1.55 0 1,0 -3.1,0M232.1,119.8a1.55,1.55 0 1,0 3.1,0a1.55,1.55 0 1,0 -3.1,0M231.0,121.2a1.55,1.55 0 1,0 3.1,0a1.55,1.55 0 1,0 -3.1,0M230.6,123.5a1.55,1.55 0 1,0 3.1,0a1.55,1.55 0 1,0 -3.1,0M229.9,125.8a1.55,1.55 0 1,0 3.1,0a1.55,1.55 0 1,0 -3.1,0M227.6,129.6a1.55,1.55 0 1,0 3.1,0a1.55,1.55 0 1,0 -3.1,0M227.6,130.0a1.55,1.55 0 1,0 3.1,0a1.55,1.55 0 1,0 -3.1,0M226.4,132.0a1.55,1.55 0 1,0 3.1,0a1.55,1.55 0 1,0 -3.1,0M225.7,132.9a1.55,1.55 0 1,0 3.1,0a1.55,1.55 0 1,0 -3.1,0M224.8,134.7a1.55,1.55 0 1,0 3.1,0a1.55,1.55 0 1,0 -3.1,0M224.7,136.4a1.55,1.55 0 1,0 3.1,0a1.55,1.55 0 1,0 -3.1,0M223.9,137.2a1.55,1.55 0 1,0 3.1,0a1.55,1.55 0 1,0 -3.1,0M223.2,138.1a1.55,1.55 0 1,0 3.1,0a1.55,1.55 0 1,0 -3.1,0M223.4,139.1a1.55,1.55 0 1,0 3.1,0a1.55,1.55 0 1,0 -3.1,0M222.3,139.8a1.55,1.55 0 1,0 3.1,0a1.55,1.55 0 1,0 -3.1,0M221.2,143.3a1.55,1.55 0 1,0 3.1,0a1.55,1.55 0 1,0 -3.1,0M219.1,144.1a1.55,1.55 0 1,0 3.1,0a1.55,1.55 0 1,0 -3.1,0M218.6,145.9a1.55,1.55 0 1,0 3.1,0a1.55,1.55 0 1,0 -3.1,0M218.1,147.7a1.55,1.55 0 1,0 3.1,0a1.55,1.55 0 1,0 -3.1,0M217.8,151.3a1.55,1.55 0 1,0 3.1,0a1.55,1.55 0 1,0 -3.1,0M217.6,153.4a1.55,1.55 0 1,0 3.1,0a1.55,1.55 0 1,0 -3.1,0M215.2,158.9a1.55,1.55 0 1,0 3.1,0a1.55,1.55 0 1,0 -3.1,0M215.2,159.9a1.55,1.55 0 1,0 3.1,0a1.55,1.55 0 1,0 -3.1,0M215.7,161.9a1.55,1.55 0 1,0 3.1,0a1.55,1.55 0 1,0 -3.1,0M215.4,162.2a1.55,1.55 0 1,0 3.1,0a1.55,1.55 0 1,0 -3.1,0M214.0,165.9a1.55,1.55 0 1,0 3.1,0a1.55,1.55 0 1,0 -3.1,0M215.2,167.6a1.55,1.55 0 1,0 3.1,0a1.55,1.55 0 1,0 -3.1,0M214.9,171.4a1.55,1.55 0 1,0 3.1,0a1.55,1.55 0 1,0 -3.1,0M213.7,172.0a1.55,1.55 0 1,0 3.1,0a1.55,1.55 0 1,0 -3.1,0M214.6,174.5a1.55,1.55 0 1,0 3.1,0a1.55,1.55 0 1,0 -3.1,0M213.5,177.6a1.55,1.55 0 1,0 3.1,0a1.55,1.55 0 1,0 -3.1,0M213.0,182.3a1.55,1.55 0 1,0 3.1,0a1.55,1.55 0 1,0 -3.1,0M212.9,184.5a1.55,1.55 0 1,0 3.1,0a1.55,1.55 0 1,0 -3.1,0M212.6,188.1a1.55,1.55 0 1,0 3.1,0a1.55,1.55 0 1,0 -3.1,0M211.6,192.5a1.55,1.55 0 1,0 3.1,0a1.55,1.55 0 1,0 -3.1,0M211.9,193.8a1.55,1.55 0 1,0 3.1,0a1.55,1.55 0 1,0 -3.1,0M211.6,194.6a1.55,1.55 0 1,0 3.1,0a1.55,1.55 0 1,0 -3.1,0M211.3,195.8a1.55,1.55 0 1,0 3.1,0a1.55,1.55 0 1,0 -3.1,0M210.8,199.7a1.55,1.55 0 1,0 3.1,0a1.55,1.55 0 1,0 -3.1,0M211.9,202.9a1.55,1.55 0 1,0 3.1,0a1.55,1.55 0 1,0 -3.1,0M210.5,204.6a1.55,1.55 0 1,0 3.1,0a1.55,1.55 0 1,0 -3.1,0M211.7,207.0a1.55,1.55 0 1,0 3.1,0a1.55,1.55 0 1,0 -3.1,0M211.9,210.1a1.55,1.55 0 1,0 3.1,0a1.55,1.55 0 1,0 -3.1,0M211.3,211.0a1.55,1.55 0 1,0 3.1,0a1.55,1.55 0 1,0 -3.1,0M212.3,212.6a1.55,1.55 0 1,0 3.1,0a1.55,1.55 0 1,0 -3.1,0M211.6,213.7a1.55,1.55 0 1,0 3.1,0a1.55,1.55 0 1,0 -3.1,0M212.2,214.5a1.55,1.55 0 1,0 3.1,0a1.55,1.55 0 1,0 -3.1,0M211.6,216.7a1.55,1.55 0 1,0 3.1,0a1.55,1.55 0 1,0 -3.1,0M212.7,217.7a1.55,1.55 0 1,0 3.1,0a1.55,1.55 0 1,0 -3.1,0M211.6,218.6a1.55,1.55 0 1,0 3.1,0a1.55,1.55 0 1,0 -3.1,0M211.6,220.6a1.55,1.55 0 1,0 3.1,0a1.55,1.55 0 1,0 -3.1,0M211.4,222.4a1.55,1.55 0 1,0 3.1,0a1.55,1.55 0 1,0 -3.1,0M210.9,224.9a1.55,1.55 0 1,0 3.1,0a1.55,1.55 0 1,0 -3.1,0M211.4,225.8a1.55,1.55 0 1,0 3.1,0a1.55,1.55 0 1,0 -3.1,0M210.7,230.1a1.55,1.55 0 1,0 3.1,0a1.55,1.55 0 1,0 -3.1,0M210.5,232.6a1.55,1.55 0 1,0 3.1,0a1.55,1.55 0 1,0 -3.1,0M209.5,233.5a1.55,1.55 0 1,0 3.1,0a1.55,1.55 0 1,0 -3.1,0M210.3,236.6a1.55,1.55 0 1,0 3.1,0a1.55,1.55 0 1,0 -3.1,0M210.6,237.5a1.55,1.55 0 1,0 3.1,0a1.55,1.55 0 1,0 -3.1,0M213.4,239.8a1.55,1.55 0 1,0 3.1,0a1.55,1.55 0 1,0 -3.1,0M214.8,236.7a1.55,1.55 0 1,0 3.1,0a1.55,1.55 0 1,0 -3.1,0M215.3,235.2a1.55,1.55 0 1,0 3.1,0a1.55,1.55 0 1,0 -3.1,0M217.7,233.2a1.55,1.55 0 1,0 3.1,0a1.55,1.55 0 1,0 -3.1,0M218.4,231.5a1.55,1.55 0 1,0 3.1,0a1.55,1.55 0 1,0 -3.1,0M219.9,229.1a1.55,1.55 0 1,0 3.1,0a1.55,1.55 0 1,0 -3.1,0M221.1,228.4a1.55,1.55 0 1,0 3.1,0a1.55,1.55 0 1,0 -3.1,0M222.0,227.7a1.55,1.55 0 1,0 3.1,0a1.55,1.55 0 1,0 -3.1,0M222.6,224.4a1.55,1.55 0 1,0 3.1,0a1.55,1.55 0 1,0 -3.1,0M222.7,223.3a1.55,1.55 0 1,0 3.1,0a1.55,1.55 0 1,0 -3.1,0M223.2,222.7a1.55,1.55 0 1,0 3.1,0a1.55,1.55 0 1,0 -3.1,0M224.2,219.1a1.55,1.55 0 1,0 3.1,0a1.55,1.55 0 1,0 -3.1,0M225.9,217.7a1.55,1.55 0 1,0 3.1,0a1.55,1.55 0 1,0 -3.1,0M227.1,215.5a1.55,1.55 0 1,0 3.1,0a1.55,1.55 0 1,0 -3.1,0M227.6,212.8a1.55,1.55 0 1,0 3.1,0a1.55,1.55 0 1,0 -3.1,0M228.8,211.8a1.55,1.55 0 1,0 3.1,0a1.55,1.55 0 1,0 -3.1,0M228.7,208.8a1.55,1.55 0 1,0 3.1,0a1.55,1.55 0 1,0 -3.1,0M230.6,204.8a1.55,1.55 0 1,0 3.1,0a1.55,1.55 0 1,0 -3.1,0M232.2,203.0a1.55,1.55 0 1,0 3.1,0a1.55,1.55 0 1,0 -3.1,0M233.3,202.0a1.55,1.55 0 1,0 3.1,0a1.55,1.55 0 1,0 -3.1,0M233.7,201.2a1.55,1.55 0 1,0 3.1,0a1.55,1.55 0 1,0 -3.1,0M235.7,199.1a1.55,1.55 0 1,0 3.1,0a1.55,1.55 0 1,0 -3.1,0M239.2,194.9a1.55,1.55 0 1,0 3.1,0a1.55,1.55 0 1,0 -3.1,0M241.8,191.2a1.55,1.55 0 1,0 3.1,0a1.55,1.55 0 1,0 -3.1,0M243.2,190.0a1.55,1.55 0 1,0 3.1,0a1.55,1.55 0 1,0 -3.1,0M244.2,188.4a1.55,1.55 0 1,0 3.1,0a1.55,1.55 0 1,0 -3.1,0M243.5,186.7a1.55,1.55 0 1,0 3.1,0a1.55,1.55 0 1,0 -3.1,0M243.8,186.1a1.55,1.55 0 1,0 3.1,0a1.55,1.55 0 1,0 -3.1,0M245.1,184.6a1.55,1.55 0 1,0 3.1,0a1.55,1.55 0 1,0 -3.1,0M246.6,180.5a1.55,1.55 0 1,0 3.1,0a1.55,1.55 0 1,0 -3.1,0M247.5,178.1a1.55,1.55 0 1,0 3.1,0a1.55,1.55 0 1,0 -3.1,0M247.3,177.0a1.55,1.55 0 1,0 3.1,0a1.55,1.55 0 1,0 -3.1,0M248.3,175.9a1.55,1.55 0 1,0 3.1,0a1.55,1.55 0 1,0 -3.1,0M248.1,174.3a1.55,1.55 0 1,0 3.1,0a1.55,1.55 0 1,0 -3.1,0M250.0,172.8a1.55,1.55 0 1,0 3.1,0a1.55,1.55 0 1,0 -3.1,0M250.1,171.5a1.55,1.55 0 1,0 3.1,0a1.55,1.55 0 1,0 -3.1,0M250.1,170.4a1.55,1.55 0 1,0 3.1,0a1.55,1.55 0 1,0 -3.1,0M251.2,170.0a1.55,1.55 0 1,0 3.1,0a1.55,1.55 0 1,0 -3.1,0M251.4,168.6a1.55,1.55 0 1,0 3.1,0a1.55,1.55 0 1,0 -3.1,0M252.3,167.4a1.55,1.55 0 1,0 3.1,0a1.55,1.55 0 1,0 -3.1,0M253.2,167.0a1.55,1.55 0 1,0 3.1,0a1.55,1.55 0 1,0 -3.1,0M252.4,166.0a1.55,1.55 0 1,0 3.1,0a1.55,1.55 0 1,0 -3.1,0M254.4,164.2a1.55,1.55 0 1,0 3.1,0a1.55,1.55 0 1,0 -3.1,0M254.8,163.3a1.55,1.55 0 1,0 3.1,0a1.55,1.55 0 1,0 -3.1,0M255.4,162.9a1.55,1.55 0 1,0 3.1,0a1.55,1.55 0 1,0 -3.1,0M255.2,161.5a1.55,1.55 0 1,0 3.1,0a1.55,1.55 0 1,0 -3.1,0M256.1,160.1a1.55,1.55 0 1,0 3.1,0a1.55,1.55 0 1,0 -3.1,0M256.8,159.2a1.55,1.55 0 1,0 3.1,0a1.55,1.55 0 1,0 -3.1,0M257.0,158.8a1.55,1.55 0 1,0 3.1,0a1.55,1.55 0 1,0 -3.1,0M257.0,157.1a1.55,1.55 0 1,0 3.1,0a1.55,1.55 0 1,0 -3.1,0M257.3,153.4a1.55,1.55 0 1,0 3.1,0a1.55,1.55 0 1,0 -3.1,0M257.7,151.8a1.55,1.55 0 1,0 3.1,0a1.55,1.55 0 1,0 -3.1,0M258.0,151.1a1.55,1.55 0 1,0 3.1,0a1.55,1.55 0 1,0 -3.1,0M259.9,149.4a1.55,1.55 0 1,0 3.1,0a1.55,1.55 0 1,0 -3.1,0M259.5,147.7a1.55,1.55 0 1,0 3.1,0a1.55,1.55 0 1,0 -3.1,0M259.8,146.5a1.55,1.55 0 1,0 3.1,0a1.55,1.55 0 1,0 -3.1,0M262.3,144.4a1.55,1.55 0 1,0 3.1,0a1.55,1.55 0 1,0 -3.1,0M263.5,142.3a1.55,1.55 0 1,0 3.1,0a1.55,1.55 0 1,0 -3.1,0M264.1,140.2a1.55,1.55 0 1,0 3.1,0a1.55,1.55 0 1,0 -3.1,0M265.4,140.6a1.55,1.55 0 1,0 3.1,0a1.55,1.55 0 1,0 -3.1,0M265.5,139.3a1.55,1.55 0 1,0 3.1,0a1.55,1.55 0 1,0 -3.1,0M265.9,138.5a1.55,1.55 0 1,0 3.1,0a1.55,1.55 0 1,0 -3.1,0M265.8,136.0a1.55,1.55 0 1,0 3.1,0a1.55,1.55 0 1,0 -3.1,0M266.0,134.0a1.55,1.55 0 1,0 3.1,0a1.55,1.55 0 1,0 -3.1,0M266.9,133.4a1.55,1.55 0 1,0 3.1,0a1.55,1.55 0 1,0 -3.1,0M267.6,132.5a1.55,1.55 0 1,0 3.1,0a1.55,1.55 0 1,0 -3.1,0M269.2,126.6a1.55,1.55 0 1,0 3.1,0a1.55,1.55 0 1,0 -3.1,0M271.9,122.2a1.55,1.55 0 1,0 3.1,0a1.55,1.55 0 1,0 -3.1,0M272.4,121.5a1.55,1.55 0 1,0 3.1,0a1.55,1.55 0 1,0 -3.1,0M272.0,120.6a1.55,1.55 0 1,0 3.1,0a1.55,1.55 0 1,0 -3.1,0M273.8,116.7a1.55,1.55 0 1,0 3.1,0a1.55,1.55 0 1,0 -3.1,0M274.6,115.4a1.55,1.55 0 1,0 3.1,0a1.55,1.55 0 1,0 -3.1,0M274.4,114.8a1.55,1.55 0 1,0 3.1,0a1.55,1.55 0 1,0 -3.1,0M274.1,112.3a1.55,1.55 0 1,0 3.1,0a1.55,1.55 0 1,0 -3.1,0M275.0,111.5a1.55,1.55 0 1,0 3.1,0a1.55,1.55 0 1,0 -3.1,0M274.9,109.2a1.55,1.55 0 1,0 3.1,0a1.55,1.55 0 1,0 -3.1,0M276.0,108.5a1.55,1.55 0 1,0 3.1,0a1.55,1.55 0 1,0 -3.1,0M275.9,107.8a1.55,1.55 0 1,0 3.1,0a1.55,1.55 0 1,0 -3.1,0M275.2,106.8a1.55,1.55 0 1,0 3.1,0a1.55,1.55 0 1,0 -3.1,0M275.6,103.9a1.55,1.55 0 1,0 3.1,0a1.55,1.55 0 1,0 -3.1,0M276.9,103.7a1.55,1.55 0 1,0 3.1,0a1.55,1.55 0 1,0 -3.1,0M276.5,102.6a1.55,1.55 0 1,0 3.1,0a1.55,1.55 0 1,0 -3.1,0M276.5,101.6a1.55,1.55 0 1,0 3.1,0a1.55,1.55 0 1,0 -3.1,0M277.2,100.2a1.55,1.55 0 1,0 3.1,0a1.55,1.55 0 1,0 -3.1,0M277.2,97.8a1.55,1.55 0 1,0 3.1,0a1.55,1.55 0 1,0 -3.1,0M278.2,98.0a1.55,1.55 0 1,0 3.1,0a1.55,1.55 0 1,0 -3.1,0M278.6,95.6a1.55,1.55 0 1,0 3.1,0a1.55,1.55 0 1,0 -3.1,0M278.3,93.3a1.55,1.55 0 1,0 3.1,0a1.55,1.55 0 1,0 -3.1,0M279.6,90.9a1.55,1.55 0 1,0 3.1,0a1.55,1.55 0 1,0 -3.1,0M278.9,90.3a1.55,1.55 0 1,0 3.1,0a1.55,1.55 0 1,0 -3.1,0M280.1,89.3a1.55,1.55 0 1,0 3.1,0a1.55,1.55 0 1,0 -3.1,0M281.3,84.7a1.55,1.55 0 1,0 3.1,0a1.55,1.55 0 1,0 -3.1,0M281.0,84.0a1.55,1.55 0 1,0 3.1,0a1.55,1.55 0 1,0 -3.1,0M280.6,82.1a1.55,1.55 0 1,0 3.1,0a1.55,1.55 0 1,0 -3.1,0M279.6,81.7a1.55,1.55 0 1,0 3.1,0a1.55,1.55 0 1,0 -3.1,0M279.2,80.7a1.55,1.55 0 1,0 3.1,0a1.55,1.55 0 1,0 -3.1,0M280.9,78.1a1.55,1.55 0 1,0 3.1,0a1.55,1.55 0 1,0 -3.1,0M281.2,77.4a1.55,1.55 0 1,0 3.1,0a1.55,1.55 0 1,0 -3.1,0M282.6,73.6a1.55,1.55 0 1,0 3.1,0a1.55,1.55 0 1,0 -3.1,0M283.0,72.7a1.55,1.55 0 1,0 3.1,0a1.55,1.55 0 1,0 -3.1,0M283.3,68.5a1.55,1.55 0 1,0 3.1,0a1.55,1.55 0 1,0 -3.1,0M283.6,65.7a1.55,1.55 0 1,0 3.1,0a1.55,1.55 0 1,0 -3.1,0M285.0,60.8a1.55,1.55 0 1,0 3.1,0a1.55,1.55 0 1,0 -3.1,0M286.8,58.8a1.55,1.55 0 1,0 3.1,0a1.55,1.55 0 1,0 -3.1,0M285.8,57.2a1.55,1.55 0 1,0 3.1,0a1.55,1.55 0 1,0 -3.1,0M285.8,56.6a1.55,1.55 0 1,0 3.1,0a1.55,1.55 0 1,0 -3.1,0M285.3,55.7a1.55,1.55 0 1,0 3.1,0a1.55,1.55 0 1,0 -3.1,0M283.8,56.8a1.55,1.55 0 1,0 3.1,0a1.55,1.55 0 1,0 -3.1,0" fill="#0000ff"/>
<path d="M137.5,57.0 C136.3,57.5 134.7,58.7 134.0,60.0 C133.3,61.3 133.5,63.3 133.3,65.0 C133.1,66.7 132.9,68.3 133.0,70.0 C133.1,71.7 133.7,73.3 134.0,75.0 C134.3,76.7 134.8,78.3 135.0,80.0 C135.2,81.7 134.8,83.3 135.0,85.0 C135.2,86.7 135.7,88.3 136.3,90.0 C136.9,91.7 137.6,93.3 138.5,95.0 C139.4,96.7 140.8,98.5 141.5,100.0 C142.2,101.5 142.2,102.7 142.5,104.0 C142.8,105.3 142.3,105.7 143.0,108.0 C143.7,110.3 145.4,115.2 146.6,118.0 C147.8,120.8 149.1,122.7 150.4,125.0 C151.8,127.3 153.5,129.5 154.7,132.0 C155.9,134.5 156.9,137.3 157.7,140.0 C158.5,142.7 158.6,145.3 159.6,148.0 C160.6,150.7 162.5,153.3 163.5,156.0 C164.5,158.7 164.9,161.3 165.7,164.0 C166.4,166.7 167.2,169.5 168.0,172.0 C168.8,174.5 169.5,176.7 170.5,179.0 C171.5,181.3 172.2,183.8 174.0,186.0 C175.8,188.2 179.4,189.8 181.5,192.0 C183.6,194.2 185.1,196.5 186.3,199.0 C187.6,201.5 187.4,204.5 189.0,207.0 C190.6,209.5 194.7,211.5 196.0,214.0 C197.3,216.5 196.5,219.0 197.0,222.0 C197.5,225.0 198.3,229.0 199.0,232.0 C199.7,235.0 200.5,238.0 201.0,240.0 C201.5,242.0 201.6,243.3 202.0,244.0 C202.4,244.7 203.0,244.7 203.5,244.0 C204.0,243.3 204.7,242.0 205.0,240.0 C205.3,238.0 205.0,235.0 205.4,232.0 C205.8,229.0 206.9,225.0 207.3,222.0 C207.7,219.0 207.5,216.5 207.7,214.0 C207.9,211.5 208.2,209.5 208.3,207.0 C208.4,204.5 208.2,201.5 208.2,199.0 C208.2,196.5 208.5,194.2 208.5,192.0 C208.5,189.8 208.2,188.2 208.0,186.0 C207.8,183.8 207.7,181.3 207.5,179.0 C207.3,176.7 207.4,174.5 207.0,172.0 C206.6,169.5 205.6,166.7 204.8,164.0 C204.1,161.3 203.3,158.7 202.5,156.0 C201.7,153.3 200.8,150.7 200.0,148.0 C199.2,145.3 198.5,142.7 197.5,140.0 C196.5,137.3 195.2,134.5 194.0,132.0 C192.8,129.5 191.6,127.3 190.5,125.0 C189.4,122.7 189.0,120.8 187.5,118.0 C186.0,115.2 182.8,110.3 181.5,108.0 C180.2,105.7 180.1,105.3 179.5,104.0 C178.9,102.7 179.1,101.5 178.2,100.0 C177.3,98.5 175.4,96.7 174.0,95.0 C172.6,93.3 170.8,91.7 169.5,90.0 C168.2,88.3 167.8,86.7 166.5,85.0 C165.2,83.3 163.0,81.7 161.5,80.0 C160.0,78.3 158.8,76.7 157.5,75.0 C156.2,73.3 154.8,71.7 153.5,70.0 C152.2,68.3 151.2,66.7 150.0,65.0 C148.8,63.3 148.0,61.3 146.5,60.0 C145.0,58.7 142.5,57.5 141.0,57.0 C139.5,56.5 138.7,56.5 137.5,57.0 Z" fill="#00ffff"/>
<path d="M278.0,64.0 C275.7,64.5 270.6,66.0 268.5,67.0 C266.4,68.0 266.6,68.7 265.5,70.0 C264.4,71.3 263.2,73.3 262.0,75.0 C260.8,76.7 259.2,78.3 258.0,80.0 C256.8,81.7 256.1,83.3 255.0,85.0 C253.8,86.7 252.5,88.3 251.1,90.0 C249.7,91.7 247.5,93.3 246.5,95.0 C245.5,96.7 246.1,97.8 245.1,100.0 C244.1,102.2 242.0,105.5 240.6,108.0 C239.2,110.5 237.7,112.7 236.4,115.0 C235.1,117.3 233.5,120.2 232.6,122.0 C231.7,123.8 231.8,124.2 230.8,126.0 C229.8,127.8 227.8,130.7 226.6,133.0 C225.4,135.3 225.0,137.8 223.8,140.0 C222.6,142.2 220.3,144.0 219.4,146.0 C218.5,148.0 218.9,149.8 218.4,152.0 C217.9,154.2 216.7,156.8 216.3,159.0 C215.9,161.2 216.0,162.8 215.8,165.0 C215.6,167.2 215.5,169.7 215.3,172.0 C215.1,174.3 215.0,176.8 214.6,179.0 C214.2,181.2 213.3,182.8 213.0,185.0 C212.7,187.2 212.6,190.2 212.5,192.0 C212.4,193.8 212.4,194.0 212.3,196.0 C212.2,198.0 212.0,201.3 212.0,204.0 C212.0,206.7 212.3,209.5 212.5,212.0 C212.7,214.5 213.2,216.3 213.0,219.0 C212.8,221.7 211.8,225.5 211.5,228.0 C211.2,230.5 210.8,232.0 211.0,234.0 C211.2,236.0 212.4,239.0 213.0,240.0 C213.6,241.0 213.5,241.0 214.5,240.0 C215.5,239.0 217.7,236.0 219.0,234.0 C220.3,232.0 221.6,230.5 222.5,228.0 C223.4,225.5 223.7,221.7 224.7,219.0 C225.7,216.3 227.3,214.5 228.4,212.0 C229.5,209.5 229.9,206.7 231.2,204.0 C232.5,201.3 234.7,198.0 236.3,196.0 C237.9,194.0 239.6,193.8 241.0,192.0 C242.4,190.2 243.9,187.2 245.0,185.0 C246.1,182.8 246.7,181.2 247.5,179.0 C248.3,176.8 249.1,174.3 250.0,172.0 C250.9,169.7 252.2,167.2 253.0,165.0 C253.8,162.8 253.8,161.2 254.5,159.0 C255.2,156.8 256.5,154.2 257.5,152.0 C258.5,149.8 259.3,148.0 260.5,146.0 C261.7,144.0 263.6,142.2 264.6,140.0 C265.6,137.8 265.9,135.3 266.5,133.0 C267.1,130.7 267.3,127.8 268.0,126.0 C268.7,124.2 269.7,123.8 270.5,122.0 C271.3,120.2 272.3,117.3 273.0,115.0 C273.7,112.7 274.4,110.5 274.8,108.0 C275.2,105.5 275.1,102.2 275.5,100.0 C275.9,97.8 276.6,96.7 277.0,95.0 C277.4,93.3 277.3,91.7 278.0,90.0 C278.7,88.3 280.7,86.7 281.0,85.0 C281.3,83.3 279.8,81.7 280.0,80.0 C280.2,78.3 282.0,76.7 282.5,75.0 C283.0,73.3 282.9,71.3 283.0,70.0 C283.1,68.7 283.1,68.0 283.0,67.0 C282.9,66.0 283.3,64.5 282.5,64.0 C281.7,63.5 280.3,63.5 278.0,64.0 Z" fill="#00ffff"/>
<path d="M202.6,242.5a1.7,1.7 0 1,0 3.4,0a1.7,1.7 0 1,0 -3.4,0M213.5,243.4a1.7,1.7 0 1,0 3.4,0a1.7,1.7 0 1,0 -3.4,0M213.3,244.0a1.7,1.7 0 1,0 3.4,0a1.7,1.7 0 1,0 -3.4,0M201.3,238.0a1.7,1.7 0 1,0 3.4,0a1.7,1.7 0 1,0 -3.4,0M205.3,236.0a1.7,1.7 0 1,0 3.4,0a1.7,1.7 0 1,0 -3.4,0M211.3,236.0a1.7,1.7 0 1,0 3.4,0a1.7,1.7 0 1,0 -3.4,0M216.3,233.0a1.7,1.7 0 1,0 3.4,0a1.7,1.7 0 1,0 -3.4,0M204.3,231.0a1.7,1.7 0 1,0 3.4,0a1.7,1.7 0 1,0 -3.4,0M207.3,234.0a1.7,1.7 0 1,0 3.4,0a1.7,1.7 0 1,0 -3.4,0M202.3,235.0a1.7,1.7 0 1,0 3.4,0a1.7,1.7 0 1,0 -3.4,0M214.3,238.0a1.7,1.7 0 1,0 3.4,0a1.7,1.7 0 1,0 -3.4,0M209.3,240.0a1.7,1.7 0 1,0 3.4,0a1.7,1.7 0 1,0 -3.4,0M206.3,244.0a1.7,1.7 0 1,0 3.4,0a1.7,1.7 0 1,0 -3.4,0M200.3,244.0a1.7,1.7 0 1,0 3.4,0a1.7,1.7 0 1,0 -3.4,0M136.3,58.1a1.55,1.55 0 1,0 3.1,0a1.55,1.55 0 1,0 -3.1,0M135.0,58.8a1.55,1.55 0 1,0 3.1,0a1.55,1.55 0 1,0 -3.1,0M134.7,60.1a1.55,1.55 0 1,0 3.1,0a1.55,1.55 0 1,0 -3.1,0M133.4,61.0a1.55,1.55 0 1,0 3.1,0a1.55,1.55 0 1,0 -3.1,0M132.8,60.6a1.55,1.55 0 1,0 3.1,0a1.55,1.55 0 1,0 -3.1,0M133.5,63.6a1.55,1.55 0 1,0 3.1,0a1.55,1.55 0 1,0 -3.1,0M131.9,65.1a1.55,1.55 0 1,0 3.1,0a1.55,1.55 0 1,0 -3.1,0M133.5,68.0a1.55,1.55 0 1,0 3.1,0a1.55,1.55 0 1,0 -3.1,0M132.7,68.8a1.55,1.55 0 1,0 3.1,0a1.55,1.55 0 1,0 -3.1,0M132.4,70.2a1.55,1.55 0 1,0 3.1,0a1.55,1.55 0 1,0 -3.1,0M131.8,71.1a1.55,1.55 0 1,0 3.1,0a1.55,1.55 0 1,0 -3.1,0M134.1,75.6a1.55,1.55 0 1,0 3.1,0a1.55,1.55 0 1,0 -3.1,0M133.6,76.0a1.55,1.55 0 1,0 3.1,0a1.55,1.55 0 1,0 -3.1,0M134.6,77.4a1.55,1.55 0 1,0 3.1,0a1.55,1.55 0 1,0 -3.1,0M133.5,78.8a1.55,1.55 0 1,0 3.1,0a1.55,1.55 0 1,0 -3.1,0M133.6,80.9a1.55,1.55 0 1,0 3.1,0a1.55,1.55 0 1,0 -3.1,0M135.2,81.2a1.55,1.55 0 1,0 3.1,0a1.55,1.55 0 1,0 -3.1,0M133.9,82.3a1.55,1.55 0 1,0 3.1,0a1.55,1.55 0 1,0 -3.1,0M134.0,83.5a1.55,1.55 0 1,0 3.1,0a1.55,1.55 0 1,0 -3.1,0M133.9,84.7a1.55,1.55 0 1,0 3.1,0a1.55,1.55 0 1,0 -3.1,0M135.4,85.0a1.55,1.55 0 1,0 3.1,0a1.55,1.55 0 1,0 -3.1,0M134.4,86.1a1.55,1.55 0 1,0 3.1,0a1.55,1.55 0 1,0 -3.1,0M134.7,87.7a1.55,1.55 0 1,0 3.1,0a1.55,1.55 0 1,0 -3.1,0M135.8,88.0a1.55,1.55 0 1,0 3.1,0a1.55,1.55 0 1,0 -3.1,0M135.0,89.3a1.55,1.55 0 1,0 3.1,0a1.55,1.55 0 1,0 -3.1,0M136.0,91.2a1.55,1.55 0 1,0 3.1,0a1.55,1.55 0 1,0 -3.1,0M137.0,92.3a1.55,1.55 0 1,0 3.1,0a1.55,1.55 0 1,0 -3.1,0M136.7,93.1a1.55,1.55 0 1,0 3.1,0a1.55,1.55 0 1,0 -3.1,0M138.6,94.7a1.55,1.55 0 1,0 3.1,0a1.55,1.55 0 1,0 -3.1,0M138.2,95.6a1.55,1.55 0 1,0 3.1,0a1.55,1.55 0 1,0 -3.1,0M140.4,96.9a1.55,1.55 0 1,0 3.1,0a1.55,1.55 0 1,0 -3.1,0M141.2,100.7a1.55,1.55 0 1,0 3.1,0a1.55,1.55 0 1,0 -3.1,0M141.5,104.1a1.55,1.55 0 1,0 3.1,0a1.55,1.55 0 1,0 -3.1,0M143.1,105.6a1.55,1.55 0 1,0 3.1,0a1.55,1.55 0 1,0 -3.1,0M142.5,106.4a1.55,1.55 0 1,0 3.1,0a1.55,1.55 0 1,0 -3.1,0M142.6,106.9a1.55,1.55 0 1,0 3.1,0a1.55,1.55 0 1,0 -3.1,0M142.9,107.8a1.55,1.55 0 1,0 3.1,0a1.55,1.55 0 1,0 -3.1,0M143.0,111.2a1.55,1.55 0 1,0 3.1,0a1.55,1.55 0 1,0 -3.1,0M144.2,112.6a1.55,1.55 0 1,0 3.1,0a1.55,1.55 0 1,0 -3.1,0M145.8,115.0a1.55,1.55 0 1,0 3.1,0a1.55,1.55 0 1,0 -3.1,0M145.6,117.3a1.55,1.55 0 1,0 3.1,0a1.55,1.55 0 1,0 -3.1,0M147.0,117.8a1.55,1.55 0 1,0 3.1,0a1.55,1.55 0 1,0 -3.1,0M146.7,118.5a1.55,1.55 0 1,0 3.1,0a1.55,1.55 0 1,0 -3.1,0M147.3,121.0a1.55,1.55 0 1,0 3.1,0a1.55,1.55 0 1,0 -3.1,0M148.1,122.5a1.55,1.55 0 1,0 3.1,0a1.55,1.55 0 1,0 -3.1,0M148.2,123.6a1.55,1.55 0 1,0 3.1,0a1.55,1.55 0 1,0 -3.1,0M149.6,124.5a1.55,1.55 0 1,0 3.1,0a1.55,1.55 0 1,0 -3.1,0M150.7,124.6a1.55,1.55 0 1,0 3.1,0a1.55,1.55 0 1,0 -3.1,0M152.4,128.6a1.55,1.55 0 1,0 3.1,0a1.55,1.55 0 1,0 -3.1,0M153.8,132.3a1.55,1.55 0 1,0 3.1,0a1.55,1.55 0 1,0 -3.1,0M154.6,133.6a1.55,1.55 0 1,0 3.1,0a1.55,1.55 0 1,0 -3.1,0M155.9,133.9a1.55,1.55 0 1,0 3.1,0a1.55,1.55 0 1,0 -3.1,0M155.2,135.5a1.55,1.55 0 1,0 3.1,0a1.55,1.55 0 1,0 -3.1,0M156.1,136.9a1.55,1.55 0 1,0 3.1,0a1.55,1.55 0 1,0 -3.1,0M156.2,139.3a1.55,1.55 0 1,0 3.1,0a1.55,1.55 0 1,0 -3.1,0M158.1,141.2a1.55,1.55 0 1,0 3.1,0a1.55,1.55 0 1,0 -3.1,0M158.3,142.3a1.55,1.55 0 1,0 3.1,0a1.55,1.55 0 1,0 -3.1,0M157.5,143.0a1.55,1.55 0 1,0 3.1,0a1.55,1.55 0 1,0 -3.1,0M157.6,145.1a1.55,1.55 0 1,0 3.1,0a1.55,1.55 0 1,0 -3.1,0M158.4,146.1a1.55,1.55 0 1,0 3.1,0a1.55,1.55 0 1,0 -3.1,0M159.2,147.6a1.55,1.55 0 1,0 3.1,0a1.55,1.55 0 1,0 -3.1,0M160.1,148.2a1.55,1.55 0 1,0 3.1,0a1.55,1.55 0 1,0 -3.1,0M160.8,150.3a1.55,1.55 0 1,0 3.1,0a1.55,1.55 0 1,0 -3.1,0M160.4,150.6a1.55,1.55 0 1,0 3.1,0a1.55,1.55 0 1,0 -3.1,0M162.1,152.2a1.55,1.55 0 1,0 3.1,0a1.55,1.55 0 1,0 -3.1,0M162.6,153.2a1.55,1.55 0 1,0 3.1,0a1.55,1.55 0 1,0 -3.1,0M163.0,155.2a1.55,1.55 0 1,0 3.1,0a1.55,1.55 0 1,0 -3.1,0M164.0,157.3a1.55,1.55 0 1,0 3.1,0a1.55,1.55 0 1,0 -3.1,0M163.4,157.8a1.55,1.55 0 1,0 3.1,0a1.55,1.55 0 1,0 -3.1,0M164.3,160.8a1.55,1.55 0 1,0 3.1,0a1.55,1.55 0 1,0 -3.1,0M163.9,162.4a1.55,1.55 0 1,0 3.1,0a1.55,1.55 0 1,0 -3.1,0M165.8,164.3a1.55,1.55 0 1,0 3.1,0a1.55,1.55 0 1,0 -3.1,0M165.5,165.2a1.55,1.55 0 1,0 3.1,0a1.55,1.55 0 1,0 -3.1,0M165.9,166.7a1.55,1.55 0 1,0 3.1,0a1.55,1.55 0 1,0 -3.1,0M166.4,167.5a1.55,1.55 0 1,0 3.1,0a1.55,1.55 0 1,0 -3.1,0M166.8,169.6a1.55,1.55 0 1,0 3.1,0a1.55,1.55 0 1,0 -3.1,0M167.5,173.0a1.55,1.55 0 1,0 3.1,0a1.55,1.55 0 1,0 -3.1,0M168.1,174.0a1.55,1.55 0 1,0 3.1,0a1.55,1.55 0 1,0 -3.1,0M169.1,174.7a1.55,1.55 0 1,0 3.1,0a1.55,1.55 0 1,0 -3.1,0M169.2,175.7a1.55,1.55 0 1,0 3.1,0a1.55,1.55 0 1,0 -3.1,0M169.0,178.2a1.55,1.55 0 1,0 3.1,0a1.55,1.55 0 1,0 -3.1,0M169.5,179.7a1.55,1.55 0 1,0 3.1,0a1.55,1.55 0 1,0 -3.1,0M170.7,181.6a1.55,1.55 0 1,0 3.1,0a1.55,1.55 0 1,0 -3.1,0M171.7,183.7a1.55,1.55 0 1,0 3.1,0a1.55,1.55 0 1,0 -3.1,0M172.2,184.3a1.55,1.55 0 1,0 3.1,0a1.55,1.55 0 1,0 -3.1,0M172.7,185.4a1.55,1.55 0 1,0 3.1,0a1.55,1.55 0 1,0 -3.1,0M173.8,184.7a1.55,1.55 0 1,0 3.1,0a1.55,1.55 0 1,0 -3.1,0M174.4,186.5a1.55,1.55 0 1,0 3.1,0a1.55,1.55 0 1,0 -3.1,0M176.1,187.8a1.55,1.55 0 1,0 3.1,0a1.55,1.55 0 1,0 -3.1,0M177.0,189.1a1.55,1.55 0 1,0 3.1,0a1.55,1.55 0 1,0 -3.1,0M179.9,190.4a1.55,1.55 0 1,0 3.1,0a1.55,1.55 0 1,0 -3.1,0M181.8,191.6a1.55,1.55 0 1,0 3.1,0a1.55,1.55 0 1,0 -3.1,0M182.1,192.5a1.55,1.55 0 1,0 3.1,0a1.55,1.55 0 1,0 -3.1,0M181.8,194.2a1.55,1.55 0 1,0 3.1,0a1.55,1.55 0 1,0 -3.1,0M182.2,194.7a1.55,1.55 0 1,0 3.1,0a1.55,1.55 0 1,0 -3.1,0M182.9,195.8a1.55,1.55 0 1,0 3.1,0a1.55,1.55 0 1,0 -3.1,0M185.5,197.3a1.55,1.55 0 1,0 3.1,0a1.55,1.55 0 1,0 -3.1,0M186.3,199.1a1.55,1.55 0 1,0 3.1,0a1.55,1.55 0 1,0 -3.1,0M186.4,201.3a1.55,1.55 0 1,0 3.1,0a1.55,1.55 0 1,0 -3.1,0M187.0,201.9a1.55,1.55 0 1,0 3.1,0a1.55,1.55 0 1,0 -3.1,0M186.3,203.2a1.55,1.55 0 1,0 3.1,0a1.55,1.55 0 1,0 -3.1,0M187.2,205.8a1.55,1.55 0 1,0 3.1,0a1.55,1.55 0 1,0 -3.1,0M188.8,207.0a1.55,1.55 0 1,0 3.1,0a1.55,1.55 0 1,0 -3.1,0M189.2,208.0a1.55,1.55 0 1,0 3.1,0a1.55,1.55 0 1,0 -3.1,0M189.6,208.4a1.55,1.55 0 1,0 3.1,0a1.55,1.55 0 1,0 -3.1,0M191.0,209.6a1.55,1.55 0 1,0 3.1,0a1.55,1.55 0 1,0 -3.1,0M193.3,210.4a1.55,1.55 0 1,0 3.1,0a1.55,1.55 0 1,0 -3.1,0M193.9,210.8a1.55,1.55 0 1,0 3.1,0a1.55,1.55 0 1,0 -3.1,0M193.1,212.4a1.55,1.55 0 1,0 3.1,0a1.55,1.55 0 1,0 -3.1,0M195.3,212.4a1.55,1.55 0 1,0 3.1,0a1.55,1.55 0 1,0 -3.1,0M196.4,214.3a1.55,1.55 0 1,0 3.1,0a1.55,1.55 0 1,0 -3.1,0M196.3,216.1a1.55,1.55 0 1,0 3.1,0a1.55,1.55 0 1,0 -3.1,0M195.7,219.0a1.55,1.55 0 1,0 3.1,0a1.55,1.55 0 1,0 -3.1,0M196.4,220.7a1.55,1.55 0 1,0 3.1,0a1.55,1.55 0 1,0 -3.1,0M197.4,221.6a1.55,1.55 0 1,0 3.1,0a1.55,1.55 0 1,0 -3.1,0M196.5,222.1a1.55,1.55 0 1,0 3.1,0a1.55,1.55 0 1,0 -3.1,0M195.9,223.7a1.55,1.55 0 1,0 3.1,0a1.55,1.55 0 1,0 -3.1,0M196.4,224.8a1.55,1.55 0 1,0 3.1,0a1.55,1.55 0 1,0 -3.1,0M197.6,227.6a1.55,1.55 0 1,0 3.1,0a1.55,1.55 0 1,0 -3.1,0M198.6,229.5a1.55,1.55 0 1,0 3.1,0a1.55,1.55 0 1,0 -3.1,0M198.2,230.5a1.55,1.55 0 1,0 3.1,0a1.55,1.55 0 1,0 -3.1,0M197.5,231.4a1.55,1.55 0 1,0 3.1,0a1.55,1.55 0 1,0 -3.1,0M198.9,233.5a1.55,1.55 0 1,0 3.1,0a1.55,1.55 0 1,0 -3.1,0M198.8,234.9a1.55,1.55 0 1,0 3.1,0a1.55,1.55 0 1,0 -3.1,0M200.1,235.6a1.55,1.55 0 1,0 3.1,0a1.55,1.55 0 1,0 -3.1,0M200.5,237.3a1.55,1.55 0 1,0 3.1,0a1.55,1.55 0 1,0 -3.1,0M199.2,238.6a1.55,1.55 0 1,0 3.1,0a1.55,1.55 0 1,0 -3.1,0M200.7,239.0a1.55,1.55 0 1,0 3.1,0a1.55,1.55 0 1,0 -3.1,0M200.1,241.5a1.55,1.55 0 1,0 3.1,0a1.55,1.55 0 1,0 -3.1,0M201.5,241.8a1.55,1.55 0 1,0 3.1,0a1.55,1.55 0 1,0 -3.1,0M200.6,243.2a1.55,1.55 0 1,0 3.1,0a1.55,1.55 0 1,0 -3.1,0M201.7,243.3a1.55,1.55 0 1,0 3.1,0a1.55,1.55 0 1,0 -3.1,0M202.3,240.1a1.55,1.55 0 1,0 3.1,0a1.55,1.55 0 1,0 -3.1,0M201.7,239.3a1.55,1.55 0 1,0 3.1,0a1.55,1.55 0 1,0 -3.1,0M202.9,238.3a1.55,1.55 0 1,0 3.1,0a1.55,1.55 0 1,0 -3.1,0M201.8,237.9a1.55,1.55 0 1,0 3.1,0a1.55,1.55 0 1,0 -3.1,0M201.7,236.5a1.55,1.55 0 1,0 3.1,0a1.55,1.55 0 1,0 -3.1,0M203.6,233.5a1.55,1.55 0 1,0 3.1,0a1.55,1.55 0 1,0 -3.1,0M202.4,231.5a1.55,1.55 0 1,0 3.1,0a1.55,1.55 0 1,0 -3.1,0M203.4,230.0a1.55,1.55 0 1,0 3.1,0a1.55,1.55 0 1,0 -3.1,0M203.2,229.8a1.55,1.55 0 1,0 3.1,0a1.55,1.55 0 1,0 -3.1,0M203.4,226.9a1.55,1.55 0 1,0 3.1,0a1.55,1.55 0 1,0 -3.1,0M204.3,223.9a1.55,1.55 0 1,0 3.1,0a1.55,1.55 0 1,0 -3.1,0M204.9,223.5a1.55,1.55 0 1,0 3.1,0a1.55,1.55 0 1,0 -3.1,0M205.2,222.5a1.55,1.55 0 1,0 3.1,0a1.55,1.55 0 1,0 -3.1,0M205.0,219.3a1.55,1.55 0 1,0 3.1,0a1.55,1.55 0 1,0 -3.1,0M204.2,216.6a1.55,1.55 0 1,0 3.1,0a1.55,1.55 0 1,0 -3.1,0M205.9,214.2a1.55,1.55 0 1,0 3.1,0a1.55,1.55 0 1,0 -3.1,0M205.0,208.5a1.55,1.55 0 1,0 3.1,0a1.55,1.55 0 1,0 -3.1,0M206.1,207.4a1.55,1.55 0 1,0 3.1,0a1.55,1.55 0 1,0 -3.1,0M205.0,206.9a1.55,1.55 0 1,0 3.1,0a1.55,1.55 0 1,0 -3.1,0M205.2,205.2a1.55,1.55 0 1,0 3.1,0a1.55,1.55 0 1,0 -3.1,0M206.4,204.2a1.55,1.55 0 1,0 3.1,0a1.55,1.55 0 1,0 -3.1,0M205.5,200.9a1.55,1.55 0 1,0 3.1,0a1.55,1.55 0 1,0 -3.1,0M205.3,199.7a1.55,1.55 0 1,0 3.1,0a1.55,1.55 0 1,0 -3.1,0M206.1,196.8a1.55,1.55 0 1,0 3.1,0a1.55,1.55 0 1,0 -3.1,0M204.8,195.7a1.55,1.55 0 1,0 3.1,0a1.55,1.55 0 1,0 -3.1,0M206.8,193.0a1.55,1.55 0 1,0 3.1,0a1.55,1.55 0 1,0 -3.1,0M206.3,190.9a1.55,1.55 0 1,0 3.1,0a1.55,1.55 0 1,0 -3.1,0M206.4,188.9a1.55,1.55 0 1,0 3.1,0a1.55,1.55 0 1,0 -3.1,0M205.1,187.4a1.55,1.55 0 1,0 3.1,0a1.55,1.55 0 1,0 -3.1,0M205.5,186.3a1.55,1.55 0 1,0 3.1,0a1.55,1.55 0 1,0 -3.1,0M205.0,185.8a1.55,1.55 0 1,0 3.1,0a1.55,1.55 0 1,0 -3.1,0M205.5,184.5a1.55,1.55 0 1,0 3.1,0a1.55,1.55 0 1,0 -3.1,0M205.8,181.6a1.55,1.55 0 1,0 3.1,0a1.55,1.55 0 1,0 -3.1,0M204.3,180.1a1.55,1.55 0 1,0 3.1,0a1.55,1.55 0 1,0 -3.1,0M205.1,179.8a1.55,1.55 0 1,0 3.1,0a1.55,1.55 0 1,0 -3.1,0M204.3,178.2a1.55,1.55 0 1,0 3.1,0a1.55,1.55 0 1,0 -3.1,0M203.9,177.8a1.55,1.55 0 1,0 3.1,0a1.55,1.55 0 1,0 -3.1,0M205.6,176.6a1.55,1.55 0 1,0 3.1,0a1.55,1.55 0 1,0 -3.1,0M204.9,174.4a1.55,1.55 0 1,0 3.1,0a1.55,1.55 0 1,0 -3.1,0M204.6,173.2a1.55,1.55 0 1,0 3.1,0a1.55,1.55 0 1,0 -3.1,0M203.7,167.3a1.55,1.55 0 1,0 3.1,0a1.55,1.55 0 1,0 -3.1,0M203.8,167.0a1.55,1.55 0 1,0 3.1,0a1.55,1.55 0 1,0 -3.1,0M201.8,162.6a1.55,1.55 0 1,0 3.1,0a1.55,1.55 0 1,0 -3.1,0M201.3,160.8a1.55,1.55 0 1,0 3.1,0a1.55,1.55 0 1,0 -3.1,0M201.4,159.9a1.55,1.55 0 1,0 3.1,0a1.55,1.55 0 1,0 -3.1,0M200.8,158.6a1.55,1.55 0 1,0 3.1,0a1.55,1.55 0 1,0 -3.1,0M200.4,156.7a1.55,1.55 0 1,0 3.1,0a1.55,1.55 0 1,0 -3.1,0M199.5,154.7a1.55,1.55 0 1,0 3.1,0a1.55,1.55 0 1,0 -3.1,0M199.7,153.2a1.55,1.55 0 1,0 3.1,0a1.55,1.55 0 1,0 -3.1,0M198.5,153.2a1.55,1.55 0 1,0 3.1,0a1.55,1.55 0 1,0 -3.1,0M198.9,152.0a1.55,1.55 0 1,0 3.1,0a1.55,1.55 0 1,0 -3.1,0M199.2,150.9a1.55,1.55 0 1,0 3.1,0a1.55,1.55 0 1,0 -3.1,0M198.5,150.1a1.55,1.55 0 1,0 3.1,0a1.55,1.55 0 1,0 -3.1,0M196.6,148.7a1.55,1.55 0 1,0 3.1,0a1.55,1.55 0 1,0 -3.1,0M197.3,147.4a1.55,1.55 0 1,0 3.1,0a1.55,1.55 0 1,0 -3.1,0M198.0,146.9a1.55,1.55 0 1,0 3.1,0a1.55,1.55 0 1,0 -3.1,0M196.6,146.0a1.55,1.55 0 1,0 3.1,0a1.55,1.55 0 1,0 -3.1,0M195.8,144.6a1.55,1.55 0 1,0 3.1,0a1.55,1.55 0 1,0 -3.1,0M196.2,143.4a1.55,1.55 0 1,0 3.1,0a1.55,1.55 0 1,0 -3.1,0M195.6,142.3a1.55,1.55 0 1,0 3.1,0a1.55,1.55 0 1,0 -3.1,0M195.4,141.3a1.55,1.55 0 1,0 3.1,0a1.55,1.55 0 1,0 -3.1,0M195.4,140.2a1.55,1.55 0 1,0 3.1,0a1.55,1.55 0 1,0 -3.1,0M193.7,139.5a1.55,1.55 0 1,0 3.1,0a1.55,1.55 0 1,0 -3.1,0M194.1,137.2a1.55,1.55 0 1,0 3.1,0a1.55,1.55 0 1,0 -3.1,0M193.2,134.7a1.55,1.55 0 1,0 3.1,0a1.55,1.55 0 1,0 -3.1,0M192.3,133.6a1.55,1.55 0 1,0 3.1,0a1.55,1.55 0 1,0 -3.1,0M192.4,133.0a1.55,1.55 0 1,0 3.1,0a1.55,1.55 0 1,0 -3.1,0M191.4,132.4a1.55,1.55 0 1,0 3.1,0a1.55,1.55 0 1,0 -3.1,0M190.6,131.2a1.55,1.55 0 1,0 3.1,0a1.55,1.55 0 1,0 -3.1,0M190.8,130.2a1.55,1.55 0 1,0 3.1,0a1.55,1.55 0 1,0 -3.1,0M189.2,129.7a1.55,1.55 0 1,0 3.1,0a1.55,1.55 0 1,0 -3.1,0M190.2,128.0a1.55,1.55 0 1,0 3.1,0a1.55,1.55 0 1,0 -3.1,0M188.3,126.8a1.55,1.55 0 1,0 3.1,0a1.55,1.55 0 1,0 -3.1,0M187.9,125.7a1.55,1.55 0 1,0 3.1,0a1.55,1.55 0 1,0 -3.1,0M186.3,122.8a1.55,1.55 0 1,0 3.1,0a1.55,1.55 0 1,0 -3.1,0M186.3,121.8a1.55,1.55 0 1,0 3.1,0a1.55,1.55 0 1,0 -3.1,0M186.4,121.0a1.55,1.55 0 1,0 3.1,0a1.55,1.55 0 1,0 -3.1,0M184.6,119.7a1.55,1.55 0 1,0 3.1,0a1.55,1.55 0 1,0 -3.1,0M184.7,118.7a1.55,1.55 0 1,0 3.1,0a1.55,1.55 0 1,0 -3.1,0M183.9,116.8a1.55,1.55 0 1,0 3.1,0a1.55,1.55 0 1,0 -3.1,0M184.2,116.3a1.55,1.55 0 1,0 3.1,0a1.55,1.55 0 1,0 -3.1,0M182.5,113.8a1.55,1.55 0 1,0 3.1,0a1.55,1.55 0 1,0 -3.1,0M181.9,112.9a1.55,1.55 0 1,0 3.1,0a1.55,1.55 0 1,0 -3.1,0M179.2,110.1a1.55,1.55 0 1,0 3.1,0a1.55,1.55 0 1,0 -3.1,0M178.1,106.2a1.55,1.55 0 1,0 3.1,0a1.55,1.55 0 1,0 -3.1,0M177.5,104.4a1.55,1.55 0 1,0 3.1,0a1.55,1.55 0 1,0 -3.1,0M175.5,102.9a1.55,1.55 0 1,0 3.1,0a1.55,1.55 0 1,0 -3.1,0M175.0,100.1a1.55,1.55 0 1,0 3.1,0a1.55,1.55 0 1,0 -3.1,0M175.1,98.8a1.55,1.55 0 1,0 3.1,0a1.55,1.55 0 1,0 -3.1,0M172.9,98.0a1.55,1.55 0 1,0 3.1,0a1.55,1.55 0 1,0 -3.1,0M171.7,95.9a1.55,1.55 0 1,0 3.1,0a1.55,1.55 0 1,0 -3.1,0M171.6,95.0a1.55,1.55 0 1,0 3.1,0a1.55,1.55 0 1,0 -3.1,0M170.3,93.2a1.55,1.55 0 1,0 3.1,0a1.55,1.55 0 1,0 -3.1,0M169.1,93.1a1.55,1.55 0 1,0 3.1,0a1.55,1.55 0 1,0 -3.1,0M163.6,85.5a1.55,1.55 0 1,0 3.1,0a1.55,1.55 0 1,0 -3.1,0M163.2,84.7a1.55,1.55 0 1,0 3.1,0a1.55,1.55 0 1,0 -3.1,0M161.7,84.6a1.55,1.55 0 1,0 3.1,0a1.55,1.55 0 1,0 -3.1,0M161.3,81.7a1.55,1.55 0 1,0 3.1,0a1.55,1.55 0 1,0 -3.1,0M160.1,82.0a1.55,1.55 0 1,0 3.1,0a1.55,1.55 0 1,0 -3.1,0M157.0,79.3a1.55,1.55 0 1,0 3.1,0a1.55,1.55 0 1,0 -3.1,0M155.6,76.0a1.55,1.55 0 1,0 3.1,0a1.55,1.55 0 1,0 -3.1,0M153.8,74.0a1.55,1.55 0 1,0 3.1,0a1.55,1.55 0 1,0 -3.1,0M153.7,73.1a1.55,1.55 0 1,0 3.1,0a1.55,1.55 0 1,0 -3.1,0M152.4,71.4a1.55,1.55 0 1,0 3.1,0a1.55,1.55 0 1,0 -3.1,0M151.4,70.5a1.55,1.55 0 1,0 3.1,0a1.55,1.55 0 1,0 -3.1,0M151.6,70.0a1.55,1.55 0 1,0 3.1,0a1.55,1.55 0 1,0 -3.1,0M148.9,68.0a1.55,1.55 0 1,0 3.1,0a1.55,1.55 0 1,0 -3.1,0M148.4,66.4a1.55,1.55 0 1,0 3.1,0a1.55,1.55 0 1,0 -3.1,0M147.8,65.7a1.55,1.55 0 1,0 3.1,0a1.55,1.55 0 1,0 -3.1,0M147.5,64.2a1.55,1.55 0 1,0 3.1,0a1.55,1.55 0 1,0 -3.1,0M146.7,62.7a1.55,1.55 0 1,0 3.1,0a1.55,1.55 0 1,0 -3.1,0M143.4,61.2a1.55,1.55 0 1,0 3.1,0a1.55,1.55 0 1,0 -3.1,0M140.6,58.8a1.55,1.55 0 1,0 3.1,0a1.55,1.55 0 1,0 -3.1,0M139.4,58.5a1.55,1.55 0 1,0 3.1,0a1.55,1.55 0 1,0 -3.1,0M139.4,58.1a1.55,1.55 0 1,0 3.1,0a1.55,1.55 0 1,0 -3.1,0M136.7,57.1a1.55,1.55 0 1,0 3.1,0a1.55,1.55 0 1,0 -3.1,0M275.7,65.9a1.55,1.55 0 1,0 3.1,0a1.55,1.55 0 1,0 -3.1,0M273.6,65.2a1.55,1.55 0 1,0 3.1,0a1.55,1.55 0 1,0 -3.1,0M273.2,66.2a1.55,1.55 0 1,0 3.1,0a1.55,1.55 0 1,0 -3.1,0M272.0,66.7a1.55,1.55 0 1,0 3.1,0a1.55,1.55 0 1,0 -3.1,0M271.1,67.6a1.55,1.55 0 1,0 3.1,0a1.55,1.55 0 1,0 -3.1,0M269.2,67.8a1.55,1.55 0 1,0 3.1,0a1.55,1.55 0 1,0 -3.1,0M267.9,68.7a1.55,1.55 0 1,0 3.1,0a1.55,1.55 0 1,0 -3.1,0M267.0,67.6a1.55,1.55 0 1,0 3.1,0a1.55,1.55 0 1,0 -3.1,0M266.1,69.9a1.55,1.55 0 1,0 3.1,0a1.55,1.55 0 1,0 -3.1,0M265.2,70.7a1.55,1.55 0 1,0 3.1,0a1.55,1.55 0 1,0 -3.1,0M263.8,71.2a1.55,1.55 0 1,0 3.1,0a1.55,1.55 0 1,0 -3.1,0M263.5,71.3a1.55,1.55 0 1,0 3.1,0a1.55,1.55 0 1,0 -3.1,0M263.2,74.3a1.55,1.55 0 1,0 3.1,0a1.55,1.55 0 1,0 -3.1,0M261.9,74.2a1.55,1.55 0 1,0 3.1,0a1.55,1.55 0 1,0 -3.1,0M260.9,74.9a1.55,1.55 0 1,0 3.1,0a1.55,1.55 0 1,0 -3.1,0M261.4,76.9a1.55,1.55 0 1,0 3.1,0a1.55,1.55 0 1,0 -3.1,0M259.6,77.6a1.55,1.55 0 1,0 3.1,0a1.55,1.55 0 1,0 -3.1,0M259.2,79.4a1.55,1.55 0 1,0 3.1,0a1.55,1.55 0 1,0 -3.1,0M258.5,79.5a1.55,1.55 0 1,0 3.1,0a1.55,1.55 0 1,0 -3.1,0M257.1,82.2a1.55,1.55 0 1,0 3.1,0a1.55,1.55 0 1,0 -3.1,0M255.2,82.6a1.55,1.55 0 1,0 3.1,0a1.55,1.55 0 1,0 -3.1,0M255.6,84.1a1.55,1.55 0 1,0 3.1,0a1.55,1.55 0 1,0 -3.1,0M253.9,84.4a1.55,1.55 0 1,0 3.1,0a1.55,1.55 0 1,0 -3.1,0M253.7,85.8a1.55,1.55 0 1,0 3.1,0a1.55,1.55 0 1,0 -3.1,0M253.0,87.2a1.55,1.55 0 1,0 3.1,0a1.55,1.55 0 1,0 -3.1,0M251.5,88.9a1.55,1.55 0 1,0 3.1,0a1.55,1.55 0 1,0 -3.1,0M250.8,89.3a1.55,1.55 0 1,0 3.1,0a1.55,1.55 0 1,0 -3.1,0M250.3,91.7a1.55,1.55 0 1,0 3.1,0a1.55,1.55 0 1,0 -3.1,0M247.0,93.6a1.55,1.55 0 1,0 3.1,0a1.55,1.55 0 1,0 -3.1,0M245.8,95.0a1.55,1.55 0 1,0 3.1,0a1.55,1.55 0 1,0 -3.1,0M244.9,96.3a1.55,1.55 0 1,0 3.1,0a1.55,1.55 0 1,0 -3.1,0M244.3,97.9a1.55,1.55 0 1,0 3.1,0a1.55,1.55 0 1,0 -3.1,0M244.1,98.7a1.55,1.55 0 1,0 3.1,0a1.55,1.55 0 1,0 -3.1,0M243.9,101.6a1.55,1.55 0 1,0 3.1,0a1.55,1.55 0 1,0 -3.1,0M243.0,102.0a1.55,1.55 0 1,0 3.1,0a1.55,1.55 0 1,0 -3.1,0M242.1,103.1a1.55,1.55 0 1,0 3.1,0a1.55,1.55 0 1,0 -3.1,0M242.1,104.6a1.55,1.55 0 1,0 3.1,0a1.55,1.55 0 1,0 -3.1,0M242.4,105.4a1.55,1.55 0 1,0 3.1,0a1.55,1.55 0 1,0 -3.1,0M241.9,106.8a1.55,1.55 0 1,0 3.1,0a1.55,1.55 0 1,0 -3.1,0M240.6,106.9a1.55,1.55 0 1,0 3.1,0a1.55,1.55 0 1,0 -3.1,0M239.8,107.6a1.55,1.55 0 1,0 3.1,0a1.55,1.55 0 1,0 -3.1,0M239.3,109.0a1.55,1.55 0 1,0 3.1,0a1.55,1.55 0 1,0 -3.1,0M239.5,109.9a1.55,1.55 0 1,0 3.1,0a1.55,1.55 0 1,0 -3.1,0M239.1,111.3a1.55,1.55 0 1,0 3.1,0a1.55,1.55 0 1,0 -3.1,0M237.5,112.3a1.55,1.55 0 1,0 3.1,0a1.55,1.55 0 1,0 -3.1,0M237.0,112.8a1.55,1.55 0 1,0 3.1,0a1.55,1.55 0 1,0 -3.1,0M233.6,117.6a1.55,1.55 0 1,0 3.1,0a1.55,1.55 0 1,0 -3.1,0M233.9,119.7a1.55,1.55 0 1,0 3.1,0a1.55,1.55 0 1,0 -3.1,0M232.0,121.2a1.55,1.55 0 1,0 3.1,0a1.55,1.55 0 1,0 -3.1,0M231.5,121.8a1.55,1.55 0 1,0 3.1,0a1.55,1.55 0 1,0 -3.1,0M231.3,124.4a1.55,1.55 0 1,0 3.1,0a1.55,1.55 0 1,0 -3.1,0M230.9,125.4a1.55,1.55 0 1,0 3.1,0a1.55,1.55 0 1,0 -3.1,0M229.8,126.3a1.55,1.55 0 1,0 3.1,0a1.55,1.55 0 1,0 -3.1,0M229.7,129.1a1.55,1.55 0 1,0 3.1,0a1.55,1.55 0 1,0 -3.1,0M227.1,130.5a1.55,1.55 0 1,0 3.1,0a1.55,1.55 0 1,0 -3.1,0M227.9,131.3a1.55,1.55 0 1,0 3.1,0a1.55,1.55 0 1,0 -3.1,0M226.7,132.6a1.55,1.55 0 1,0 3.1,0a1.55,1.55 0 1,0 -3.1,0M227.0,133.4a1.55,1.55 0 1,0 3.1,0a1.55,1.55 0 1,0 -3.1,0M226.3,133.8a1.55,1.55 0 1,0 3.1,0a1.55,1.55 0 1,0 -3.1,0M224.9,136.7a1.55,1.55 0 1,0 3.1,0a1.55,1.55 0 1,0 -3.1,0M223.8,137.8a1.55,1.55 0 1,0 3.1,0a1.55,1.55 0 1,0 -3.1,0M223.9,139.4a1.55,1.55 0 1,0 3.1,0a1.55,1.55 0 1,0 -3.1,0M224.0,139.7a1.55,1.55 0 1,0 3.1,0a1.55,1.55 0 1,0 -3.1,0M222.5,140.6a1.55,1.55 0 1,0 3.1,0a1.55,1.55 0 1,0 -3.1,0M222.9,142.3a1.55,1.55 0 1,0 3.1,0a1.55,1.55 0 1,0 -3.1,0M221.3,142.8a1.55,1.55 0 1,0 3.1,0a1.55,1.55 0 1,0 -3.1,0M221.2,143.6a1.55,1.55 0 1,0 3.1,0a1.55,1.55 0 1,0 -3.1,0M220.4,144.8a1.55,1.55 0 1,0 3.1,0a1.55,1.55 0 1,0 -3.1,0M219.3,144.6a1.55,1.55 0 1,0 3.1,0a1.55,1.55 0 1,0 -3.1,0M218.7,145.3a1.55,1.55 0 1,0 3.1,0a1.55,1.55 0 1,0 -3.1,0M218.7,146.7a1.55,1.55 0 1,0 3.1,0a1.55,1.55 0 1,0 -3.1,0M218.8,147.9a1.55,1.55 0 1,0 3.1,0a1.55,1.55 0 1,0 -3.1,0M218.9,151.0a1.55,1.55 0 1,0 3.1,0a1.55,1.55 0 1,0 -3.1,0M217.3,151.1a1.55,1.55 0 1,0 3.1,0a1.55,1.55 0 1,0 -3.1,0M217.1,153.1a1.55,1.55 0 1,0 3.1,0a1.55,1.55 0 1,0 -3.1,0M217.7,154.1a1.55,1.55 0 1,0 3.1,0a1.55,1.55 0 1,0 -3.1,0M216.1,155.5a1.55,1.55 0 1,0 3.1,0a1.55,1.55 0 1,0 -3.1,0M216.9,156.4a1.55,1.55 0 1,0 3.1,0a1.55,1.55 0 1,0 -3.1,0M215.2,159.9a1.55,1.55 0 1,0 3.1,0a1.55,1.55 0 1,0 -3.1,0M215.4,161.0a1.55,1.55 0 1,0 3.1,0a1.55,1.55 0 1,0 -3.1,0M215.2,161.8a1.55,1.55 0 1,0 3.1,0a1.55,1.55 0 1,0 -3.1,0M216.1,162.8a1.55,1.55 0 1,0 3.1,0a1.55,1.55 0 1,0 -3.1,0M215.0,163.6a1.55,1.55 0 1,0 3.1,0a1.55,1.55 0 1,0 -3.1,0M216.0,166.6a1.55,1.55 0 1,0 3.1,0a1.55,1.55 0 1,0 -3.1,0M214.6,168.9a1.55,1.55 0 1,0 3.1,0a1.55,1.55 0 1,0 -3.1,0M215.1,169.4a1.55,1.55 0 1,0 3.1,0a1.55,1.55 0 1,0 -3.1,0M215.4,170.5a1.55,1.55 0 1,0 3.1,0a1.55,1.55 0 1,0 -3.1,0M214.0,173.0a1.55,1.55 0 1,0 3.1,0a1.55,1.55 0 1,0 -3.1,0M213.6,174.4a1.55,1.55 0 1,0 3.1,0a1.55,1.55 0 1,0 -3.1,0M214.6,175.5a1.55,1.55 0 1,0 3.1,0a1.55,1.55 0 1,0 -3.1,0M215.2,176.4a1.55,1.55 0 1,0 3.1,0a1.55,1.55 0 1,0 -3.1,0M214.0,178.9a1.55,1.55 0 1,0 3.1,0a1.55,1.55 0 1,0 -3.1,0M214.2,179.5a1.55,1.55 0 1,0 3.1,0a1.55,1.55 0 1,0 -3.1,0M214.1,180.9a1.55,1.55 0 1,0 3.1,0a1.55,1.55 0 1,0 -3.1,0M213.1,181.5a1.55,1.55 0 1,0 3.1,0a1.55,1.55 0 1,0 -3.1,0M211.9,183.8a1.55,1.55 0 1,0 3.1,0a1.55,1.55 0 1,0 -3.1,0M213.2,184.5a1.55,1.55 0 1,0 3.1,0a1.55,1.55 0 1,0 -3.1,0M212.7,185.6a1.55,1.55 0 1,0 3.1,0a1.55,1.55 0 1,0 -3.1,0M211.6,186.2a1.55,1.55 0 1,0 3.1,0a1.55,1.55 0 1,0 -3.1,0M212.2,187.7a1.55,1.55 0 1,0 3.1,0a1.55,1.55 0 1,0 -3.1,0M212.5,189.3a1.55,1.55 0 1,0 3.1,0a1.55,1.55 0 1,0 -3.1,0M211.4,190.3a1.55,1.55 0 1,0 3.1,0a1.55,1.55 0 1,0 -3.1,0M212.8,192.4a1.55,1.55 0 1,0 3.1,0a1.55,1.55 0 1,0 -3.1,0M211.3,193.9a1.55,1.55 0 1,0 3.1,0a1.55,1.55 0 1,0 -3.1,0M212.1,194.9a1.55,1.55 0 1,0 3.1,0a1.55,1.55 0 1,0 -3.1,0M211.5,196.4a1.55,1.55 0 1,0 3.1,0a1.55,1.55 0 1,0 -3.1,0M211.9,198.2a1.55,1.55 0 1,0 3.1,0a1.55,1.55 0 1,0 -3.1,0M211.6,201.0a1.55,1.55 0 1,0 3.1,0a1.55,1.55 0 1,0 -3.1,0M211.5,201.1a1.55,1.55 0 1,0 3.1,0a1.55,1.55 0 1,0 -3.1,0M211.9,202.4a1.55,1.55 0 1,0 3.1,0a1.55,1.55 0 1,0 -3.1,0M211.7,206.4a1.55,1.55 0 1,0 3.1,0a1.55,1.55 0 1,0 -3.1,0M211.0,207.0a1.55,1.55 0 1,0 3.1,0a1.55,1.55 0 1,0 -3.1,0M211.4,208.6a1.55,1.55 0 1,0 3.1,0a1.55,1.55 0 1,0 -3.1,0M211.8,209.5a1.55,1.55 0 1,0 3.1,0a1.55,1.55 0 1,0 -3.1,0M211.1,210.8a1.55,1.55 0 1,0 3.1,0a1.55,1.55 0 1,0 -3.1,0M211.1,211.7a1.55,1.55 0 1,0 3.1,0a1.55,1.55 0 1,0 -3.1,0M212.4,212.6a1.55,1.55 0 1,0 3.1,0a1.55,1.55 0 1,0 -3.1,0M211.3,213.2a1.55,1.55 0 1,0 3.1,0a1.55,1.55 0 1,0 -3.1,0M212.1,216.0a1.55,1.55 0 1,0 3.1,0a1.55,1.55 0 1,0 -3.1,0M211.8,217.9a1.55,1.55 0 1,0 3.1,0a1.55,1.55 0 1,0 -3.1,0M211.8,220.5a1.55,1.55 0 1,0 3.1,0a1.55,1.55 0 1,0 -3.1,0M212.5,221.3a1.55,1.55 0 1,0 3.1,0a1.55,1.55 0 1,0 -3.1,0M210.2,227.5a1.55,1.55 0 1,0 3.1,0a1.55,1.55 0 1,0 -3.1,0M210.7,231.1a1.55,1.55 0 1,0 3.1,0a1.55,1.55 0 1,0 -3.1,0M209.9,231.9a1.55,1.55 0 1,0 3.1,0a1.55,1.55 0 1,0 -3.1,0M210.6,233.6a1.55,1.55 0 1,0 3.1,0a1.55,1.55 0 1,0 -3.1,0M211.1,235.1a1.55,1.55 0 1,0 3.1,0a1.55,1.55 0 1,0 -3.1,0M211.2,236.6a1.55,1.55 0 1,0 3.1,0a1.55,1.55 0 1,0 -3.1,0M211.5,237.4a1.55,1.55 0 1,0 3.1,0a1.55,1.55 0 1,0 -3.1,0M212.9,238.7a1.55,1.55 0 1,0 3.1,0a1.55,1.55 0 1,0 -3.1,0M212.2,239.6a1.55,1.55 0 1,0 3.1,0a1.55,1.55 0 1,0 -3.1,0M212.4,238.8a1.55,1.55 0 1,0 3.1,0a1.55,1.55 0 1,0 -3.1,0M212.5,237.6a1.55,1.55 0 1,0 3.1,0a1.55,1.55 0 1,0 -3.1,0M214.0,238.1a1.55,1.55 0 1,0 3.1,0a1.55,1.55 0 1,0 -3.1,0M214.3,235.9a1.55,1.55 0 1,0 3.1,0a1.55,1.55 0 1,0 -3.1,0M215.1,235.6a1.55,1.55 0 1,0 3.1,0a1.55,1.55 0 1,0 -3.1,0M215.6,235.1a1.55,1.55 0 1,0 3.1,0a1.55,1.55 0 1,0 -3.1,0M217.3,234.0a1.55,1.55 0 1,0 3.1,0a1.55,1.55 0 1,0 -3.1,0M216.5,232.7a1.55,1.55 0 1,0 3.1,0a1.55,1.55 0 1,0 -3.1,0M217.2,231.5a1.55,1.55 0 1,0 3.1,0a1.55,1.55 0 1,0 -3.1,0M217.4,230.3a1.55,1.55 0 1,0 3.1,0a1.55,1.55 0 1,0 -3.1,0M219.8,228.8a1.55,1.55 0 1,0 3.1,0a1.55,1.55 0 1,0 -3.1,0M220.4,226.6a1.55,1.55 0 1,0 3.1,0a1.55,1.55 0 1,0 -3.1,0M220.8,223.7a1.55,1.55 0 1,0 3.1,0a1.55,1.55 0 1,0 -3.1,0M221.2,221.5a1.55,1.55 0 1,0 3.1,0a1.55,1.55 0 1,0 -3.1,0M221.7,220.2a1.55,1.55 0 1,0 3.1,0a1.55,1.55 0 1,0 -3.1,0M222.3,219.4a1.55,1.55 0 1,0 3.1,0a1.55,1.55 0 1,0 -3.1,0M221.9,217.1a1.55,1.55 0 1,0 3.1,0a1.55,1.55 0 1,0 -3.1,0M224.0,216.2a1.55,1.55 0 1,0 3.1,0a1.55,1.55 0 1,0 -3.1,0M224.0,215.3a1.55,1.55 0 1,0 3.1,0a1.55,1.55 0 1,0 -3.1,0M224.6,213.3a1.55,1.55 0 1,0 3.1,0a1.55,1.55 0 1,0 -3.1,0M225.8,212.5a1.55,1.55 0 1,0 3.1,0a1.55,1.55 0 1,0 -3.1,0M226.2,211.3a1.55,1.55 0 1,0 3.1,0a1.55,1.55 0 1,0 -3.1,0M226.7,210.6a1.55,1.55 0 1,0 3.1,0a1.55,1.55 0 1,0 -3.1,0M227.6,209.5a1.55,1.55 0 1,0 3.1,0a1.55,1.55 0 1,0 -3.1,0M228.3,205.9a1.55,1.55 0 1,0 3.1,0a1.55,1.55 0 1,0 -3.1,0M228.4,205.5a1.55,1.55 0 1,0 3.1,0a1.55,1.55 0 1,0 -3.1,0M230.0,203.0a1.55,1.55 0 1,0 3.1,0a1.55,1.55 0 1,0 -3.1,0M229.3,202.4a1.55,1.55 0 1,0 3.1,0a1.55,1.55 0 1,0 -3.1,0M231.5,200.5a1.55,1.55 0 1,0 3.1,0a1.55,1.55 0 1,0 -3.1,0M231.9,199.8a1.55,1.55 0 1,0 3.1,0a1.55,1.55 0 1,0 -3.1,0M231.5,197.8a1.55,1.55 0 1,0 3.1,0a1.55,1.55 0 1,0 -3.1,0M231.8,197.7a1.55,1.55 0 1,0 3.1,0a1.55,1.55 0 1,0 -3.1,0M232.7,196.3a1.55,1.55 0 1,0 3.1,0a1.55,1.55 0 1,0 -3.1,0M235.4,192.9a1.55,1.55 0 1,0 3.1,0a1.55,1.55 0 1,0 -3.1,0M236.3,192.3a1.55,1.55 0 1,0 3.1,0a1.55,1.55 0 1,0 -3.1,0M238.8,192.2a1.55,1.55 0 1,0 3.1,0a1.55,1.55 0 1,0 -3.1,0M239.8,188.5a1.55,1.55 0 1,0 3.1,0a1.55,1.55 0 1,0 -3.1,0M241.3,187.4a1.55,1.55 0 1,0 3.1,0a1.55,1.55 0 1,0 -3.1,0M242.5,184.5a1.55,1.55 0 1,0 3.1,0a1.55,1.55 0 1,0 -3.1,0M242.4,182.9a1.55,1.55 0 1,0 3.1,0a1.55,1.55 0 1,0 -3.1,0M244.5,178.0a1.55,1.55 0 1,0 3.1,0a1.55,1.55 0 1,0 -3.1,0M245.6,176.7a1.55,1.55 0 1,0 3.1,0a1.55,1.55 0 1,0 -3.1,0M246.3,176.6a1.55,1.55 0 1,0 3.1,0a1.55,1.55 0 1,0 -3.1,0M246.9,175.9a1.55,1.55 0 1,0 3.1,0a1.55,1.55 0 1,0 -3.1,0M246.3,173.6a1.55,1.55 0 1,0 3.1,0a1.55,1.55 0 1,0 -3.1,0M247.8,172.0a1.55,1.55 0 1,0 3.1,0a1.55,1.55 0 1,0 -3.1,0M247.6,170.9a1.55,1.55 0 1,0 3.1,0a1.55,1.55 0 1,0 -3.1,0M247.6,170.1a1.55,1.55 0 1,0 3.1,0a1.55,1.55 0 1,0 -3.1,0M249.0,165.7a1.55,1.55 0 1,0 3.1,0a1.55,1.55 0 1,0 -3.1,0M250.9,164.8a1.55,1.55 0 1,0 3.1,0a1.55,1.55 0 1,0 -3.1,0M251.5,164.0a1.55,1.55 0 1,0 3.1,0a1.55,1.55 0 1,0 -3.1,0M251.2,161.0a1.55,1.55 0 1,0 3.1,0a1.55,1.55 0 1,0 -3.1,0M251.4,160.0a1.55,1.55 0 1,0 3.1,0a1.55,1.55 0 1,0 -3.1,0M251.7,157.7a1.55,1.55 0 1,0 3.1,0a1.55,1.55 0 1,0 -3.1,0M253.4,157.1a1.55,1.55 0 1,0 3.1,0a1.55,1.55 0 1,0 -3.1,0M252.2,156.1a1.55,1.55 0 1,0 3.1,0a1.55,1.55 0 1,0 -3.1,0M252.8,155.3a1.55,1.55 0 1,0 3.1,0a1.55,1.55 0 1,0 -3.1,0M254.3,153.0a1.55,1.55 0 1,0 3.1,0a1.55,1.55 0 1,0 -3.1,0M255.3,150.6a1.55,1.55 0 1,0 3.1,0a1.55,1.55 0 1,0 -3.1,0M256.6,148.6a1.55,1.55 0 1,0 3.1,0a1.55,1.55 0 1,0 -3.1,0M256.6,147.7a1.55,1.55 0 1,0 3.1,0a1.55,1.55 0 1,0 -3.1,0M257.1,147.0a1.55,1.55 0 1,0 3.1,0a1.55,1.55 0 1,0 -3.1,0M258.7,145.3a1.55,1.55 0 1,0 3.1,0a1.55,1.55 0 1,0 -3.1,0M259.3,144.2a1.55,1.55 0 1,0 3.1,0a1.55,1.55 0 1,0 -3.1,0M259.2,142.6a1.55,1.55 0 1,0 3.1,0a1.55,1.55 0 1,0 -3.1,0M260.1,141.9a1.55,1.55 0 1,0 3.1,0a1.55,1.55 0 1,0 -3.1,0M261.0,142.0a1.55,1.55 0 1,0 3.1,0a1.55,1.55 0 1,0 -3.1,0M261.0,141.1a1.55,1.55 0 1,0 3.1,0a1.55,1.55 0 1,0 -3.1,0M261.5,138.9a1.55,1.55 0 1,0 3.1,0a1.55,1.55 0 1,0 -3.1,0M263.5,137.1a1.55,1.55 0 1,0 3.1,0a1.55,1.55 0 1,0 -3.1,0M263.9,136.1a1.55,1.55 0 1,0 3.1,0a1.55,1.55 0 1,0 -3.1,0M263.3,133.8a1.55,1.55 0 1,0 3.1,0a1.55,1.55 0 1,0 -3.1,0M264.2,133.7a1.55,1.55 0 1,0 3.1,0a1.55,1.55 0 1,0 -3.1,0M264.5,131.9a1.55,1.55 0 1,0 3.1,0a1.55,1.55 0 1,0 -3.1,0M265.1,129.7a1.55,1.55 0 1,0 3.1,0a1.55,1.55 0 1,0 -3.1,0M265.1,128.2a1.55,1.55 0 1,0 3.1,0a1.55,1.55 0 1,0 -3.1,0M265.9,127.6a1.55,1.55 0 1,0 3.1,0a1.55,1.55 0 1,0 -3.1,0M265.8,125.2a1.55,1.55 0 1,0 3.1,0a1.55,1.55 0 1,0 -3.1,0M266.6,124.0a1.55,1.55 0 1,0 3.1,0a1.55,1.55 0 1,0 -3.1,0M268.5,121.8a1.55,1.55 0 1,0 3.1,0a1.55,1.55 0 1,0 -3.1,0M268.5,121.5a1.55,1.55 0 1,0 3.1,0a1.55,1.55 0 1,0 -3.1,0M268.8,119.8a1.55,1.55 0 1,0 3.1,0a1.55,1.55 0 1,0 -3.1,0M269.8,118.3a1.55,1.55 0 1,0 3.1,0a1.55,1.55 0 1,0 -3.1,0M269.3,116.5a1.55,1.55 0 1,0 3.1,0a1.55,1.55 0 1,0 -3.1,0M270.2,115.8a1.55,1.55 0 1,0 3.1,0a1.55,1.55 0 1,0 -3.1,0M269.8,114.0a1.55,1.55 0 1,0 3.1,0a1.55,1.55 0 1,0 -3.1,0M270.9,113.8a1.55,1.55 0 1,0 3.1,0a1.55,1.55 0 1,0 -3.1,0M271.5,112.6a1.55,1.55 0 1,0 3.1,0a1.55,1.55 0 1,0 -3.1,0M271.7,110.7a1.55,1.55 0 1,0 3.1,0a1.55,1.55 0 1,0 -3.1,0M272.1,109.1a1.55,1.55 0 1,0 3.1,0a1.55,1.55 0 1,0 -3.1,0M272.6,107.5a1.55,1.55 0 1,0 3.1,0a1.55,1.55 0 1,0 -3.1,0M273.3,106.2a1.55,1.55 0 1,0 3.1,0a1.55,1.55 0 1,0 -3.1,0M273.3,105.1a1.55,1.55 0 1,0 3.1,0a1.55,1.55 0 1,0 -3.1,0M273.0,103.5a1.55,1.55 0 1,0 3.1,0a1.55,1.55 0 1,0 -3.1,0M273.2,101.0a1.55,1.55 0 1,0 3.1,0a1.55,1.55 0 1,0 -3.1,0M274.1,98.9a1.55,1.55 0 1,0 3.1,0a1.55,1.55 0 1,0 -3.1,0M274.6,96.9a1.55,1.55 0 1,0 3.1,0a1.55,1.55 0 1,0 -3.1,0M274.0,94.0a1.55,1.55 0 1,0 3.1,0a1.55,1.55 0 1,0 -3.1,0M274.6,93.6a1.55,1.55 0 1,0 3.1,0a1.55,1.55 0 1,0 -3.1,0M274.5,91.9a1.55,1.55 0 1,0 3.1,0a1.55,1.55 0 1,0 -3.1,0M275.5,90.7a1.55,1.55 0 1,0 3.1,0a1.55,1.55 0 1,0 -3.1,0M276.4,88.8a1.55,1.55 0 1,0 3.1,0a1.55,1.55 0 1,0 -3.1,0M276.7,87.4a1.55,1.55 0 1,0 3.1,0a1.55,1.55 0 1,0 -3.1,0M276.4,86.3a1.55,1.55 0 1,0 3.1,0a1.55,1.55 0 1,0 -3.1,0M278.1,84.5a1.55,1.55 0 1,0 3.1,0a1.55,1.55 0 1,0 -3.1,0M278.1,83.4a1.55,1.55 0 1,0 3.1,0a1.55,1.55 0 1,0 -3.1,0M277.7,82.3a1.55,1.55 0 1,0 3.1,0a1.55,1.55 0 1,0 -3.1,0M277.9,76.8a1.55,1.55 0 1,0 3.1,0a1.55,1.55 0 1,0 -3.1,0M279.3,76.5a1.55,1.55 0 1,0 3.1,0a1.55,1.55 0 1,0 -3.1,0M279.5,75.0a1.55,1.55 0 1,0 3.1,0a1.55,1.55 0 1,0 -3.1,0M280.3,73.4a1.55,1.55 0 1,0 3.1,0a1.55,1.55 0 1,0 -3.1,0M279.4,72.7a1.55,1.55 0 1,0 3.1,0a1.55,1.55 0 1,0 -3.1,0M280.9,70.7a1.55,1.55 0 1,0 3.1,0a1.55,1.55 0 1,0 -3.1,0M280.3,68.9a1.55,1.55 0 1,0 3.1,0a1.55,1.55 0 1,0 -3.1,0M279.7,67.4a1.55,1.55 0 1,0 3.1,0a1.55,1.55 0 1,0 -3.1,0M280.3,66.0a1.55,1.55 0 1,0 3.1,0a1.55,1.55 0 1,0 -3.1,0M279.5,64.6a1.55,1.55 0 1,0 3.1,0a1.55,1.55 0 1,0 -3.1,0M280.3,64.6a1.55,1.55 0 1,0 3.1,0a1.55,1.55 0 1,0 -3.1,0M279.1,65.7a1.55,1.55 0 1,0 3.1,0a1.55,1.55 0 1,0 -3.1,0M277.0,65.6a1.55,1.55 0 1,0 3.1,0a1.55,1.55 0 1,0 -3.1,0" fill="#00ffff"/>
<path d="M150.0,74.3 C149.4,74.4 149.2,74.0 148.5,75.0 C147.8,76.0 146.5,78.3 146.0,80.0 C145.5,81.7 145.6,83.3 145.5,85.0 C145.4,86.7 145.2,88.3 145.5,90.0 C145.8,91.7 146.5,93.3 147.0,95.0 C147.5,96.7 148.0,98.5 148.5,100.0 C149.0,101.5 149.6,102.7 150.0,104.0 C150.4,105.3 150.2,105.7 151.0,108.0 C151.8,110.3 153.7,115.2 154.7,118.0 C155.7,120.8 156.4,122.7 157.0,125.0 C157.6,127.3 157.6,129.5 158.5,132.0 C159.4,134.5 161.4,137.3 162.7,140.0 C164.0,142.7 165.2,145.3 166.3,148.0 C167.4,150.7 168.3,153.3 169.1,156.0 C169.9,158.7 170.2,161.3 171.3,164.0 C172.4,166.7 174.2,169.5 175.5,172.0 C176.8,174.5 177.4,176.7 179.0,179.0 C180.6,181.3 183.0,183.8 185.0,186.0 C187.0,188.2 189.6,189.8 191.0,192.0 C192.4,194.2 192.7,196.5 193.4,199.0 C194.1,201.5 193.9,204.5 195.1,207.0 C196.3,209.5 199.6,211.5 200.8,214.0 C202.0,216.5 201.8,220.0 202.3,222.0 C202.8,224.0 203.3,225.3 204.0,226.0 C204.7,226.7 206.0,226.7 206.5,226.0 C207.0,225.3 207.0,224.0 207.2,222.0 C207.4,220.0 207.5,216.5 207.7,214.0 C207.9,211.5 208.3,209.5 208.3,207.0 C208.3,204.5 207.9,201.5 207.8,199.0 C207.8,196.5 208.0,194.2 208.0,192.0 C208.0,189.8 207.9,188.2 207.7,186.0 C207.5,183.8 207.1,181.3 206.8,179.0 C206.5,176.7 206.4,174.5 206.0,172.0 C205.6,169.5 205.0,166.7 204.3,164.0 C203.6,161.3 203.0,158.7 202.0,156.0 C201.0,153.3 199.6,150.7 198.5,148.0 C197.4,145.3 196.7,142.7 195.5,140.0 C194.3,137.3 192.8,134.5 191.5,132.0 C190.2,129.5 189.2,127.3 188.0,125.0 C186.8,122.7 186.1,120.8 184.5,118.0 C182.9,115.2 179.5,110.3 178.2,108.0 C176.9,105.7 177.7,105.3 176.8,104.0 C176.0,102.7 174.5,101.5 173.1,100.0 C171.7,98.5 169.8,96.7 168.5,95.0 C167.2,93.3 166.6,91.7 165.5,90.0 C164.4,88.3 163.2,86.7 162.0,85.0 C160.8,83.3 159.4,81.7 158.0,80.0 C156.6,78.3 154.5,76.0 153.5,75.0 C152.5,74.0 152.6,74.4 152.0,74.3 C151.4,74.2 150.6,74.2 150.0,74.3 Z" fill="#008000"/>
<path d="M267.0,78.0 C266.1,78.3 265.4,78.8 264.5,80.0 C263.6,81.2 263.0,83.3 261.7,85.0 C260.4,86.7 258.1,88.3 256.6,90.0 C255.2,91.7 254.0,93.3 253.0,95.0 C252.0,96.7 252.4,97.8 250.7,100.0 C249.0,102.2 244.7,105.5 242.7,108.0 C240.7,110.5 240.2,112.7 238.9,115.0 C237.6,117.3 235.6,120.2 234.7,122.0 C233.8,123.8 234.1,124.2 233.2,126.0 C232.2,127.8 230.5,130.7 229.0,133.0 C227.5,135.3 225.5,137.8 224.4,140.0 C223.3,142.2 223.2,144.0 222.7,146.0 C222.2,148.0 221.8,149.8 221.4,152.0 C221.0,154.2 220.9,156.8 220.1,159.0 C219.3,161.2 217.2,162.8 216.5,165.0 C215.8,167.2 215.8,169.7 215.6,172.0 C215.4,174.3 216.0,176.8 215.6,179.0 C215.2,181.2 213.5,182.8 213.0,185.0 C212.5,187.2 212.8,190.2 212.7,192.0 C212.6,193.8 212.5,194.0 212.3,196.0 C212.2,198.0 211.8,201.3 211.8,204.0 C211.8,206.7 212.3,209.5 212.5,212.0 C212.7,214.5 212.9,217.2 213.1,219.0 C213.3,220.8 213.3,221.8 213.5,223.0 C213.7,224.2 214.1,225.5 214.5,226.0 C214.9,226.5 215.6,226.5 216.0,226.0 C216.4,225.5 216.8,224.2 217.2,223.0 C217.6,221.8 217.8,220.8 218.5,219.0 C219.2,217.2 220.2,214.5 221.7,212.0 C223.2,209.5 226.0,206.7 227.3,204.0 C228.6,201.3 228.8,198.0 229.6,196.0 C230.4,194.0 231.1,193.8 232.0,192.0 C232.9,190.2 234.2,187.2 235.0,185.0 C235.8,182.8 236.0,181.2 237.0,179.0 C238.0,176.8 239.2,174.3 241.0,172.0 C242.8,169.7 246.2,167.2 247.5,165.0 C248.8,162.8 248.2,161.2 249.0,159.0 C249.8,156.8 251.4,154.2 252.5,152.0 C253.6,149.8 254.5,148.0 255.5,146.0 C256.5,144.0 257.4,142.2 258.4,140.0 C259.4,137.8 260.7,135.3 261.5,133.0 C262.3,130.7 262.2,127.8 263.0,126.0 C263.8,124.2 265.1,123.8 266.0,122.0 C266.9,120.2 267.9,117.3 268.5,115.0 C269.1,112.7 269.4,110.5 269.6,108.0 C269.9,105.5 269.8,102.2 270.0,100.0 C270.2,97.8 270.7,96.7 271.0,95.0 C271.3,93.3 271.5,91.7 271.8,90.0 C272.1,88.3 273.0,86.7 273.0,85.0 C273.0,83.3 272.5,81.2 272.0,80.0 C271.5,78.8 270.8,78.3 270.0,78.0 C269.2,77.7 267.9,77.7 267.0,78.0 Z" fill="#008000"/>
<path d="M148.5,75.1a1.55,1.55 0 1,0 3.1,0a1.55,1.55 0 1,0 -3.1,0M147.4,77.5a1.55,1.55 0 1,0 3.1,0a1.55,1.55 0 1,0 -3.1,0M146.9,77.5a1.55,1.55 0 1,0 3.1,0a1.55,1.55 0 1,0 -3.1,0M145.4,80.1a1.55,1.55 0 1,0 3.1,0a1.55,1.55 0 1,0 -3.1,0M146.2,81.6a1.55,1.55 0 1,0 3.1,0a1.55,1.55 0 1,0 -3.1,0M144.4,82.5a1.55,1.55 0 1,0 3.1,0a1.55,1.55 0 1,0 -3.1,0M145.5,84.4a1.55,1.55 0 1,0 3.1,0a1.55,1.55 0 1,0 -3.1,0M144.7,85.9a1.55,1.55 0 1,0 3.1,0a1.55,1.55 0 1,0 -3.1,0M145.8,87.9a1.55,1.55 0 1,0 3.1,0a1.55,1.55 0 1,0 -3.1,0M144.6,88.8a1.55,1.55 0 1,0 3.1,0a1.55,1.55 0 1,0 -3.1,0M144.3,90.1a1.55,1.55 0 1,0 3.1,0a1.55,1.55 0 1,0 -3.1,0M146.2,90.9a1.55,1.55 0 1,0 3.1,0a1.55,1.55 0 1,0 -3.1,0M145.1,92.7a1.55,1.55 0 1,0 3.1,0a1.55,1.55 0 1,0 -3.1,0M146.6,93.8a1.55,1.55 0 1,0 3.1,0a1.55,1.55 0 1,0 -3.1,0M146.5,94.7a1.55,1.55 0 1,0 3.1,0a1.55,1.55 0 1,0 -3.1,0M146.1,96.5a1.55,1.55 0 1,0 3.1,0a1.55,1.55 0 1,0 -3.1,0M147.7,97.1a1.55,1.55 0 1,0 3.1,0a1.55,1.55 0 1,0 -3.1,0M147.3,97.9a1.55,1.55 0 1,0 3.1,0a1.55,1.55 0 1,0 -3.1,0M149.9,104.1a1.55,1.55 0 1,0 3.1,0a1.55,1.55 0 1,0 -3.1,0M149.9,104.8a1.55,1.55 0 1,0 3.1,0a1.55,1.55 0 1,0 -3.1,0M150.9,106.1a1.55,1.55 0 1,0 3.1,0a1.55,1.55 0 1,0 -3.1,0M151.1,109.3a1.55,1.55 0 1,0 3.1,0a1.55,1.55 0 1,0 -3.1,0M151.4,111.0a1.55,1.55 0 1,0 3.1,0a1.55,1.55 0 1,0 -3.1,0M151.3,112.1a1.55,1.55 0 1,0 3.1,0a1.55,1.55 0 1,0 -3.1,0M153.1,115.0a1.55,1.55 0 1,0 3.1,0a1.55,1.55 0 1,0 -3.1,0M153.9,116.1a1.55,1.55 0 1,0 3.1,0a1.55,1.55 0 1,0 -3.1,0M155.0,121.4a1.55,1.55 0 1,0 3.1,0a1.55,1.55 0 1,0 -3.1,0M155.0,123.0a1.55,1.55 0 1,0 3.1,0a1.55,1.55 0 1,0 -3.1,0M156.8,125.1a1.55,1.55 0 1,0 3.1,0a1.55,1.55 0 1,0 -3.1,0M157.5,127.2a1.55,1.55 0 1,0 3.1,0a1.55,1.55 0 1,0 -3.1,0M158.0,128.2a1.55,1.55 0 1,0 3.1,0a1.55,1.55 0 1,0 -3.1,0M157.8,132.4a1.55,1.55 0 1,0 3.1,0a1.55,1.55 0 1,0 -3.1,0M159.2,134.1a1.55,1.55 0 1,0 3.1,0a1.55,1.55 0 1,0 -3.1,0M160.1,134.8a1.55,1.55 0 1,0 3.1,0a1.55,1.55 0 1,0 -3.1,0M160.3,135.5a1.55,1.55 0 1,0 3.1,0a1.55,1.55 0 1,0 -3.1,0M161.4,137.1a1.55,1.55 0 1,0 3.1,0a1.55,1.55 0 1,0 -3.1,0M163.4,142.4a1.55,1.55 0 1,0 3.1,0a1.55,1.55 0 1,0 -3.1,0M164.8,145.5a1.55,1.55 0 1,0 3.1,0a1.55,1.55 0 1,0 -3.1,0M165.8,145.6a1.55,1.55 0 1,0 3.1,0a1.55,1.55 0 1,0 -3.1,0M164.8,146.8a1.55,1.55 0 1,0 3.1,0a1.55,1.55 0 1,0 -3.1,0M166.2,149.2a1.55,1.55 0 1,0 3.1,0a1.55,1.55 0 1,0 -3.1,0M167.0,150.3a1.55,1.55 0 1,0 3.1,0a1.55,1.55 0 1,0 -3.1,0M166.4,151.0a1.55,1.55 0 1,0 3.1,0a1.55,1.55 0 1,0 -3.1,0M167.3,153.5a1.55,1.55 0 1,0 3.1,0a1.55,1.55 0 1,0 -3.1,0M168.4,158.5a1.55,1.55 0 1,0 3.1,0a1.55,1.55 0 1,0 -3.1,0M169.1,159.6a1.55,1.55 0 1,0 3.1,0a1.55,1.55 0 1,0 -3.1,0M170.0,161.7a1.55,1.55 0 1,0 3.1,0a1.55,1.55 0 1,0 -3.1,0M169.8,161.9a1.55,1.55 0 1,0 3.1,0a1.55,1.55 0 1,0 -3.1,0M170.8,162.8a1.55,1.55 0 1,0 3.1,0a1.55,1.55 0 1,0 -3.1,0M170.4,164.3a1.55,1.55 0 1,0 3.1,0a1.55,1.55 0 1,0 -3.1,0M171.5,166.0a1.55,1.55 0 1,0 3.1,0a1.55,1.55 0 1,0 -3.1,0M172.0,167.3a1.55,1.55 0 1,0 3.1,0a1.55,1.55 0 1,0 -3.1,0M174.9,172.0a1.55,1.55 0 1,0 3.1,0a1.55,1.55 0 1,0 -3.1,0M176.2,173.2a1.55,1.55 0 1,0 3.1,0a1.55,1.55 0 1,0 -3.1,0M175.5,174.1a1.55,1.55 0 1,0 3.1,0a1.55,1.55 0 1,0 -3.1,0M178.5,178.4a1.55,1.55 0 1,0 3.1,0a1.55,1.55 0 1,0 -3.1,0M181.7,181.7a1.55,1.55 0 1,0 3.1,0a1.55,1.55 0 1,0 -3.1,0M181.4,182.8a1.55,1.55 0 1,0 3.1,0a1.55,1.55 0 1,0 -3.1,0M182.5,182.9a1.55,1.55 0 1,0 3.1,0a1.55,1.55 0 1,0 -3.1,0M183.3,184.2a1.55,1.55 0 1,0 3.1,0a1.55,1.55 0 1,0 -3.1,0M184.3,186.0a1.55,1.55 0 1,0 3.1,0a1.55,1.55 0 1,0 -3.1,0M186.8,187.2a1.55,1.55 0 1,0 3.1,0a1.55,1.55 0 1,0 -3.1,0M188.0,190.3a1.55,1.55 0 1,0 3.1,0a1.55,1.55 0 1,0 -3.1,0M189.0,189.6a1.55,1.55 0 1,0 3.1,0a1.55,1.55 0 1,0 -3.1,0M190.9,192.0a1.55,1.55 0 1,0 3.1,0a1.55,1.55 0 1,0 -3.1,0M191.8,193.8a1.55,1.55 0 1,0 3.1,0a1.55,1.55 0 1,0 -3.1,0M191.3,195.9a1.55,1.55 0 1,0 3.1,0a1.55,1.55 0 1,0 -3.1,0M192.5,197.5a1.55,1.55 0 1,0 3.1,0a1.55,1.55 0 1,0 -3.1,0M192.0,197.9a1.55,1.55 0 1,0 3.1,0a1.55,1.55 0 1,0 -3.1,0M193.2,199.3a1.55,1.55 0 1,0 3.1,0a1.55,1.55 0 1,0 -3.1,0M193.8,200.6a1.55,1.55 0 1,0 3.1,0a1.55,1.55 0 1,0 -3.1,0M193.1,201.6a1.55,1.55 0 1,0 3.1,0a1.55,1.55 0 1,0 -3.1,0M194.4,202.5a1.55,1.55 0 1,0 3.1,0a1.55,1.55 0 1,0 -3.1,0M193.9,203.1a1.55,1.55 0 1,0 3.1,0a1.55,1.55 0 1,0 -3.1,0M194.5,205.6a1.55,1.55 0 1,0 3.1,0a1.55,1.55 0 1,0 -3.1,0M195.7,207.7a1.55,1.55 0 1,0 3.1,0a1.55,1.55 0 1,0 -3.1,0M196.3,207.6a1.55,1.55 0 1,0 3.1,0a1.55,1.55 0 1,0 -3.1,0M196.3,209.1a1.55,1.55 0 1,0 3.1,0a1.55,1.55 0 1,0 -3.1,0M197.4,210.0a1.55,1.55 0 1,0 3.1,0a1.55,1.55 0 1,0 -3.1,0M197.7,210.8a1.55,1.55 0 1,0 3.1,0a1.55,1.55 0 1,0 -3.1,0M198.5,211.9a1.55,1.55 0 1,0 3.1,0a1.55,1.55 0 1,0 -3.1,0M199.9,212.8a1.55,1.55 0 1,0 3.1,0a1.55,1.55 0 1,0 -3.1,0M200.9,213.9a1.55,1.55 0 1,0 3.1,0a1.55,1.55 0 1,0 -3.1,0M200.0,217.2a1.55,1.55 0 1,0 3.1,0a1.55,1.55 0 1,0 -3.1,0M201.3,219.6a1.55,1.55 0 1,0 3.1,0a1.55,1.55 0 1,0 -3.1,0M201.9,221.1a1.55,1.55 0 1,0 3.1,0a1.55,1.55 0 1,0 -3.1,0M202.3,222.7a1.55,1.55 0 1,0 3.1,0a1.55,1.55 0 1,0 -3.1,0M203.6,224.1a1.55,1.55 0 1,0 3.1,0a1.55,1.55 0 1,0 -3.1,0M203.8,225.4a1.55,1.55 0 1,0 3.1,0a1.55,1.55 0 1,0 -3.1,0M203.7,225.0a1.55,1.55 0 1,0 3.1,0a1.55,1.55 0 1,0 -3.1,0M204.1,225.0a1.55,1.55 0 1,0 3.1,0a1.55,1.55 0 1,0 -3.1,0M204.4,224.9a1.55,1.55 0 1,0 3.1,0a1.55,1.55 0 1,0 -3.1,0M205.1,224.5a1.55,1.55 0 1,0 3.1,0a1.55,1.55 0 1,0 -3.1,0M203.4,223.3a1.55,1.55 0 1,0 3.1,0a1.55,1.55 0 1,0 -3.1,0M205.0,222.0a1.55,1.55 0 1,0 3.1,0a1.55,1.55 0 1,0 -3.1,0M204.5,221.1a1.55,1.55 0 1,0 3.1,0a1.55,1.55 0 1,0 -3.1,0M204.2,220.2a1.55,1.55 0 1,0 3.1,0a1.55,1.55 0 1,0 -3.1,0M205.0,217.8a1.55,1.55 0 1,0 3.1,0a1.55,1.55 0 1,0 -3.1,0M204.2,216.6a1.55,1.55 0 1,0 3.1,0a1.55,1.55 0 1,0 -3.1,0M206.0,214.4a1.55,1.55 0 1,0 3.1,0a1.55,1.55 0 1,0 -3.1,0M204.6,211.0a1.55,1.55 0 1,0 3.1,0a1.55,1.55 0 1,0 -3.1,0M205.8,209.9a1.55,1.55 0 1,0 3.1,0a1.55,1.55 0 1,0 -3.1,0M205.9,208.9a1.55,1.55 0 1,0 3.1,0a1.55,1.55 0 1,0 -3.1,0M204.9,207.3a1.55,1.55 0 1,0 3.1,0a1.55,1.55 0 1,0 -3.1,0M205.5,205.5a1.55,1.55 0 1,0 3.1,0a1.55,1.55 0 1,0 -3.1,0M205.8,202.4a1.55,1.55 0 1,0 3.1,0a1.55,1.55 0 1,0 -3.1,0M205.3,201.5a1.55,1.55 0 1,0 3.1,0a1.55,1.55 0 1,0 -3.1,0M204.8,200.9a1.55,1.55 0 1,0 3.1,0a1.55,1.55 0 1,0 -3.1,0M204.8,199.3a1.55,1.55 0 1,0 3.1,0a1.55,1.55 0 1,0 -3.1,0M205.9,198.0a1.55,1.55 0 1,0 3.1,0a1.55,1.55 0 1,0 -3.1,0M205.4,197.2a1.55,1.55 0 1,0 3.1,0a1.55,1.55 0 1,0 -3.1,0M206.2,194.6a1.55,1.55 0 1,0 3.1,0a1.55,1.55 0 1,0 -3.1,0M206.0,191.2a1.55,1.55 0 1,0 3.1,0a1.55,1.55 0 1,0 -3.1,0M205.1,189.8a1.55,1.55 0 1,0 3.1,0a1.55,1.55 0 1,0 -3.1,0M206.0,187.5a1.55,1.55 0 1,0 3.1,0a1.55,1.55 0 1,0 -3.1,0M205.6,183.6a1.55,1.55 0 1,0 3.1,0a1.55,1.55 0 1,0 -3.1,0M205.2,182.2a1.55,1.55 0 1,0 3.1,0a1.55,1.55 0 1,0 -3.1,0M204.6,182.0a1.55,1.55 0 1,0 3.1,0a1.55,1.55 0 1,0 -3.1,0M203.6,180.7a1.55,1.55 0 1,0 3.1,0a1.55,1.55 0 1,0 -3.1,0M203.6,177.8a1.55,1.55 0 1,0 3.1,0a1.55,1.55 0 1,0 -3.1,0M202.8,175.3a1.55,1.55 0 1,0 3.1,0a1.55,1.55 0 1,0 -3.1,0M204.5,174.1a1.55,1.55 0 1,0 3.1,0a1.55,1.55 0 1,0 -3.1,0M203.2,173.6a1.55,1.55 0 1,0 3.1,0a1.55,1.55 0 1,0 -3.1,0M204.2,172.7a1.55,1.55 0 1,0 3.1,0a1.55,1.55 0 1,0 -3.1,0M203.4,170.4a1.55,1.55 0 1,0 3.1,0a1.55,1.55 0 1,0 -3.1,0M202.0,169.7a1.55,1.55 0 1,0 3.1,0a1.55,1.55 0 1,0 -3.1,0M202.9,168.5a1.55,1.55 0 1,0 3.1,0a1.55,1.55 0 1,0 -3.1,0M201.6,168.0a1.55,1.55 0 1,0 3.1,0a1.55,1.55 0 1,0 -3.1,0M201.2,166.0a1.55,1.55 0 1,0 3.1,0a1.55,1.55 0 1,0 -3.1,0M201.1,165.2a1.55,1.55 0 1,0 3.1,0a1.55,1.55 0 1,0 -3.1,0M201.9,164.1a1.55,1.55 0 1,0 3.1,0a1.55,1.55 0 1,0 -3.1,0M201.1,162.1a1.55,1.55 0 1,0 3.1,0a1.55,1.55 0 1,0 -3.1,0M200.9,161.0a1.55,1.55 0 1,0 3.1,0a1.55,1.55 0 1,0 -3.1,0M200.7,159.9a1.55,1.55 0 1,0 3.1,0a1.55,1.55 0 1,0 -3.1,0M201.0,158.7a1.55,1.55 0 1,0 3.1,0a1.55,1.55 0 1,0 -3.1,0M200.0,157.8a1.55,1.55 0 1,0 3.1,0a1.55,1.55 0 1,0 -3.1,0M199.3,156.3a1.55,1.55 0 1,0 3.1,0a1.55,1.55 0 1,0 -3.1,0M199.5,155.8a1.55,1.55 0 1,0 3.1,0a1.55,1.55 0 1,0 -3.1,0M197.5,151.6a1.55,1.55 0 1,0 3.1,0a1.55,1.55 0 1,0 -3.1,0M196.7,151.1a1.55,1.55 0 1,0 3.1,0a1.55,1.55 0 1,0 -3.1,0M197.5,149.5a1.55,1.55 0 1,0 3.1,0a1.55,1.55 0 1,0 -3.1,0M196.7,148.9a1.55,1.55 0 1,0 3.1,0a1.55,1.55 0 1,0 -3.1,0M196.1,148.1a1.55,1.55 0 1,0 3.1,0a1.55,1.55 0 1,0 -3.1,0M195.9,147.0a1.55,1.55 0 1,0 3.1,0a1.55,1.55 0 1,0 -3.1,0M194.8,146.4a1.55,1.55 0 1,0 3.1,0a1.55,1.55 0 1,0 -3.1,0M193.9,145.4a1.55,1.55 0 1,0 3.1,0a1.55,1.55 0 1,0 -3.1,0M195.2,144.1a1.55,1.55 0 1,0 3.1,0a1.55,1.55 0 1,0 -3.1,0M193.8,143.0a1.55,1.55 0 1,0 3.1,0a1.55,1.55 0 1,0 -3.1,0M194.1,141.0a1.55,1.55 0 1,0 3.1,0a1.55,1.55 0 1,0 -3.1,0M193.4,139.3a1.55,1.55 0 1,0 3.1,0a1.55,1.55 0 1,0 -3.1,0M192.4,138.9a1.55,1.55 0 1,0 3.1,0a1.55,1.55 0 1,0 -3.1,0M191.0,138.2a1.55,1.55 0 1,0 3.1,0a1.55,1.55 0 1,0 -3.1,0M191.7,136.8a1.55,1.55 0 1,0 3.1,0a1.55,1.55 0 1,0 -3.1,0M189.1,133.0a1.55,1.55 0 1,0 3.1,0a1.55,1.55 0 1,0 -3.1,0M188.1,132.6a1.55,1.55 0 1,0 3.1,0a1.55,1.55 0 1,0 -3.1,0M187.9,130.0a1.55,1.55 0 1,0 3.1,0a1.55,1.55 0 1,0 -3.1,0M186.8,129.5a1.55,1.55 0 1,0 3.1,0a1.55,1.55 0 1,0 -3.1,0M186.4,126.3a1.55,1.55 0 1,0 3.1,0a1.55,1.55 0 1,0 -3.1,0M186.1,126.3a1.55,1.55 0 1,0 3.1,0a1.55,1.55 0 1,0 -3.1,0M184.3,123.6a1.55,1.55 0 1,0 3.1,0a1.55,1.55 0 1,0 -3.1,0M184.6,123.3a1.55,1.55 0 1,0 3.1,0a1.55,1.55 0 1,0 -3.1,0M184.5,121.7a1.55,1.55 0 1,0 3.1,0a1.55,1.55 0 1,0 -3.1,0M182.9,121.2a1.55,1.55 0 1,0 3.1,0a1.55,1.55 0 1,0 -3.1,0M181.3,117.8a1.55,1.55 0 1,0 3.1,0a1.55,1.55 0 1,0 -3.1,0M181.2,116.4a1.55,1.55 0 1,0 3.1,0a1.55,1.55 0 1,0 -3.1,0M180.7,115.3a1.55,1.55 0 1,0 3.1,0a1.55,1.55 0 1,0 -3.1,0M180.4,114.5a1.55,1.55 0 1,0 3.1,0a1.55,1.55 0 1,0 -3.1,0M177.7,112.9a1.55,1.55 0 1,0 3.1,0a1.55,1.55 0 1,0 -3.1,0M177.2,109.8a1.55,1.55 0 1,0 3.1,0a1.55,1.55 0 1,0 -3.1,0M175.4,108.9a1.55,1.55 0 1,0 3.1,0a1.55,1.55 0 1,0 -3.1,0M174.5,107.2a1.55,1.55 0 1,0 3.1,0a1.55,1.55 0 1,0 -3.1,0M174.2,104.6a1.55,1.55 0 1,0 3.1,0a1.55,1.55 0 1,0 -3.1,0M172.6,103.4a1.55,1.55 0 1,0 3.1,0a1.55,1.55 0 1,0 -3.1,0M172.5,101.3a1.55,1.55 0 1,0 3.1,0a1.55,1.55 0 1,0 -3.1,0M170.6,101.2a1.55,1.55 0 1,0 3.1,0a1.55,1.55 0 1,0 -3.1,0M171.5,100.1a1.55,1.55 0 1,0 3.1,0a1.55,1.55 0 1,0 -3.1,0M169.1,98.5a1.55,1.55 0 1,0 3.1,0a1.55,1.55 0 1,0 -3.1,0M167.6,98.1a1.55,1.55 0 1,0 3.1,0a1.55,1.55 0 1,0 -3.1,0M167.1,96.8a1.55,1.55 0 1,0 3.1,0a1.55,1.55 0 1,0 -3.1,0M165.9,93.8a1.55,1.55 0 1,0 3.1,0a1.55,1.55 0 1,0 -3.1,0M163.8,93.3a1.55,1.55 0 1,0 3.1,0a1.55,1.55 0 1,0 -3.1,0M163.9,90.1a1.55,1.55 0 1,0 3.1,0a1.55,1.55 0 1,0 -3.1,0M163.4,89.7a1.55,1.55 0 1,0 3.1,0a1.55,1.55 0 1,0 -3.1,0M162.2,89.3a1.55,1.55 0 1,0 3.1,0a1.55,1.55 0 1,0 -3.1,0M161.5,88.4a1.55,1.55 0 1,0 3.1,0a1.55,1.55 0 1,0 -3.1,0M161.2,86.3a1.55,1.55 0 1,0 3.1,0a1.55,1.55 0 1,0 -3.1,0M160.4,85.4a1.55,1.55 0 1,0 3.1,0a1.55,1.55 0 1,0 -3.1,0M159.6,84.9a1.55,1.55 0 1,0 3.1,0a1.55,1.55 0 1,0 -3.1,0M158.9,83.5a1.55,1.55 0 1,0 3.1,0a1.55,1.55 0 1,0 -3.1,0M158.0,83.8a1.55,1.55 0 1,0 3.1,0a1.55,1.55 0 1,0 -3.1,0M156.1,81.7a1.55,1.55 0 1,0 3.1,0a1.55,1.55 0 1,0 -3.1,0M155.2,80.3a1.55,1.55 0 1,0 3.1,0a1.55,1.55 0 1,0 -3.1,0M155.1,79.3a1.55,1.55 0 1,0 3.1,0a1.55,1.55 0 1,0 -3.1,0M153.7,79.2a1.55,1.55 0 1,0 3.1,0a1.55,1.55 0 1,0 -3.1,0M152.6,78.3a1.55,1.55 0 1,0 3.1,0a1.55,1.55 0 1,0 -3.1,0M151.3,75.5a1.55,1.55 0 1,0 3.1,0a1.55,1.55 0 1,0 -3.1,0M150.0,75.5a1.55,1.55 0 1,0 3.1,0a1.55,1.55 0 1,0 -3.1,0M266.1,78.8a1.55,1.55 0 1,0 3.1,0a1.55,1.55 0 1,0 -3.1,0M265.4,80.3a1.55,1.55 0 1,0 3.1,0a1.55,1.55 0 1,0 -3.1,0M263.9,79.8a1.55,1.55 0 1,0 3.1,0a1.55,1.55 0 1,0 -3.1,0M263.7,80.6a1.55,1.55 0 1,0 3.1,0a1.55,1.55 0 1,0 -3.1,0M262.7,83.3a1.55,1.55 0 1,0 3.1,0a1.55,1.55 0 1,0 -3.1,0M260.1,86.6a1.55,1.55 0 1,0 3.1,0a1.55,1.55 0 1,0 -3.1,0M258.9,86.8a1.55,1.55 0 1,0 3.1,0a1.55,1.55 0 1,0 -3.1,0M257.7,88.8a1.55,1.55 0 1,0 3.1,0a1.55,1.55 0 1,0 -3.1,0M256.9,90.6a1.55,1.55 0 1,0 3.1,0a1.55,1.55 0 1,0 -3.1,0M256.1,91.2a1.55,1.55 0 1,0 3.1,0a1.55,1.55 0 1,0 -3.1,0M254.3,91.3a1.55,1.55 0 1,0 3.1,0a1.55,1.55 0 1,0 -3.1,0M254.2,92.0a1.55,1.55 0 1,0 3.1,0a1.55,1.55 0 1,0 -3.1,0M253.8,93.5a1.55,1.55 0 1,0 3.1,0a1.55,1.55 0 1,0 -3.1,0M252.4,94.2a1.55,1.55 0 1,0 3.1,0a1.55,1.55 0 1,0 -3.1,0M252.7,95.4a1.55,1.55 0 1,0 3.1,0a1.55,1.55 0 1,0 -3.1,0M251.1,98.6a1.55,1.55 0 1,0 3.1,0a1.55,1.55 0 1,0 -3.1,0M249.9,101.5a1.55,1.55 0 1,0 3.1,0a1.55,1.55 0 1,0 -3.1,0M249.3,101.9a1.55,1.55 0 1,0 3.1,0a1.55,1.55 0 1,0 -3.1,0M247.9,102.0a1.55,1.55 0 1,0 3.1,0a1.55,1.55 0 1,0 -3.1,0M247.5,102.8a1.55,1.55 0 1,0 3.1,0a1.55,1.55 0 1,0 -3.1,0M246.9,104.8a1.55,1.55 0 1,0 3.1,0a1.55,1.55 0 1,0 -3.1,0M244.2,107.3a1.55,1.55 0 1,0 3.1,0a1.55,1.55 0 1,0 -3.1,0M242.5,107.3a1.55,1.55 0 1,0 3.1,0a1.55,1.55 0 1,0 -3.1,0M241.4,109.2a1.55,1.55 0 1,0 3.1,0a1.55,1.55 0 1,0 -3.1,0M241.9,110.6a1.55,1.55 0 1,0 3.1,0a1.55,1.55 0 1,0 -3.1,0M240.5,112.4a1.55,1.55 0 1,0 3.1,0a1.55,1.55 0 1,0 -3.1,0M239.5,112.5a1.55,1.55 0 1,0 3.1,0a1.55,1.55 0 1,0 -3.1,0M237.8,117.2a1.55,1.55 0 1,0 3.1,0a1.55,1.55 0 1,0 -3.1,0M237.1,118.1a1.55,1.55 0 1,0 3.1,0a1.55,1.55 0 1,0 -3.1,0M235.8,118.0a1.55,1.55 0 1,0 3.1,0a1.55,1.55 0 1,0 -3.1,0M236.1,119.1a1.55,1.55 0 1,0 3.1,0a1.55,1.55 0 1,0 -3.1,0M234.7,119.9a1.55,1.55 0 1,0 3.1,0a1.55,1.55 0 1,0 -3.1,0M234.2,121.3a1.55,1.55 0 1,0 3.1,0a1.55,1.55 0 1,0 -3.1,0M234.7,122.4a1.55,1.55 0 1,0 3.1,0a1.55,1.55 0 1,0 -3.1,0M233.8,123.0a1.55,1.55 0 1,0 3.1,0a1.55,1.55 0 1,0 -3.1,0M233.3,124.1a1.55,1.55 0 1,0 3.1,0a1.55,1.55 0 1,0 -3.1,0M233.3,126.6a1.55,1.55 0 1,0 3.1,0a1.55,1.55 0 1,0 -3.1,0M232.2,127.5a1.55,1.55 0 1,0 3.1,0a1.55,1.55 0 1,0 -3.1,0M231.9,128.2a1.55,1.55 0 1,0 3.1,0a1.55,1.55 0 1,0 -3.1,0M231.7,129.4a1.55,1.55 0 1,0 3.1,0a1.55,1.55 0 1,0 -3.1,0M228.9,133.7a1.55,1.55 0 1,0 3.1,0a1.55,1.55 0 1,0 -3.1,0M227.6,134.8a1.55,1.55 0 1,0 3.1,0a1.55,1.55 0 1,0 -3.1,0M227.3,135.6a1.55,1.55 0 1,0 3.1,0a1.55,1.55 0 1,0 -3.1,0M225.5,136.9a1.55,1.55 0 1,0 3.1,0a1.55,1.55 0 1,0 -3.1,0M225.0,138.3a1.55,1.55 0 1,0 3.1,0a1.55,1.55 0 1,0 -3.1,0M225.1,139.3a1.55,1.55 0 1,0 3.1,0a1.55,1.55 0 1,0 -3.1,0M224.2,140.2a1.55,1.55 0 1,0 3.1,0a1.55,1.55 0 1,0 -3.1,0M222.7,141.7a1.55,1.55 0 1,0 3.1,0a1.55,1.55 0 1,0 -3.1,0M222.5,142.7a1.55,1.55 0 1,0 3.1,0a1.55,1.55 0 1,0 -3.1,0M222.5,143.2a1.55,1.55 0 1,0 3.1,0a1.55,1.55 0 1,0 -3.1,0M222.9,145.3a1.55,1.55 0 1,0 3.1,0a1.55,1.55 0 1,0 -3.1,0M221.2,148.8a1.55,1.55 0 1,0 3.1,0a1.55,1.55 0 1,0 -3.1,0M221.3,152.3a1.55,1.55 0 1,0 3.1,0a1.55,1.55 0 1,0 -3.1,0M220.2,156.6a1.55,1.55 0 1,0 3.1,0a1.55,1.55 0 1,0 -3.1,0M220.3,158.7a1.55,1.55 0 1,0 3.1,0a1.55,1.55 0 1,0 -3.1,0M219.3,160.6a1.55,1.55 0 1,0 3.1,0a1.55,1.55 0 1,0 -3.1,0M218.6,161.4a1.55,1.55 0 1,0 3.1,0a1.55,1.55 0 1,0 -3.1,0M218.9,162.1a1.55,1.55 0 1,0 3.1,0a1.55,1.55 0 1,0 -3.1,0M217.5,162.7a1.55,1.55 0 1,0 3.1,0a1.55,1.55 0 1,0 -3.1,0M217.0,163.8a1.55,1.55 0 1,0 3.1,0a1.55,1.55 0 1,0 -3.1,0M216.5,168.4a1.55,1.55 0 1,0 3.1,0a1.55,1.55 0 1,0 -3.1,0M215.3,169.5a1.55,1.55 0 1,0 3.1,0a1.55,1.55 0 1,0 -3.1,0M215.8,172.1a1.55,1.55 0 1,0 3.1,0a1.55,1.55 0 1,0 -3.1,0M215.2,173.4a1.55,1.55 0 1,0 3.1,0a1.55,1.55 0 1,0 -3.1,0M215.0,174.4a1.55,1.55 0 1,0 3.1,0a1.55,1.55 0 1,0 -3.1,0M214.7,175.0a1.55,1.55 0 1,0 3.1,0a1.55,1.55 0 1,0 -3.1,0M214.5,178.0a1.55,1.55 0 1,0 3.1,0a1.55,1.55 0 1,0 -3.1,0M215.3,178.9a1.55,1.55 0 1,0 3.1,0a1.55,1.55 0 1,0 -3.1,0M214.3,179.6a1.55,1.55 0 1,0 3.1,0a1.55,1.55 0 1,0 -3.1,0M214.9,181.6a1.55,1.55 0 1,0 3.1,0a1.55,1.55 0 1,0 -3.1,0M214.4,182.6a1.55,1.55 0 1,0 3.1,0a1.55,1.55 0 1,0 -3.1,0M214.1,183.6a1.55,1.55 0 1,0 3.1,0a1.55,1.55 0 1,0 -3.1,0M213.1,184.2a1.55,1.55 0 1,0 3.1,0a1.55,1.55 0 1,0 -3.1,0M213.2,185.3a1.55,1.55 0 1,0 3.1,0a1.55,1.55 0 1,0 -3.1,0M211.5,186.7a1.55,1.55 0 1,0 3.1,0a1.55,1.55 0 1,0 -3.1,0M211.5,187.6a1.55,1.55 0 1,0 3.1,0a1.55,1.55 0 1,0 -3.1,0M213.2,189.3a1.55,1.55 0 1,0 3.1,0a1.55,1.55 0 1,0 -3.1,0M211.7,190.9a1.55,1.55 0 1,0 3.1,0a1.55,1.55 0 1,0 -3.1,0M212.8,192.6a1.55,1.55 0 1,0 3.1,0a1.55,1.55 0 1,0 -3.1,0M210.9,195.4a1.55,1.55 0 1,0 3.1,0a1.55,1.55 0 1,0 -3.1,0M212.3,196.7a1.55,1.55 0 1,0 3.1,0a1.55,1.55 0 1,0 -3.1,0M211.3,198.0a1.55,1.55 0 1,0 3.1,0a1.55,1.55 0 1,0 -3.1,0M212.1,199.9a1.55,1.55 0 1,0 3.1,0a1.55,1.55 0 1,0 -3.1,0M212.1,200.8a1.55,1.55 0 1,0 3.1,0a1.55,1.55 0 1,0 -3.1,0M211.6,202.0a1.55,1.55 0 1,0 3.1,0a1.55,1.55 0 1,0 -3.1,0M211.1,202.3a1.55,1.55 0 1,0 3.1,0a1.55,1.55 0 1,0 -3.1,0M211.8,203.8a1.55,1.55 0 1,0 3.1,0a1.55,1.55 0 1,0 -3.1,0M212.0,204.7a1.55,1.55 0 1,0 3.1,0a1.55,1.55 0 1,0 -3.1,0M212.2,205.7a1.55,1.55 0 1,0 3.1,0a1.55,1.55 0 1,0 -3.1,0M211.2,206.6a1.55,1.55 0 1,0 3.1,0a1.55,1.55 0 1,0 -3.1,0M211.7,207.7a1.55,1.55 0 1,0 3.1,0a1.55,1.55 0 1,0 -3.1,0M212.0,210.1a1.55,1.55 0 1,0 3.1,0a1.55,1.55 0 1,0 -3.1,0M212.3,211.4a1.55,1.55 0 1,0 3.1,0a1.55,1.55 0 1,0 -3.1,0M212.7,212.8a1.55,1.55 0 1,0 3.1,0a1.55,1.55 0 1,0 -3.1,0M212.7,213.8a1.55,1.55 0 1,0 3.1,0a1.55,1.55 0 1,0 -3.1,0M212.9,213.9a1.55,1.55 0 1,0 3.1,0a1.55,1.55 0 1,0 -3.1,0M212.3,216.2a1.55,1.55 0 1,0 3.1,0a1.55,1.55 0 1,0 -3.1,0M212.1,218.1a1.55,1.55 0 1,0 3.1,0a1.55,1.55 0 1,0 -3.1,0M213.3,220.0a1.55,1.55 0 1,0 3.1,0a1.55,1.55 0 1,0 -3.1,0M212.5,221.3a1.55,1.55 0 1,0 3.1,0a1.55,1.55 0 1,0 -3.1,0M213.4,222.8a1.55,1.55 0 1,0 3.1,0a1.55,1.55 0 1,0 -3.1,0M213.6,222.6a1.55,1.55 0 1,0 3.1,0a1.55,1.55 0 1,0 -3.1,0M213.1,225.2a1.55,1.55 0 1,0 3.1,0a1.55,1.55 0 1,0 -3.1,0M214.1,224.5a1.55,1.55 0 1,0 3.1,0a1.55,1.55 0 1,0 -3.1,0M214.2,225.8a1.55,1.55 0 1,0 3.1,0a1.55,1.55 0 1,0 -3.1,0M214.3,224.0a1.55,1.55 0 1,0 3.1,0a1.55,1.55 0 1,0 -3.1,0M214.8,221.7a1.55,1.55 0 1,0 3.1,0a1.55,1.55 0 1,0 -3.1,0M216.0,216.6a1.55,1.55 0 1,0 3.1,0a1.55,1.55 0 1,0 -3.1,0M218.1,216.0a1.55,1.55 0 1,0 3.1,0a1.55,1.55 0 1,0 -3.1,0M218.4,215.1a1.55,1.55 0 1,0 3.1,0a1.55,1.55 0 1,0 -3.1,0M219.4,213.2a1.55,1.55 0 1,0 3.1,0a1.55,1.55 0 1,0 -3.1,0M218.4,211.9a1.55,1.55 0 1,0 3.1,0a1.55,1.55 0 1,0 -3.1,0M220.2,211.8a1.55,1.55 0 1,0 3.1,0a1.55,1.55 0 1,0 -3.1,0M220.9,209.0a1.55,1.55 0 1,0 3.1,0a1.55,1.55 0 1,0 -3.1,0M222.6,205.7a1.55,1.55 0 1,0 3.1,0a1.55,1.55 0 1,0 -3.1,0M224.5,205.4a1.55,1.55 0 1,0 3.1,0a1.55,1.55 0 1,0 -3.1,0M224.9,204.6a1.55,1.55 0 1,0 3.1,0a1.55,1.55 0 1,0 -3.1,0M224.8,203.5a1.55,1.55 0 1,0 3.1,0a1.55,1.55 0 1,0 -3.1,0M225.9,201.6a1.55,1.55 0 1,0 3.1,0a1.55,1.55 0 1,0 -3.1,0M226.3,199.5a1.55,1.55 0 1,0 3.1,0a1.55,1.55 0 1,0 -3.1,0M226.7,197.0a1.55,1.55 0 1,0 3.1,0a1.55,1.55 0 1,0 -3.1,0M229.1,192.8a1.55,1.55 0 1,0 3.1,0a1.55,1.55 0 1,0 -3.1,0M230.1,191.9a1.55,1.55 0 1,0 3.1,0a1.55,1.55 0 1,0 -3.1,0M229.7,191.0a1.55,1.55 0 1,0 3.1,0a1.55,1.55 0 1,0 -3.1,0M230.5,190.6a1.55,1.55 0 1,0 3.1,0a1.55,1.55 0 1,0 -3.1,0M230.2,188.0a1.55,1.55 0 1,0 3.1,0a1.55,1.55 0 1,0 -3.1,0M231.8,186.7a1.55,1.55 0 1,0 3.1,0a1.55,1.55 0 1,0 -3.1,0M231.4,185.0a1.55,1.55 0 1,0 3.1,0a1.55,1.55 0 1,0 -3.1,0M232.8,184.2a1.55,1.55 0 1,0 3.1,0a1.55,1.55 0 1,0 -3.1,0M232.4,183.5a1.55,1.55 0 1,0 3.1,0a1.55,1.55 0 1,0 -3.1,0M232.9,181.7a1.55,1.55 0 1,0 3.1,0a1.55,1.55 0 1,0 -3.1,0M234.3,180.5a1.55,1.55 0 1,0 3.1,0a1.55,1.55 0 1,0 -3.1,0M233.6,179.5a1.55,1.55 0 1,0 3.1,0a1.55,1.55 0 1,0 -3.1,0M235.3,177.9a1.55,1.55 0 1,0 3.1,0a1.55,1.55 0 1,0 -3.1,0M235.7,175.4a1.55,1.55 0 1,0 3.1,0a1.55,1.55 0 1,0 -3.1,0M236.5,173.9a1.55,1.55 0 1,0 3.1,0a1.55,1.55 0 1,0 -3.1,0M237.7,173.7a1.55,1.55 0 1,0 3.1,0a1.55,1.55 0 1,0 -3.1,0M237.9,171.2a1.55,1.55 0 1,0 3.1,0a1.55,1.55 0 1,0 -3.1,0M238.7,170.3a1.55,1.55 0 1,0 3.1,0a1.55,1.55 0 1,0 -3.1,0M239.6,170.5a1.55,1.55 0 1,0 3.1,0a1.55,1.55 0 1,0 -3.1,0M240.3,168.6a1.55,1.55 0 1,0 3.1,0a1.55,1.55 0 1,0 -3.1,0M241.8,169.0a1.55,1.55 0 1,0 3.1,0a1.55,1.55 0 1,0 -3.1,0M242.2,167.8a1.55,1.55 0 1,0 3.1,0a1.55,1.55 0 1,0 -3.1,0M242.0,167.1a1.55,1.55 0 1,0 3.1,0a1.55,1.55 0 1,0 -3.1,0M244.5,165.4a1.55,1.55 0 1,0 3.1,0a1.55,1.55 0 1,0 -3.1,0M244.3,163.5a1.55,1.55 0 1,0 3.1,0a1.55,1.55 0 1,0 -3.1,0M245.6,161.6a1.55,1.55 0 1,0 3.1,0a1.55,1.55 0 1,0 -3.1,0M247.2,157.9a1.55,1.55 0 1,0 3.1,0a1.55,1.55 0 1,0 -3.1,0M247.8,155.5a1.55,1.55 0 1,0 3.1,0a1.55,1.55 0 1,0 -3.1,0M251.6,149.1a1.55,1.55 0 1,0 3.1,0a1.55,1.55 0 1,0 -3.1,0M251.0,147.9a1.55,1.55 0 1,0 3.1,0a1.55,1.55 0 1,0 -3.1,0M253.1,147.2a1.55,1.55 0 1,0 3.1,0a1.55,1.55 0 1,0 -3.1,0M252.3,146.1a1.55,1.55 0 1,0 3.1,0a1.55,1.55 0 1,0 -3.1,0M255.1,142.7a1.55,1.55 0 1,0 3.1,0a1.55,1.55 0 1,0 -3.1,0M254.2,141.0a1.55,1.55 0 1,0 3.1,0a1.55,1.55 0 1,0 -3.1,0M255.2,140.2a1.55,1.55 0 1,0 3.1,0a1.55,1.55 0 1,0 -3.1,0M256.9,139.1a1.55,1.55 0 1,0 3.1,0a1.55,1.55 0 1,0 -3.1,0M257.2,138.2a1.55,1.55 0 1,0 3.1,0a1.55,1.55 0 1,0 -3.1,0M256.9,136.8a1.55,1.55 0 1,0 3.1,0a1.55,1.55 0 1,0 -3.1,0M256.8,135.4a1.55,1.55 0 1,0 3.1,0a1.55,1.55 0 1,0 -3.1,0M258.5,135.7a1.55,1.55 0 1,0 3.1,0a1.55,1.55 0 1,0 -3.1,0M258.9,132.4a1.55,1.55 0 1,0 3.1,0a1.55,1.55 0 1,0 -3.1,0M258.6,130.3a1.55,1.55 0 1,0 3.1,0a1.55,1.55 0 1,0 -3.1,0M259.0,128.8a1.55,1.55 0 1,0 3.1,0a1.55,1.55 0 1,0 -3.1,0M261.1,125.4a1.55,1.55 0 1,0 3.1,0a1.55,1.55 0 1,0 -3.1,0M261.4,123.0a1.55,1.55 0 1,0 3.1,0a1.55,1.55 0 1,0 -3.1,0M263.1,120.8a1.55,1.55 0 1,0 3.1,0a1.55,1.55 0 1,0 -3.1,0M264.3,118.9a1.55,1.55 0 1,0 3.1,0a1.55,1.55 0 1,0 -3.1,0M264.1,117.5a1.55,1.55 0 1,0 3.1,0a1.55,1.55 0 1,0 -3.1,0M265.2,117.0a1.55,1.55 0 1,0 3.1,0a1.55,1.55 0 1,0 -3.1,0M265.6,114.7a1.55,1.55 0 1,0 3.1,0a1.55,1.55 0 1,0 -3.1,0M266.1,114.3a1.55,1.55 0 1,0 3.1,0a1.55,1.55 0 1,0 -3.1,0M265.8,113.3a1.55,1.55 0 1,0 3.1,0a1.55,1.55 0 1,0 -3.1,0M266.2,109.6a1.55,1.55 0 1,0 3.1,0a1.55,1.55 0 1,0 -3.1,0M267.7,106.4a1.55,1.55 0 1,0 3.1,0a1.55,1.55 0 1,0 -3.1,0M266.6,105.1a1.55,1.55 0 1,0 3.1,0a1.55,1.55 0 1,0 -3.1,0M266.7,102.1a1.55,1.55 0 1,0 3.1,0a1.55,1.55 0 1,0 -3.1,0M266.8,101.7a1.55,1.55 0 1,0 3.1,0a1.55,1.55 0 1,0 -3.1,0M268.3,100.4a1.55,1.55 0 1,0 3.1,0a1.55,1.55 0 1,0 -3.1,0M267.3,99.6a1.55,1.55 0 1,0 3.1,0a1.55,1.55 0 1,0 -3.1,0M267.0,98.6a1.55,1.55 0 1,0 3.1,0a1.55,1.55 0 1,0 -3.1,0M268.7,97.7a1.55,1.55 0 1,0 3.1,0a1.55,1.55 0 1,0 -3.1,0M268.2,96.6a1.55,1.55 0 1,0 3.1,0a1.55,1.55 0 1,0 -3.1,0M268.3,91.9a1.55,1.55 0 1,0 3.1,0a1.55,1.55 0 1,0 -3.1,0M269.8,90.9a1.55,1.55 0 1,0 3.1,0a1.55,1.55 0 1,0 -3.1,0M269.8,89.9a1.55,1.55 0 1,0 3.1,0a1.55,1.55 0 1,0 -3.1,0M269.0,87.7a1.55,1.55 0 1,0 3.1,0a1.55,1.55 0 1,0 -3.1,0M269.5,87.3a1.55,1.55 0 1,0 3.1,0a1.55,1.55 0 1,0 -3.1,0M270.3,86.5a1.55,1.55 0 1,0 3.1,0a1.55,1.55 0 1,0 -3.1,0M270.5,84.6a1.55,1.55 0 1,0 3.1,0a1.55,1.55 0 1,0 -3.1,0M269.9,83.9a1.55,1.55 0 1,0 3.1,0a1.55,1.55 0 1,0 -3.1,0M269.1,83.2a1.55,1.55 0 1,0 3.1,0a1.55,1.55 0 1,0 -3.1,0M270.2,82.0a1.55,1.55 0 1,0 3.1,0a1.55,1.55 0 1,0 -3.1,0M268.7,79.9a1.55,1.55 0 1,0 3.1,0a1.55,1.55 0 1,0 -3.1,0M268.3,80.1a1.55,1.55 0 1,0 3.1,0a1.55,1.55 0 1,0 -3.1,0M268.2,78.1a1.55,1.55 0 1,0 3.1,0a1.55,1.55 0 1,0 -3.1,0M266.9,79.2a1.55,1.55 0 1,0 3.1,0a1.55,1.55 0 1,0 -3.1,0M266.2,79.1a1.55,1.55 0 1,0 3.1,0a1.55,1.55 0 1,0 -3.1,0" fill="#008000"/>
<path d="M158.5,93.9 C157.9,94.1 157.8,94.0 157.5,95.0 C157.2,96.0 157.0,98.5 157.0,100.0 C157.0,101.5 157.3,102.7 157.5,104.0 C157.7,105.3 157.4,105.7 158.0,108.0 C158.6,110.3 160.1,115.2 160.9,118.0 C161.7,120.8 162.1,122.7 162.8,125.0 C163.5,127.3 164.1,129.5 165.1,132.0 C166.1,134.5 167.4,137.3 168.6,140.0 C169.8,142.7 170.7,145.3 172.0,148.0 C173.3,150.7 175.0,153.3 176.5,156.0 C178.0,158.7 179.5,161.3 181.0,164.0 C182.5,166.7 184.3,169.5 185.5,172.0 C186.7,174.5 187.1,176.7 188.0,179.0 C188.9,181.3 189.5,183.8 190.8,186.0 C192.1,188.2 194.6,189.8 196.0,192.0 C197.4,194.2 198.5,197.4 199.5,199.0 C200.5,200.6 201.2,201.1 202.0,201.5 C202.8,201.9 203.5,201.9 204.0,201.5 C204.5,201.1 205.1,200.6 205.2,199.0 C205.3,197.4 204.8,194.2 204.8,192.0 C204.8,189.8 205.3,188.2 205.3,186.0 C205.3,183.8 205.1,181.3 204.8,179.0 C204.6,176.7 204.2,174.5 203.8,172.0 C203.4,169.5 203.2,166.7 202.5,164.0 C201.8,161.3 200.8,158.7 199.5,156.0 C198.2,153.3 196.3,150.7 195.0,148.0 C193.7,145.3 192.9,142.7 191.7,140.0 C190.5,137.3 189.4,134.5 188.0,132.0 C186.6,129.5 184.7,127.3 183.0,125.0 C181.3,122.7 180.2,120.8 178.0,118.0 C175.8,115.2 171.7,110.3 170.1,108.0 C168.5,105.7 169.2,105.3 168.7,104.0 C168.2,102.7 168.0,101.5 167.1,100.0 C166.2,98.5 164.5,96.0 163.5,95.0 C162.5,94.0 161.8,94.1 161.0,93.9 C160.2,93.7 159.1,93.7 158.5,93.9 Z" fill="#ffff00"/>
<path d="M258.5,98.3 C258.0,98.6 258.5,98.4 256.9,100.0 C255.3,101.6 251.0,105.5 249.0,108.0 C247.0,110.5 246.2,112.7 244.8,115.0 C243.4,117.3 242.1,120.2 240.6,122.0 C239.1,123.8 237.2,124.2 235.8,126.0 C234.5,127.8 233.5,130.7 232.5,133.0 C231.5,135.3 230.7,137.8 229.9,140.0 C229.1,142.2 228.7,144.0 227.8,146.0 C226.9,148.0 225.1,149.8 224.3,152.0 C223.5,154.2 224.0,156.8 223.1,159.0 C222.2,161.2 219.8,162.8 219.0,165.0 C218.2,167.2 218.7,169.7 218.6,172.0 C218.5,174.3 218.7,176.8 218.2,179.0 C217.7,181.2 216.1,182.8 215.8,185.0 C215.5,187.2 216.4,190.2 216.3,192.0 C216.2,193.8 215.6,194.7 215.5,196.0 C215.4,197.3 215.4,199.3 216.0,200.0 C216.6,200.7 218.2,200.7 219.0,200.0 C219.8,199.3 219.6,197.3 220.6,196.0 C221.6,194.7 223.6,193.8 225.0,192.0 C226.4,190.2 227.9,187.2 229.0,185.0 C230.1,182.8 230.5,181.2 231.5,179.0 C232.5,176.8 233.7,174.3 235.0,172.0 C236.3,169.7 238.4,167.2 239.5,165.0 C240.6,162.8 240.6,161.2 241.5,159.0 C242.4,156.8 243.8,154.2 245.0,152.0 C246.2,149.8 247.5,148.0 249.0,146.0 C250.5,144.0 252.7,142.2 253.9,140.0 C255.1,137.8 255.2,135.3 256.0,133.0 C256.8,130.7 257.8,127.8 258.5,126.0 C259.2,124.2 259.6,123.8 260.0,122.0 C260.4,120.2 260.9,117.3 261.2,115.0 C261.4,112.7 261.4,110.5 261.5,108.0 C261.6,105.5 261.8,101.6 261.5,100.0 C261.2,98.4 260.5,98.6 260.0,98.3 C259.5,98.0 259.0,98.0 258.5,98.3 Z" fill="#ffff00"/>
<path d="M156.2,95.4a1.55,1.55 0 1,0 3.1,0a1.55,1.55 0 1,0 -3.1,0M157.4,96.6a1.55,1.55 0 1,0 3.1,0a1.55,1.55 0 1,0 -3.1,0M157.0,98.0a1.55,1.55 0 1,0 3.1,0a1.55,1.55 0 1,0 -3.1,0M156.9,100.3a1.55,1.55 0 1,0 3.1,0a1.55,1.55 0 1,0 -3.1,0M156.7,101.1a1.55,1.55 0 1,0 3.1,0a1.55,1.55 0 1,0 -3.1,0M157.2,102.8a1.55,1.55 0 1,0 3.1,0a1.55,1.55 0 1,0 -3.1,0M156.4,104.4a1.55,1.55 0 1,0 3.1,0a1.55,1.55 0 1,0 -3.1,0M156.7,106.4a1.55,1.55 0 1,0 3.1,0a1.55,1.55 0 1,0 -3.1,0M157.9,107.3a1.55,1.55 0 1,0 3.1,0a1.55,1.55 0 1,0 -3.1,0M156.6,108.0a1.55,1.55 0 1,0 3.1,0a1.55,1.55 0 1,0 -3.1,0M157.2,109.0a1.55,1.55 0 1,0 3.1,0a1.55,1.55 0 1,0 -3.1,0M157.7,111.4a1.55,1.55 0 1,0 3.1,0a1.55,1.55 0 1,0 -3.1,0M158.3,112.1a1.55,1.55 0 1,0 3.1,0a1.55,1.55 0 1,0 -3.1,0M158.6,114.2a1.55,1.55 0 1,0 3.1,0a1.55,1.55 0 1,0 -3.1,0M160.2,115.7a1.55,1.55 0 1,0 3.1,0a1.55,1.55 0 1,0 -3.1,0M161.0,117.1a1.55,1.55 0 1,0 3.1,0a1.55,1.55 0 1,0 -3.1,0M160.4,118.0a1.55,1.55 0 1,0 3.1,0a1.55,1.55 0 1,0 -3.1,0M160.7,119.3a1.55,1.55 0 1,0 3.1,0a1.55,1.55 0 1,0 -3.1,0M161.5,120.3a1.55,1.55 0 1,0 3.1,0a1.55,1.55 0 1,0 -3.1,0M161.5,122.2a1.55,1.55 0 1,0 3.1,0a1.55,1.55 0 1,0 -3.1,0M161.2,123.6a1.55,1.55 0 1,0 3.1,0a1.55,1.55 0 1,0 -3.1,0M161.4,124.8a1.55,1.55 0 1,0 3.1,0a1.55,1.55 0 1,0 -3.1,0M162.8,127.4a1.55,1.55 0 1,0 3.1,0a1.55,1.55 0 1,0 -3.1,0M162.5,128.2a1.55,1.55 0 1,0 3.1,0a1.55,1.55 0 1,0 -3.1,0M164.8,130.2a1.55,1.55 0 1,0 3.1,0a1.55,1.55 0 1,0 -3.1,0M164.7,131.1a1.55,1.55 0 1,0 3.1,0a1.55,1.55 0 1,0 -3.1,0M165.2,134.7a1.55,1.55 0 1,0 3.1,0a1.55,1.55 0 1,0 -3.1,0M165.9,135.0a1.55,1.55 0 1,0 3.1,0a1.55,1.55 0 1,0 -3.1,0M167.2,135.8a1.55,1.55 0 1,0 3.1,0a1.55,1.55 0 1,0 -3.1,0M167.8,139.7a1.55,1.55 0 1,0 3.1,0a1.55,1.55 0 1,0 -3.1,0M168.5,140.6a1.55,1.55 0 1,0 3.1,0a1.55,1.55 0 1,0 -3.1,0M169.1,142.9a1.55,1.55 0 1,0 3.1,0a1.55,1.55 0 1,0 -3.1,0M170.1,143.9a1.55,1.55 0 1,0 3.1,0a1.55,1.55 0 1,0 -3.1,0M170.7,144.5a1.55,1.55 0 1,0 3.1,0a1.55,1.55 0 1,0 -3.1,0M171.7,146.2a1.55,1.55 0 1,0 3.1,0a1.55,1.55 0 1,0 -3.1,0M170.8,147.3a1.55,1.55 0 1,0 3.1,0a1.55,1.55 0 1,0 -3.1,0M172.4,150.7a1.55,1.55 0 1,0 3.1,0a1.55,1.55 0 1,0 -3.1,0M173.1,151.9a1.55,1.55 0 1,0 3.1,0a1.55,1.55 0 1,0 -3.1,0M174.6,152.4a1.55,1.55 0 1,0 3.1,0a1.55,1.55 0 1,0 -3.1,0M175.1,153.1a1.55,1.55 0 1,0 3.1,0a1.55,1.55 0 1,0 -3.1,0M174.8,154.4a1.55,1.55 0 1,0 3.1,0a1.55,1.55 0 1,0 -3.1,0M177.0,157.4a1.55,1.55 0 1,0 3.1,0a1.55,1.55 0 1,0 -3.1,0M177.5,158.8a1.55,1.55 0 1,0 3.1,0a1.55,1.55 0 1,0 -3.1,0M178.0,161.1a1.55,1.55 0 1,0 3.1,0a1.55,1.55 0 1,0 -3.1,0M179.1,161.0a1.55,1.55 0 1,0 3.1,0a1.55,1.55 0 1,0 -3.1,0M180.1,162.4a1.55,1.55 0 1,0 3.1,0a1.55,1.55 0 1,0 -3.1,0M180.9,162.5a1.55,1.55 0 1,0 3.1,0a1.55,1.55 0 1,0 -3.1,0M181.3,163.6a1.55,1.55 0 1,0 3.1,0a1.55,1.55 0 1,0 -3.1,0M180.6,165.3a1.55,1.55 0 1,0 3.1,0a1.55,1.55 0 1,0 -3.1,0M182.2,167.0a1.55,1.55 0 1,0 3.1,0a1.55,1.55 0 1,0 -3.1,0M183.6,167.4a1.55,1.55 0 1,0 3.1,0a1.55,1.55 0 1,0 -3.1,0M183.0,168.2a1.55,1.55 0 1,0 3.1,0a1.55,1.55 0 1,0 -3.1,0M183.7,169.7a1.55,1.55 0 1,0 3.1,0a1.55,1.55 0 1,0 -3.1,0M183.8,170.1a1.55,1.55 0 1,0 3.1,0a1.55,1.55 0 1,0 -3.1,0M185.2,170.9a1.55,1.55 0 1,0 3.1,0a1.55,1.55 0 1,0 -3.1,0M184.2,172.1a1.55,1.55 0 1,0 3.1,0a1.55,1.55 0 1,0 -3.1,0M185.7,174.0a1.55,1.55 0 1,0 3.1,0a1.55,1.55 0 1,0 -3.1,0M186.2,176.4a1.55,1.55 0 1,0 3.1,0a1.55,1.55 0 1,0 -3.1,0M186.8,177.1a1.55,1.55 0 1,0 3.1,0a1.55,1.55 0 1,0 -3.1,0M187.3,178.8a1.55,1.55 0 1,0 3.1,0a1.55,1.55 0 1,0 -3.1,0M188.4,180.3a1.55,1.55 0 1,0 3.1,0a1.55,1.55 0 1,0 -3.1,0M188.7,181.6a1.55,1.55 0 1,0 3.1,0a1.55,1.55 0 1,0 -3.1,0M189.6,182.9a1.55,1.55 0 1,0 3.1,0a1.55,1.55 0 1,0 -3.1,0M188.8,184.0a1.55,1.55 0 1,0 3.1,0a1.55,1.55 0 1,0 -3.1,0M190.0,185.7a1.55,1.55 0 1,0 3.1,0a1.55,1.55 0 1,0 -3.1,0M189.9,185.6a1.55,1.55 0 1,0 3.1,0a1.55,1.55 0 1,0 -3.1,0M191.4,186.6a1.55,1.55 0 1,0 3.1,0a1.55,1.55 0 1,0 -3.1,0M192.1,187.3a1.55,1.55 0 1,0 3.1,0a1.55,1.55 0 1,0 -3.1,0M192.2,188.2a1.55,1.55 0 1,0 3.1,0a1.55,1.55 0 1,0 -3.1,0M194.0,190.3a1.55,1.55 0 1,0 3.1,0a1.55,1.55 0 1,0 -3.1,0M194.5,191.4a1.55,1.55 0 1,0 3.1,0a1.55,1.55 0 1,0 -3.1,0M194.9,192.1a1.55,1.55 0 1,0 3.1,0a1.55,1.55 0 1,0 -3.1,0M196.0,192.6a1.55,1.55 0 1,0 3.1,0a1.55,1.55 0 1,0 -3.1,0M196.1,195.0a1.55,1.55 0 1,0 3.1,0a1.55,1.55 0 1,0 -3.1,0M198.2,195.4a1.55,1.55 0 1,0 3.1,0a1.55,1.55 0 1,0 -3.1,0M198.6,196.8a1.55,1.55 0 1,0 3.1,0a1.55,1.55 0 1,0 -3.1,0M197.7,198.3a1.55,1.55 0 1,0 3.1,0a1.55,1.55 0 1,0 -3.1,0M199.6,198.6a1.55,1.55 0 1,0 3.1,0a1.55,1.55 0 1,0 -3.1,0M200.0,198.8a1.55,1.55 0 1,0 3.1,0a1.55,1.55 0 1,0 -3.1,0M201.0,199.6a1.55,1.55 0 1,0 3.1,0a1.55,1.55 0 1,0 -3.1,0M201.0,200.3a1.55,1.55 0 1,0 3.1,0a1.55,1.55 0 1,0 -3.1,0M203.2,197.7a1.55,1.55 0 1,0 3.1,0a1.55,1.55 0 1,0 -3.1,0M203.4,196.6a1.55,1.55 0 1,0 3.1,0a1.55,1.55 0 1,0 -3.1,0M202.3,195.3a1.55,1.55 0 1,0 3.1,0a1.55,1.55 0 1,0 -3.1,0M202.5,194.8a1.55,1.55 0 1,0 3.1,0a1.55,1.55 0 1,0 -3.1,0M203.0,193.7a1.55,1.55 0 1,0 3.1,0a1.55,1.55 0 1,0 -3.1,0M202.9,192.3a1.55,1.55 0 1,0 3.1,0a1.55,1.55 0 1,0 -3.1,0M202.8,191.8a1.55,1.55 0 1,0 3.1,0a1.55,1.55 0 1,0 -3.1,0M202.3,188.0a1.55,1.55 0 1,0 3.1,0a1.55,1.55 0 1,0 -3.1,0M202.1,187.6a1.55,1.55 0 1,0 3.1,0a1.55,1.55 0 1,0 -3.1,0M202.3,186.6a1.55,1.55 0 1,0 3.1,0a1.55,1.55 0 1,0 -3.1,0M203.3,185.6a1.55,1.55 0 1,0 3.1,0a1.55,1.55 0 1,0 -3.1,0M202.6,184.9a1.55,1.55 0 1,0 3.1,0a1.55,1.55 0 1,0 -3.1,0M201.9,183.3a1.55,1.55 0 1,0 3.1,0a1.55,1.55 0 1,0 -3.1,0M202.8,181.3a1.55,1.55 0 1,0 3.1,0a1.55,1.55 0 1,0 -3.1,0M203.0,180.6a1.55,1.55 0 1,0 3.1,0a1.55,1.55 0 1,0 -3.1,0M201.4,179.3a1.55,1.55 0 1,0 3.1,0a1.55,1.55 0 1,0 -3.1,0M201.5,178.3a1.55,1.55 0 1,0 3.1,0a1.55,1.55 0 1,0 -3.1,0M201.7,178.0a1.55,1.55 0 1,0 3.1,0a1.55,1.55 0 1,0 -3.1,0M201.6,176.0a1.55,1.55 0 1,0 3.1,0a1.55,1.55 0 1,0 -3.1,0M200.6,173.5a1.55,1.55 0 1,0 3.1,0a1.55,1.55 0 1,0 -3.1,0M200.5,171.5a1.55,1.55 0 1,0 3.1,0a1.55,1.55 0 1,0 -3.1,0M201.5,170.8a1.55,1.55 0 1,0 3.1,0a1.55,1.55 0 1,0 -3.1,0M201.0,168.6a1.55,1.55 0 1,0 3.1,0a1.55,1.55 0 1,0 -3.1,0M200.0,168.2a1.55,1.55 0 1,0 3.1,0a1.55,1.55 0 1,0 -3.1,0M200.0,166.8a1.55,1.55 0 1,0 3.1,0a1.55,1.55 0 1,0 -3.1,0M200.7,165.2a1.55,1.55 0 1,0 3.1,0a1.55,1.55 0 1,0 -3.1,0M199.8,164.6a1.55,1.55 0 1,0 3.1,0a1.55,1.55 0 1,0 -3.1,0M200.3,162.8a1.55,1.55 0 1,0 3.1,0a1.55,1.55 0 1,0 -3.1,0M199.3,161.7a1.55,1.55 0 1,0 3.1,0a1.55,1.55 0 1,0 -3.1,0M198.1,161.1a1.55,1.55 0 1,0 3.1,0a1.55,1.55 0 1,0 -3.1,0M198.1,157.7a1.55,1.55 0 1,0 3.1,0a1.55,1.55 0 1,0 -3.1,0M196.4,157.2a1.55,1.55 0 1,0 3.1,0a1.55,1.55 0 1,0 -3.1,0M196.2,156.6a1.55,1.55 0 1,0 3.1,0a1.55,1.55 0 1,0 -3.1,0M194.7,153.7a1.55,1.55 0 1,0 3.1,0a1.55,1.55 0 1,0 -3.1,0M195.4,152.6a1.55,1.55 0 1,0 3.1,0a1.55,1.55 0 1,0 -3.1,0M194.7,151.6a1.55,1.55 0 1,0 3.1,0a1.55,1.55 0 1,0 -3.1,0M193.6,150.8a1.55,1.55 0 1,0 3.1,0a1.55,1.55 0 1,0 -3.1,0M192.4,149.8a1.55,1.55 0 1,0 3.1,0a1.55,1.55 0 1,0 -3.1,0M192.5,149.2a1.55,1.55 0 1,0 3.1,0a1.55,1.55 0 1,0 -3.1,0M191.4,145.0a1.55,1.55 0 1,0 3.1,0a1.55,1.55 0 1,0 -3.1,0M190.7,144.3a1.55,1.55 0 1,0 3.1,0a1.55,1.55 0 1,0 -3.1,0M190.1,143.0a1.55,1.55 0 1,0 3.1,0a1.55,1.55 0 1,0 -3.1,0M190.4,141.5a1.55,1.55 0 1,0 3.1,0a1.55,1.55 0 1,0 -3.1,0M187.5,138.7a1.55,1.55 0 1,0 3.1,0a1.55,1.55 0 1,0 -3.1,0M187.8,137.4a1.55,1.55 0 1,0 3.1,0a1.55,1.55 0 1,0 -3.1,0M184.7,132.8a1.55,1.55 0 1,0 3.1,0a1.55,1.55 0 1,0 -3.1,0M184.3,131.3a1.55,1.55 0 1,0 3.1,0a1.55,1.55 0 1,0 -3.1,0M183.4,128.6a1.55,1.55 0 1,0 3.1,0a1.55,1.55 0 1,0 -3.1,0M181.5,127.0a1.55,1.55 0 1,0 3.1,0a1.55,1.55 0 1,0 -3.1,0M180.2,123.5a1.55,1.55 0 1,0 3.1,0a1.55,1.55 0 1,0 -3.1,0M179.1,122.7a1.55,1.55 0 1,0 3.1,0a1.55,1.55 0 1,0 -3.1,0M177.9,122.4a1.55,1.55 0 1,0 3.1,0a1.55,1.55 0 1,0 -3.1,0M177.8,121.4a1.55,1.55 0 1,0 3.1,0a1.55,1.55 0 1,0 -3.1,0M177.3,119.7a1.55,1.55 0 1,0 3.1,0a1.55,1.55 0 1,0 -3.1,0M175.4,118.2a1.55,1.55 0 1,0 3.1,0a1.55,1.55 0 1,0 -3.1,0M174.5,117.7a1.55,1.55 0 1,0 3.1,0a1.55,1.55 0 1,0 -3.1,0M173.9,117.2a1.55,1.55 0 1,0 3.1,0a1.55,1.55 0 1,0 -3.1,0M171.6,113.5a1.55,1.55 0 1,0 3.1,0a1.55,1.55 0 1,0 -3.1,0M170.8,112.7a1.55,1.55 0 1,0 3.1,0a1.55,1.55 0 1,0 -3.1,0M170.7,110.9a1.55,1.55 0 1,0 3.1,0a1.55,1.55 0 1,0 -3.1,0M169.8,110.9a1.55,1.55 0 1,0 3.1,0a1.55,1.55 0 1,0 -3.1,0M169.2,109.0a1.55,1.55 0 1,0 3.1,0a1.55,1.55 0 1,0 -3.1,0M168.1,108.5a1.55,1.55 0 1,0 3.1,0a1.55,1.55 0 1,0 -3.1,0M166.8,107.9a1.55,1.55 0 1,0 3.1,0a1.55,1.55 0 1,0 -3.1,0M167.0,107.1a1.55,1.55 0 1,0 3.1,0a1.55,1.55 0 1,0 -3.1,0M166.5,105.8a1.55,1.55 0 1,0 3.1,0a1.55,1.55 0 1,0 -3.1,0M166.6,104.5a1.55,1.55 0 1,0 3.1,0a1.55,1.55 0 1,0 -3.1,0M165.3,102.8a1.55,1.55 0 1,0 3.1,0a1.55,1.55 0 1,0 -3.1,0M164.5,102.0a1.55,1.55 0 1,0 3.1,0a1.55,1.55 0 1,0 -3.1,0M163.5,99.4a1.55,1.55 0 1,0 3.1,0a1.55,1.55 0 1,0 -3.1,0M163.5,98.3a1.55,1.55 0 1,0 3.1,0a1.55,1.55 0 1,0 -3.1,0M162.9,97.0a1.55,1.55 0 1,0 3.1,0a1.55,1.55 0 1,0 -3.1,0M162.5,96.4a1.55,1.55 0 1,0 3.1,0a1.55,1.55 0 1,0 -3.1,0M161.3,95.8a1.55,1.55 0 1,0 3.1,0a1.55,1.55 0 1,0 -3.1,0M161.5,95.0a1.55,1.55 0 1,0 3.1,0a1.55,1.55 0 1,0 -3.1,0M158.8,94.5a1.55,1.55 0 1,0 3.1,0a1.55,1.55 0 1,0 -3.1,0M157.9,95.6a1.55,1.55 0 1,0 3.1,0a1.55,1.55 0 1,0 -3.1,0M256.6,101.1a1.55,1.55 0 1,0 3.1,0a1.55,1.55 0 1,0 -3.1,0M256.2,100.9a1.55,1.55 0 1,0 3.1,0a1.55,1.55 0 1,0 -3.1,0M255.3,102.4a1.55,1.55 0 1,0 3.1,0a1.55,1.55 0 1,0 -3.1,0M253.1,103.4a1.55,1.55 0 1,0 3.1,0a1.55,1.55 0 1,0 -3.1,0M252.7,103.8a1.55,1.55 0 1,0 3.1,0a1.55,1.55 0 1,0 -3.1,0M252.7,105.0a1.55,1.55 0 1,0 3.1,0a1.55,1.55 0 1,0 -3.1,0M251.1,106.0a1.55,1.55 0 1,0 3.1,0a1.55,1.55 0 1,0 -3.1,0M249.4,108.6a1.55,1.55 0 1,0 3.1,0a1.55,1.55 0 1,0 -3.1,0M247.4,110.5a1.55,1.55 0 1,0 3.1,0a1.55,1.55 0 1,0 -3.1,0M246.1,112.1a1.55,1.55 0 1,0 3.1,0a1.55,1.55 0 1,0 -3.1,0M244.6,113.3a1.55,1.55 0 1,0 3.1,0a1.55,1.55 0 1,0 -3.1,0M244.5,115.4a1.55,1.55 0 1,0 3.1,0a1.55,1.55 0 1,0 -3.1,0M244.1,116.1a1.55,1.55 0 1,0 3.1,0a1.55,1.55 0 1,0 -3.1,0M242.5,116.5a1.55,1.55 0 1,0 3.1,0a1.55,1.55 0 1,0 -3.1,0M243.2,118.5a1.55,1.55 0 1,0 3.1,0a1.55,1.55 0 1,0 -3.1,0M243.2,118.8a1.55,1.55 0 1,0 3.1,0a1.55,1.55 0 1,0 -3.1,0M241.1,120.4a1.55,1.55 0 1,0 3.1,0a1.55,1.55 0 1,0 -3.1,0M239.2,123.8a1.55,1.55 0 1,0 3.1,0a1.55,1.55 0 1,0 -3.1,0M237.5,125.3a1.55,1.55 0 1,0 3.1,0a1.55,1.55 0 1,0 -3.1,0M235.7,125.9a1.55,1.55 0 1,0 3.1,0a1.55,1.55 0 1,0 -3.1,0M235.1,127.6a1.55,1.55 0 1,0 3.1,0a1.55,1.55 0 1,0 -3.1,0M234.6,129.5a1.55,1.55 0 1,0 3.1,0a1.55,1.55 0 1,0 -3.1,0M233.3,130.1a1.55,1.55 0 1,0 3.1,0a1.55,1.55 0 1,0 -3.1,0M233.3,130.6a1.55,1.55 0 1,0 3.1,0a1.55,1.55 0 1,0 -3.1,0M233.0,132.5a1.55,1.55 0 1,0 3.1,0a1.55,1.55 0 1,0 -3.1,0M231.9,133.1a1.55,1.55 0 1,0 3.1,0a1.55,1.55 0 1,0 -3.1,0M231.9,133.5a1.55,1.55 0 1,0 3.1,0a1.55,1.55 0 1,0 -3.1,0M230.7,135.3a1.55,1.55 0 1,0 3.1,0a1.55,1.55 0 1,0 -3.1,0M230.8,136.6a1.55,1.55 0 1,0 3.1,0a1.55,1.55 0 1,0 -3.1,0M230.7,138.3a1.55,1.55 0 1,0 3.1,0a1.55,1.55 0 1,0 -3.1,0M230.0,139.2a1.55,1.55 0 1,0 3.1,0a1.55,1.55 0 1,0 -3.1,0M228.7,139.8a1.55,1.55 0 1,0 3.1,0a1.55,1.55 0 1,0 -3.1,0M229.6,140.8a1.55,1.55 0 1,0 3.1,0a1.55,1.55 0 1,0 -3.1,0M228.9,142.4a1.55,1.55 0 1,0 3.1,0a1.55,1.55 0 1,0 -3.1,0M227.5,143.3a1.55,1.55 0 1,0 3.1,0a1.55,1.55 0 1,0 -3.1,0M227.5,144.7a1.55,1.55 0 1,0 3.1,0a1.55,1.55 0 1,0 -3.1,0M226.9,145.4a1.55,1.55 0 1,0 3.1,0a1.55,1.55 0 1,0 -3.1,0M227.3,147.6a1.55,1.55 0 1,0 3.1,0a1.55,1.55 0 1,0 -3.1,0M225.6,148.1a1.55,1.55 0 1,0 3.1,0a1.55,1.55 0 1,0 -3.1,0M226.1,149.6a1.55,1.55 0 1,0 3.1,0a1.55,1.55 0 1,0 -3.1,0M224.9,149.7a1.55,1.55 0 1,0 3.1,0a1.55,1.55 0 1,0 -3.1,0M224.2,151.0a1.55,1.55 0 1,0 3.1,0a1.55,1.55 0 1,0 -3.1,0M223.9,151.8a1.55,1.55 0 1,0 3.1,0a1.55,1.55 0 1,0 -3.1,0M223.9,152.8a1.55,1.55 0 1,0 3.1,0a1.55,1.55 0 1,0 -3.1,0M223.7,154.4a1.55,1.55 0 1,0 3.1,0a1.55,1.55 0 1,0 -3.1,0M223.0,158.0a1.55,1.55 0 1,0 3.1,0a1.55,1.55 0 1,0 -3.1,0M221.1,160.9a1.55,1.55 0 1,0 3.1,0a1.55,1.55 0 1,0 -3.1,0M221.0,162.2a1.55,1.55 0 1,0 3.1,0a1.55,1.55 0 1,0 -3.1,0M218.9,163.4a1.55,1.55 0 1,0 3.1,0a1.55,1.55 0 1,0 -3.1,0M218.7,163.8a1.55,1.55 0 1,0 3.1,0a1.55,1.55 0 1,0 -3.1,0M218.9,165.0a1.55,1.55 0 1,0 3.1,0a1.55,1.55 0 1,0 -3.1,0M217.8,165.5a1.55,1.55 0 1,0 3.1,0a1.55,1.55 0 1,0 -3.1,0M218.4,167.4a1.55,1.55 0 1,0 3.1,0a1.55,1.55 0 1,0 -3.1,0M218.6,169.4a1.55,1.55 0 1,0 3.1,0a1.55,1.55 0 1,0 -3.1,0M217.4,170.7a1.55,1.55 0 1,0 3.1,0a1.55,1.55 0 1,0 -3.1,0M217.7,172.1a1.55,1.55 0 1,0 3.1,0a1.55,1.55 0 1,0 -3.1,0M217.6,175.7a1.55,1.55 0 1,0 3.1,0a1.55,1.55 0 1,0 -3.1,0M217.9,177.7a1.55,1.55 0 1,0 3.1,0a1.55,1.55 0 1,0 -3.1,0M218.1,179.6a1.55,1.55 0 1,0 3.1,0a1.55,1.55 0 1,0 -3.1,0M215.8,183.0a1.55,1.55 0 1,0 3.1,0a1.55,1.55 0 1,0 -3.1,0M216.7,184.0a1.55,1.55 0 1,0 3.1,0a1.55,1.55 0 1,0 -3.1,0M215.7,185.2a1.55,1.55 0 1,0 3.1,0a1.55,1.55 0 1,0 -3.1,0M215.6,185.9a1.55,1.55 0 1,0 3.1,0a1.55,1.55 0 1,0 -3.1,0M215.7,191.6a1.55,1.55 0 1,0 3.1,0a1.55,1.55 0 1,0 -3.1,0M215.6,192.4a1.55,1.55 0 1,0 3.1,0a1.55,1.55 0 1,0 -3.1,0M215.7,194.0a1.55,1.55 0 1,0 3.1,0a1.55,1.55 0 1,0 -3.1,0M215.1,194.2a1.55,1.55 0 1,0 3.1,0a1.55,1.55 0 1,0 -3.1,0M215.3,199.9a1.55,1.55 0 1,0 3.1,0a1.55,1.55 0 1,0 -3.1,0M217.0,199.0a1.55,1.55 0 1,0 3.1,0a1.55,1.55 0 1,0 -3.1,0M217.1,197.6a1.55,1.55 0 1,0 3.1,0a1.55,1.55 0 1,0 -3.1,0M217.9,196.2a1.55,1.55 0 1,0 3.1,0a1.55,1.55 0 1,0 -3.1,0M219.0,195.6a1.55,1.55 0 1,0 3.1,0a1.55,1.55 0 1,0 -3.1,0M220.2,194.6a1.55,1.55 0 1,0 3.1,0a1.55,1.55 0 1,0 -3.1,0M220.4,193.1a1.55,1.55 0 1,0 3.1,0a1.55,1.55 0 1,0 -3.1,0M221.4,191.9a1.55,1.55 0 1,0 3.1,0a1.55,1.55 0 1,0 -3.1,0M222.7,191.3a1.55,1.55 0 1,0 3.1,0a1.55,1.55 0 1,0 -3.1,0M222.5,190.7a1.55,1.55 0 1,0 3.1,0a1.55,1.55 0 1,0 -3.1,0M223.6,188.4a1.55,1.55 0 1,0 3.1,0a1.55,1.55 0 1,0 -3.1,0M224.7,187.5a1.55,1.55 0 1,0 3.1,0a1.55,1.55 0 1,0 -3.1,0M226.0,186.7a1.55,1.55 0 1,0 3.1,0a1.55,1.55 0 1,0 -3.1,0M225.9,185.7a1.55,1.55 0 1,0 3.1,0a1.55,1.55 0 1,0 -3.1,0M226.5,185.1a1.55,1.55 0 1,0 3.1,0a1.55,1.55 0 1,0 -3.1,0M226.5,184.4a1.55,1.55 0 1,0 3.1,0a1.55,1.55 0 1,0 -3.1,0M227.1,181.5a1.55,1.55 0 1,0 3.1,0a1.55,1.55 0 1,0 -3.1,0M228.5,181.4a1.55,1.55 0 1,0 3.1,0a1.55,1.55 0 1,0 -3.1,0M229.5,179.2a1.55,1.55 0 1,0 3.1,0a1.55,1.55 0 1,0 -3.1,0M229.2,178.1a1.55,1.55 0 1,0 3.1,0a1.55,1.55 0 1,0 -3.1,0M229.5,175.8a1.55,1.55 0 1,0 3.1,0a1.55,1.55 0 1,0 -3.1,0M230.1,175.0a1.55,1.55 0 1,0 3.1,0a1.55,1.55 0 1,0 -3.1,0M231.5,171.6a1.55,1.55 0 1,0 3.1,0a1.55,1.55 0 1,0 -3.1,0M234.2,170.3a1.55,1.55 0 1,0 3.1,0a1.55,1.55 0 1,0 -3.1,0M237.2,165.0a1.55,1.55 0 1,0 3.1,0a1.55,1.55 0 1,0 -3.1,0M237.6,164.0a1.55,1.55 0 1,0 3.1,0a1.55,1.55 0 1,0 -3.1,0M238.3,163.6a1.55,1.55 0 1,0 3.1,0a1.55,1.55 0 1,0 -3.1,0M238.5,161.2a1.55,1.55 0 1,0 3.1,0a1.55,1.55 0 1,0 -3.1,0M238.6,160.5a1.55,1.55 0 1,0 3.1,0a1.55,1.55 0 1,0 -3.1,0M238.2,159.4a1.55,1.55 0 1,0 3.1,0a1.55,1.55 0 1,0 -3.1,0M239.7,158.1a1.55,1.55 0 1,0 3.1,0a1.55,1.55 0 1,0 -3.1,0M240.9,155.8a1.55,1.55 0 1,0 3.1,0a1.55,1.55 0 1,0 -3.1,0M240.3,154.4a1.55,1.55 0 1,0 3.1,0a1.55,1.55 0 1,0 -3.1,0M241.6,153.8a1.55,1.55 0 1,0 3.1,0a1.55,1.55 0 1,0 -3.1,0M242.5,152.5a1.55,1.55 0 1,0 3.1,0a1.55,1.55 0 1,0 -3.1,0M242.5,151.0a1.55,1.55 0 1,0 3.1,0a1.55,1.55 0 1,0 -3.1,0M243.5,149.7a1.55,1.55 0 1,0 3.1,0a1.55,1.55 0 1,0 -3.1,0M243.3,149.1a1.55,1.55 0 1,0 3.1,0a1.55,1.55 0 1,0 -3.1,0M245.5,147.8a1.55,1.55 0 1,0 3.1,0a1.55,1.55 0 1,0 -3.1,0M246.1,147.6a1.55,1.55 0 1,0 3.1,0a1.55,1.55 0 1,0 -3.1,0M245.3,145.7a1.55,1.55 0 1,0 3.1,0a1.55,1.55 0 1,0 -3.1,0M248.4,144.2a1.55,1.55 0 1,0 3.1,0a1.55,1.55 0 1,0 -3.1,0M249.0,142.9a1.55,1.55 0 1,0 3.1,0a1.55,1.55 0 1,0 -3.1,0M250.4,139.8a1.55,1.55 0 1,0 3.1,0a1.55,1.55 0 1,0 -3.1,0M251.1,140.1a1.55,1.55 0 1,0 3.1,0a1.55,1.55 0 1,0 -3.1,0M251.0,138.7a1.55,1.55 0 1,0 3.1,0a1.55,1.55 0 1,0 -3.1,0M251.1,137.9a1.55,1.55 0 1,0 3.1,0a1.55,1.55 0 1,0 -3.1,0M252.0,136.8a1.55,1.55 0 1,0 3.1,0a1.55,1.55 0 1,0 -3.1,0M252.9,136.1a1.55,1.55 0 1,0 3.1,0a1.55,1.55 0 1,0 -3.1,0M253.3,134.0a1.55,1.55 0 1,0 3.1,0a1.55,1.55 0 1,0 -3.1,0M254.3,132.9a1.55,1.55 0 1,0 3.1,0a1.55,1.55 0 1,0 -3.1,0M253.7,130.5a1.55,1.55 0 1,0 3.1,0a1.55,1.55 0 1,0 -3.1,0M253.8,130.2a1.55,1.55 0 1,0 3.1,0a1.55,1.55 0 1,0 -3.1,0M254.3,129.0a1.55,1.55 0 1,0 3.1,0a1.55,1.55 0 1,0 -3.1,0M255.6,128.3a1.55,1.55 0 1,0 3.1,0a1.55,1.55 0 1,0 -3.1,0M256.3,126.2a1.55,1.55 0 1,0 3.1,0a1.55,1.55 0 1,0 -3.1,0M255.6,125.4a1.55,1.55 0 1,0 3.1,0a1.55,1.55 0 1,0 -3.1,0M257.3,124.0a1.55,1.55 0 1,0 3.1,0a1.55,1.55 0 1,0 -3.1,0M256.5,122.9a1.55,1.55 0 1,0 3.1,0a1.55,1.55 0 1,0 -3.1,0M257.7,122.7a1.55,1.55 0 1,0 3.1,0a1.55,1.55 0 1,0 -3.1,0M257.4,116.9a1.55,1.55 0 1,0 3.1,0a1.55,1.55 0 1,0 -3.1,0M257.6,116.5a1.55,1.55 0 1,0 3.1,0a1.55,1.55 0 1,0 -3.1,0M257.8,115.4a1.55,1.55 0 1,0 3.1,0a1.55,1.55 0 1,0 -3.1,0M257.8,114.0a1.55,1.55 0 1,0 3.1,0a1.55,1.55 0 1,0 -3.1,0M259.3,113.4a1.55,1.55 0 1,0 3.1,0a1.55,1.55 0 1,0 -3.1,0M258.7,112.8a1.55,1.55 0 1,0 3.1,0a1.55,1.55 0 1,0 -3.1,0M259.2,110.7a1.55,1.55 0 1,0 3.1,0a1.55,1.55 0 1,0 -3.1,0M257.9,109.8a1.55,1.55 0 1,0 3.1,0a1.55,1.55 0 1,0 -3.1,0M259.8,106.9a1.55,1.55 0 1,0 3.1,0a1.55,1.55 0 1,0 -3.1,0M259.2,105.3a1.55,1.55 0 1,0 3.1,0a1.55,1.55 0 1,0 -3.1,0M258.0,104.0a1.55,1.55 0 1,0 3.1,0a1.55,1.55 0 1,0 -3.1,0M258.0,101.9a1.55,1.55 0 1,0 3.1,0a1.55,1.55 0 1,0 -3.1,0M258.5,100.9a1.55,1.55 0 1,0 3.1,0a1.55,1.55 0 1,0 -3.1,0M259.7,100.2a1.55,1.55 0 1,0 3.1,0a1.55,1.55 0 1,0 -3.1,0M257.9,100.3a1.55,1.55 0 1,0 3.1,0a1.55,1.55 0 1,0 -3.1,0M257.4,98.9a1.55,1.55 0 1,0 3.1,0a1.55,1.55 0 1,0 -3.1,0" fill="#ffff00"/>
<path d="M180.8,141.2 C180.8,142.2 183.0,143.7 183.9,145.0 C184.7,146.4 185.2,147.9 185.9,149.3 C186.5,150.7 187.1,152.0 187.8,153.5 C188.4,154.9 189.0,156.6 189.6,157.8 C190.2,159.0 190.6,159.3 191.3,160.8 C192.0,162.3 193.0,164.7 193.7,166.7 C194.4,168.6 195.1,170.7 195.6,172.5 C196.1,174.3 196.4,175.8 196.8,177.4 C197.1,179.1 197.7,181.1 197.9,182.3 C198.2,183.5 197.4,184.3 198.1,184.7 C198.8,185.0 201.3,184.8 201.9,184.3 C202.5,183.8 201.9,183.0 201.7,181.7 C201.4,180.4 200.9,178.3 200.4,176.6 C200.0,174.9 199.8,173.4 199.2,171.5 C198.7,169.6 198.0,167.4 197.3,165.3 C196.5,163.3 195.4,160.7 194.7,159.2 C194.0,157.7 193.6,157.4 193.0,156.2 C192.4,155.0 191.9,153.4 191.2,151.9 C190.6,150.5 190.0,149.2 189.3,147.7 C188.6,146.2 188.0,144.5 187.1,143.0 C186.2,141.5 184.8,139.1 183.8,138.8 C182.7,138.5 180.8,140.2 180.8,141.2 Z" fill="#ff0000"/>
<path d="M234.2,140.7 C233.0,141.1 231.9,144.1 230.9,145.8 C229.9,147.6 228.9,149.3 228.2,151.2 C227.5,153.1 227.3,155.5 226.7,157.3 C226.1,159.1 225.4,160.6 224.8,162.1 C224.2,163.6 223.6,164.5 223.0,166.3 C222.5,168.0 221.9,170.4 221.5,172.5 C221.0,174.5 220.6,176.8 220.2,178.4 C219.8,180.0 219.3,181.3 219.0,182.2 C218.7,183.1 217.7,183.2 218.3,183.8 C218.9,184.4 221.8,185.8 222.7,185.8 C223.6,185.8 223.2,184.8 223.6,183.8 C223.9,182.8 224.4,181.3 224.8,179.6 C225.3,177.9 225.7,175.5 226.1,173.5 C226.6,171.6 227.1,169.3 227.6,167.7 C228.1,166.1 228.6,165.4 229.2,163.9 C229.8,162.4 230.7,160.6 231.3,158.7 C231.9,156.9 232.1,154.6 232.8,152.8 C233.4,151.1 234.2,149.8 235.1,148.2 C236.0,146.6 238.4,144.5 238.2,143.3 C238.1,142.0 235.4,140.3 234.2,140.7 Z" fill="#ff0000"/>
<path d="M178.2,135.8a1.7,1.7 0 1,0 3.4,0a1.7,1.7 0 1,0 -3.4,0M180.0,134.2a1.7,1.7 0 1,0 3.4,0a1.7,1.7 0 1,0 -3.4,0M178.7,132.7a1.7,1.7 0 1,0 3.4,0a1.7,1.7 0 1,0 -3.4,0M177.8,133.4a1.7,1.7 0 1,0 3.4,0a1.7,1.7 0 1,0 -3.4,0M176.7,132.1a1.7,1.7 0 1,0 3.4,0a1.7,1.7 0 1,0 -3.4,0M178.8,131.6a1.7,1.7 0 1,0 3.4,0a1.7,1.7 0 1,0 -3.4,0M180.2,133.9a1.7,1.7 0 1,0 3.4,0a1.7,1.7 0 1,0 -3.4,0M176.3,133.1a1.7,1.7 0 1,0 3.4,0a1.7,1.7 0 1,0 -3.4,0M180.4,136.7a1.7,1.7 0 1,0 3.4,0a1.7,1.7 0 1,0 -3.4,0M178.5,139.9a1.7,1.7 0 1,0 3.4,0a1.7,1.7 0 1,0 -3.4,0M178.6,136.1a1.7,1.7 0 1,0 3.4,0a1.7,1.7 0 1,0 -3.4,0M178.7,138.7a1.7,1.7 0 1,0 3.4,0a1.7,1.7 0 1,0 -3.4,0M177.3,137.6a1.7,1.7 0 1,0 3.4,0a1.7,1.7 0 1,0 -3.4,0M178.4,139.2a1.7,1.7 0 1,0 3.4,0a1.7,1.7 0 1,0 -3.4,0M179.7,140.3a1.7,1.7 0 1,0 3.4,0a1.7,1.7 0 1,0 -3.4,0M180.6,138.2a1.7,1.7 0 1,0 3.4,0a1.7,1.7 0 1,0 -3.4,0M179.3,136.8a1.7,1.7 0 1,0 3.4,0a1.7,1.7 0 1,0 -3.4,0M183.3,141.7a1.7,1.7 0 1,0 3.4,0a1.7,1.7 0 1,0 -3.4,0M183.4,143.7a1.7,1.7 0 1,0 3.4,0a1.7,1.7 0 1,0 -3.4,0M183.2,144.4a1.7,1.7 0 1,0 3.4,0a1.7,1.7 0 1,0 -3.4,0M183.5,142.5a1.7,1.7 0 1,0 3.4,0a1.7,1.7 0 1,0 -3.4,0M183.8,143.9a1.7,1.7 0 1,0 3.4,0a1.7,1.7 0 1,0 -3.4,0M183.1,142.4a1.7,1.7 0 1,0 3.4,0a1.7,1.7 0 1,0 -3.4,0M183.5,141.1a1.7,1.7 0 1,0 3.4,0a1.7,1.7 0 1,0 -3.4,0M182.1,141.2a1.7,1.7 0 1,0 3.4,0a1.7,1.7 0 1,0 -3.4,0M184.3,141.9a1.7,1.7 0 1,0 3.4,0a1.7,1.7 0 1,0 -3.4,0M180.7,141.2a1.7,1.7 0 1,0 3.4,0a1.7,1.7 0 1,0 -3.4,0M187.7,147.0a1.7,1.7 0 1,0 3.4,0a1.7,1.7 0 1,0 -3.4,0M183.3,146.7a1.7,1.7 0 1,0 3.4,0a1.7,1.7 0 1,0 -3.4,0M186.0,147.1a1.7,1.7 0 1,0 3.4,0a1.7,1.7 0 1,0 -3.4,0M185.3,146.1a1.7,1.7 0 1,0 3.4,0a1.7,1.7 0 1,0 -3.4,0M185.6,143.2a1.7,1.7 0 1,0 3.4,0a1.7,1.7 0 1,0 -3.4,0M182.7,145.8a1.7,1.7 0 1,0 3.4,0a1.7,1.7 0 1,0 -3.4,0M185.1,144.4a1.7,1.7 0 1,0 3.4,0a1.7,1.7 0 1,0 -3.4,0M184.1,146.9a1.7,1.7 0 1,0 3.4,0a1.7,1.7 0 1,0 -3.4,0M186.0,146.5a1.7,1.7 0 1,0 3.4,0a1.7,1.7 0 1,0 -3.4,0M184.6,149.1a1.7,1.7 0 1,0 3.4,0a1.7,1.7 0 1,0 -3.4,0M187.5,149.7a1.7,1.7 0 1,0 3.4,0a1.7,1.7 0 1,0 -3.4,0M186.3,149.4a1.7,1.7 0 1,0 3.4,0a1.7,1.7 0 1,0 -3.4,0M186.9,148.8a1.7,1.7 0 1,0 3.4,0a1.7,1.7 0 1,0 -3.4,0M187.5,148.3a1.7,1.7 0 1,0 3.4,0a1.7,1.7 0 1,0 -3.4,0M187.7,150.4a1.7,1.7 0 1,0 3.4,0a1.7,1.7 0 1,0 -3.4,0M184.5,149.7a1.7,1.7 0 1,0 3.4,0a1.7,1.7 0 1,0 -3.4,0M186.4,148.6a1.7,1.7 0 1,0 3.4,0a1.7,1.7 0 1,0 -3.4,0M188.8,152.6a1.7,1.7 0 1,0 3.4,0a1.7,1.7 0 1,0 -3.4,0M187.8,154.9a1.7,1.7 0 1,0 3.4,0a1.7,1.7 0 1,0 -3.4,0M188.8,153.6a1.7,1.7 0 1,0 3.4,0a1.7,1.7 0 1,0 -3.4,0M188.8,156.8a1.7,1.7 0 1,0 3.4,0a1.7,1.7 0 1,0 -3.4,0M189.9,154.1a1.7,1.7 0 1,0 3.4,0a1.7,1.7 0 1,0 -3.4,0M187.3,156.9a1.7,1.7 0 1,0 3.4,0a1.7,1.7 0 1,0 -3.4,0M186.7,154.4a1.7,1.7 0 1,0 3.4,0a1.7,1.7 0 1,0 -3.4,0M188.6,154.3a1.7,1.7 0 1,0 3.4,0a1.7,1.7 0 1,0 -3.4,0M191.1,157.1a1.7,1.7 0 1,0 3.4,0a1.7,1.7 0 1,0 -3.4,0M188.6,158.4a1.7,1.7 0 1,0 3.4,0a1.7,1.7 0 1,0 -3.4,0M192.0,159.4a1.7,1.7 0 1,0 3.4,0a1.7,1.7 0 1,0 -3.4,0M191.8,158.9a1.7,1.7 0 1,0 3.4,0a1.7,1.7 0 1,0 -3.4,0M191.9,158.0a1.7,1.7 0 1,0 3.4,0a1.7,1.7 0 1,0 -3.4,0M191.1,159.8a1.7,1.7 0 1,0 3.4,0a1.7,1.7 0 1,0 -3.4,0M193.2,164.8a1.7,1.7 0 1,0 3.4,0a1.7,1.7 0 1,0 -3.4,0M191.6,163.3a1.7,1.7 0 1,0 3.4,0a1.7,1.7 0 1,0 -3.4,0M192.1,163.0a1.7,1.7 0 1,0 3.4,0a1.7,1.7 0 1,0 -3.4,0M193.6,161.2a1.7,1.7 0 1,0 3.4,0a1.7,1.7 0 1,0 -3.4,0M189.8,162.2a1.7,1.7 0 1,0 3.4,0a1.7,1.7 0 1,0 -3.4,0M194.9,162.7a1.7,1.7 0 1,0 3.4,0a1.7,1.7 0 1,0 -3.4,0M191.4,161.3a1.7,1.7 0 1,0 3.4,0a1.7,1.7 0 1,0 -3.4,0M190.4,164.0a1.7,1.7 0 1,0 3.4,0a1.7,1.7 0 1,0 -3.4,0M195.5,164.6a1.7,1.7 0 1,0 3.4,0a1.7,1.7 0 1,0 -3.4,0M191.2,165.7a1.7,1.7 0 1,0 3.4,0a1.7,1.7 0 1,0 -3.4,0M191.2,165.3a1.7,1.7 0 1,0 3.4,0a1.7,1.7 0 1,0 -3.4,0M191.7,162.5a1.7,1.7 0 1,0 3.4,0a1.7,1.7 0 1,0 -3.4,0M194.3,171.1a1.7,1.7 0 1,0 3.4,0a1.7,1.7 0 1,0 -3.4,0M196.1,170.7a1.7,1.7 0 1,0 3.4,0a1.7,1.7 0 1,0 -3.4,0M194.9,170.9a1.7,1.7 0 1,0 3.4,0a1.7,1.7 0 1,0 -3.4,0M196.4,171.5a1.7,1.7 0 1,0 3.4,0a1.7,1.7 0 1,0 -3.4,0M193.3,170.2a1.7,1.7 0 1,0 3.4,0a1.7,1.7 0 1,0 -3.4,0M194.3,170.8a1.7,1.7 0 1,0 3.4,0a1.7,1.7 0 1,0 -3.4,0M195.7,166.4a1.7,1.7 0 1,0 3.4,0a1.7,1.7 0 1,0 -3.4,0M193.7,168.1a1.7,1.7 0 1,0 3.4,0a1.7,1.7 0 1,0 -3.4,0M193.1,166.4a1.7,1.7 0 1,0 3.4,0a1.7,1.7 0 1,0 -3.4,0M195.4,166.3a1.7,1.7 0 1,0 3.4,0a1.7,1.7 0 1,0 -3.4,0M194.1,167.7a1.7,1.7 0 1,0 3.4,0a1.7,1.7 0 1,0 -3.4,0M193.1,171.0a1.7,1.7 0 1,0 3.4,0a1.7,1.7 0 1,0 -3.4,0M194.1,172.8a1.7,1.7 0 1,0 3.4,0a1.7,1.7 0 1,0 -3.4,0M194.5,175.4a1.7,1.7 0 1,0 3.4,0a1.7,1.7 0 1,0 -3.4,0M198.3,175.2a1.7,1.7 0 1,0 3.4,0a1.7,1.7 0 1,0 -3.4,0M197.4,173.5a1.7,1.7 0 1,0 3.4,0a1.7,1.7 0 1,0 -3.4,0M197.2,174.0a1.7,1.7 0 1,0 3.4,0a1.7,1.7 0 1,0 -3.4,0M194.9,176.8a1.7,1.7 0 1,0 3.4,0a1.7,1.7 0 1,0 -3.4,0M193.6,173.5a1.7,1.7 0 1,0 3.4,0a1.7,1.7 0 1,0 -3.4,0M197.4,176.7a1.7,1.7 0 1,0 3.4,0a1.7,1.7 0 1,0 -3.4,0M194.7,176.9a1.7,1.7 0 1,0 3.4,0a1.7,1.7 0 1,0 -3.4,0M196.7,179.0a1.7,1.7 0 1,0 3.4,0a1.7,1.7 0 1,0 -3.4,0M198.6,180.7a1.7,1.7 0 1,0 3.4,0a1.7,1.7 0 1,0 -3.4,0M199.4,178.9a1.7,1.7 0 1,0 3.4,0a1.7,1.7 0 1,0 -3.4,0M195.7,178.1a1.7,1.7 0 1,0 3.4,0a1.7,1.7 0 1,0 -3.4,0M196.3,178.8a1.7,1.7 0 1,0 3.4,0a1.7,1.7 0 1,0 -3.4,0M196.4,179.4a1.7,1.7 0 1,0 3.4,0a1.7,1.7 0 1,0 -3.4,0M199.2,178.0a1.7,1.7 0 1,0 3.4,0a1.7,1.7 0 1,0 -3.4,0M198.8,180.1a1.7,1.7 0 1,0 3.4,0a1.7,1.7 0 1,0 -3.4,0M197.3,178.0a1.7,1.7 0 1,0 3.4,0a1.7,1.7 0 1,0 -3.4,0M197.3,184.3a1.7,1.7 0 1,0 3.4,0a1.7,1.7 0 1,0 -3.4,0M198.5,183.1a1.7,1.7 0 1,0 3.4,0a1.7,1.7 0 1,0 -3.4,0M200.0,183.4a1.7,1.7 0 1,0 3.4,0a1.7,1.7 0 1,0 -3.4,0M197.7,182.8a1.7,1.7 0 1,0 3.4,0a1.7,1.7 0 1,0 -3.4,0M197.8,184.4a1.7,1.7 0 1,0 3.4,0a1.7,1.7 0 1,0 -3.4,0M230.0,145.9a1.7,1.7 0 1,0 3.4,0a1.7,1.7 0 1,0 -3.4,0M234.4,143.5a1.7,1.7 0 1,0 3.4,0a1.7,1.7 0 1,0 -3.4,0M233.2,141.4a1.7,1.7 0 1,0 3.4,0a1.7,1.7 0 1,0 -3.4,0M232.3,142.1a1.7,1.7 0 1,0 3.4,0a1.7,1.7 0 1,0 -3.4,0M230.9,144.8a1.7,1.7 0 1,0 3.4,0a1.7,1.7 0 1,0 -3.4,0M233.9,145.6a1.7,1.7 0 1,0 3.4,0a1.7,1.7 0 1,0 -3.4,0M233.9,141.9a1.7,1.7 0 1,0 3.4,0a1.7,1.7 0 1,0 -3.4,0M234.4,142.0a1.7,1.7 0 1,0 3.4,0a1.7,1.7 0 1,0 -3.4,0M233.7,147.0a1.7,1.7 0 1,0 3.4,0a1.7,1.7 0 1,0 -3.4,0M232.9,144.1a1.7,1.7 0 1,0 3.4,0a1.7,1.7 0 1,0 -3.4,0M235.4,143.7a1.7,1.7 0 1,0 3.4,0a1.7,1.7 0 1,0 -3.4,0M234.1,146.0a1.7,1.7 0 1,0 3.4,0a1.7,1.7 0 1,0 -3.4,0M228.6,147.0a1.7,1.7 0 1,0 3.4,0a1.7,1.7 0 1,0 -3.4,0M231.0,152.5a1.7,1.7 0 1,0 3.4,0a1.7,1.7 0 1,0 -3.4,0M230.3,150.1a1.7,1.7 0 1,0 3.4,0a1.7,1.7 0 1,0 -3.4,0M232.5,147.8a1.7,1.7 0 1,0 3.4,0a1.7,1.7 0 1,0 -3.4,0M232.1,151.5a1.7,1.7 0 1,0 3.4,0a1.7,1.7 0 1,0 -3.4,0M230.0,152.3a1.7,1.7 0 1,0 3.4,0a1.7,1.7 0 1,0 -3.4,0M228.2,147.6a1.7,1.7 0 1,0 3.4,0a1.7,1.7 0 1,0 -3.4,0M232.8,148.6a1.7,1.7 0 1,0 3.4,0a1.7,1.7 0 1,0 -3.4,0M231.1,149.8a1.7,1.7 0 1,0 3.4,0a1.7,1.7 0 1,0 -3.4,0M230.1,148.4a1.7,1.7 0 1,0 3.4,0a1.7,1.7 0 1,0 -3.4,0M229.4,152.0a1.7,1.7 0 1,0 3.4,0a1.7,1.7 0 1,0 -3.4,0M226.3,153.8a1.7,1.7 0 1,0 3.4,0a1.7,1.7 0 1,0 -3.4,0M230.5,155.2a1.7,1.7 0 1,0 3.4,0a1.7,1.7 0 1,0 -3.4,0M229.9,153.9a1.7,1.7 0 1,0 3.4,0a1.7,1.7 0 1,0 -3.4,0M229.3,154.4a1.7,1.7 0 1,0 3.4,0a1.7,1.7 0 1,0 -3.4,0M226.6,155.7a1.7,1.7 0 1,0 3.4,0a1.7,1.7 0 1,0 -3.4,0M230.7,152.7a1.7,1.7 0 1,0 3.4,0a1.7,1.7 0 1,0 -3.4,0M225.5,156.4a1.7,1.7 0 1,0 3.4,0a1.7,1.7 0 1,0 -3.4,0M229.4,157.2a1.7,1.7 0 1,0 3.4,0a1.7,1.7 0 1,0 -3.4,0M230.1,156.7a1.7,1.7 0 1,0 3.4,0a1.7,1.7 0 1,0 -3.4,0M229.3,156.4a1.7,1.7 0 1,0 3.4,0a1.7,1.7 0 1,0 -3.4,0M225.7,156.6a1.7,1.7 0 1,0 3.4,0a1.7,1.7 0 1,0 -3.4,0M226.9,154.5a1.7,1.7 0 1,0 3.4,0a1.7,1.7 0 1,0 -3.4,0M224.7,162.2a1.7,1.7 0 1,0 3.4,0a1.7,1.7 0 1,0 -3.4,0M226.8,161.4a1.7,1.7 0 1,0 3.4,0a1.7,1.7 0 1,0 -3.4,0M227.8,162.2a1.7,1.7 0 1,0 3.4,0a1.7,1.7 0 1,0 -3.4,0M228.5,161.2a1.7,1.7 0 1,0 3.4,0a1.7,1.7 0 1,0 -3.4,0M226.2,158.1a1.7,1.7 0 1,0 3.4,0a1.7,1.7 0 1,0 -3.4,0M228.0,160.7a1.7,1.7 0 1,0 3.4,0a1.7,1.7 0 1,0 -3.4,0M226.5,163.2a1.7,1.7 0 1,0 3.4,0a1.7,1.7 0 1,0 -3.4,0M226.3,160.7a1.7,1.7 0 1,0 3.4,0a1.7,1.7 0 1,0 -3.4,0M224.4,157.9a1.7,1.7 0 1,0 3.4,0a1.7,1.7 0 1,0 -3.4,0M223.7,161.0a1.7,1.7 0 1,0 3.4,0a1.7,1.7 0 1,0 -3.4,0M224.6,158.6a1.7,1.7 0 1,0 3.4,0a1.7,1.7 0 1,0 -3.4,0M225.4,167.5a1.7,1.7 0 1,0 3.4,0a1.7,1.7 0 1,0 -3.4,0M227.2,164.5a1.7,1.7 0 1,0 3.4,0a1.7,1.7 0 1,0 -3.4,0M224.1,162.9a1.7,1.7 0 1,0 3.4,0a1.7,1.7 0 1,0 -3.4,0M225.4,163.3a1.7,1.7 0 1,0 3.4,0a1.7,1.7 0 1,0 -3.4,0M223.5,163.9a1.7,1.7 0 1,0 3.4,0a1.7,1.7 0 1,0 -3.4,0M224.1,162.7a1.7,1.7 0 1,0 3.4,0a1.7,1.7 0 1,0 -3.4,0M224.7,167.3a1.7,1.7 0 1,0 3.4,0a1.7,1.7 0 1,0 -3.4,0M223.4,164.1a1.7,1.7 0 1,0 3.4,0a1.7,1.7 0 1,0 -3.4,0M223.0,163.5a1.7,1.7 0 1,0 3.4,0a1.7,1.7 0 1,0 -3.4,0M223.4,168.4a1.7,1.7 0 1,0 3.4,0a1.7,1.7 0 1,0 -3.4,0M223.1,167.8a1.7,1.7 0 1,0 3.4,0a1.7,1.7 0 1,0 -3.4,0M220.4,168.7a1.7,1.7 0 1,0 3.4,0a1.7,1.7 0 1,0 -3.4,0M219.8,170.7a1.7,1.7 0 1,0 3.4,0a1.7,1.7 0 1,0 -3.4,0M220.6,171.4a1.7,1.7 0 1,0 3.4,0a1.7,1.7 0 1,0 -3.4,0M222.1,169.1a1.7,1.7 0 1,0 3.4,0a1.7,1.7 0 1,0 -3.4,0M224.3,167.9a1.7,1.7 0 1,0 3.4,0a1.7,1.7 0 1,0 -3.4,0M219.6,171.9a1.7,1.7 0 1,0 3.4,0a1.7,1.7 0 1,0 -3.4,0M223.4,168.0a1.7,1.7 0 1,0 3.4,0a1.7,1.7 0 1,0 -3.4,0M222.3,169.3a1.7,1.7 0 1,0 3.4,0a1.7,1.7 0 1,0 -3.4,0M224.0,170.9a1.7,1.7 0 1,0 3.4,0a1.7,1.7 0 1,0 -3.4,0M222.6,172.3a1.7,1.7 0 1,0 3.4,0a1.7,1.7 0 1,0 -3.4,0M221.2,171.4a1.7,1.7 0 1,0 3.4,0a1.7,1.7 0 1,0 -3.4,0M220.9,176.0a1.7,1.7 0 1,0 3.4,0a1.7,1.7 0 1,0 -3.4,0M222.6,178.0a1.7,1.7 0 1,0 3.4,0a1.7,1.7 0 1,0 -3.4,0M220.3,172.9a1.7,1.7 0 1,0 3.4,0a1.7,1.7 0 1,0 -3.4,0M219.8,176.9a1.7,1.7 0 1,0 3.4,0a1.7,1.7 0 1,0 -3.4,0M222.7,178.2a1.7,1.7 0 1,0 3.4,0a1.7,1.7 0 1,0 -3.4,0M220.2,178.1a1.7,1.7 0 1,0 3.4,0a1.7,1.7 0 1,0 -3.4,0M220.6,178.6a1.7,1.7 0 1,0 3.4,0a1.7,1.7 0 1,0 -3.4,0M223.4,178.7a1.7,1.7 0 1,0 3.4,0a1.7,1.7 0 1,0 -3.4,0M221.6,173.9a1.7,1.7 0 1,0 3.4,0a1.7,1.7 0 1,0 -3.4,0M221.9,177.1a1.7,1.7 0 1,0 3.4,0a1.7,1.7 0 1,0 -3.4,0M219.9,173.0a1.7,1.7 0 1,0 3.4,0a1.7,1.7 0 1,0 -3.4,0M219.9,173.0a1.7,1.7 0 1,0 3.4,0a1.7,1.7 0 1,0 -3.4,0M220.7,174.2a1.7,1.7 0 1,0 3.4,0a1.7,1.7 0 1,0 -3.4,0M221.4,180.2a1.7,1.7 0 1,0 3.4,0a1.7,1.7 0 1,0 -3.4,0M220.3,179.9a1.7,1.7 0 1,0 3.4,0a1.7,1.7 0 1,0 -3.4,0M220.2,180.0a1.7,1.7 0 1,0 3.4,0a1.7,1.7 0 1,0 -3.4,0M222.5,180.7a1.7,1.7 0 1,0 3.4,0a1.7,1.7 0 1,0 -3.4,0M221.2,182.2a1.7,1.7 0 1,0 3.4,0a1.7,1.7 0 1,0 -3.4,0M220.2,182.9a1.7,1.7 0 1,0 3.4,0a1.7,1.7 0 1,0 -3.4,0M219.3,179.7a1.7,1.7 0 1,0 3.4,0a1.7,1.7 0 1,0 -3.4,0M220.4,182.8a1.7,1.7 0 1,0 3.4,0a1.7,1.7 0 1,0 -3.4,0M216.8,182.5a1.7,1.7 0 1,0 3.4,0a1.7,1.7 0 1,0 -3.4,0M221.7,184.6a1.7,1.7 0 1,0 3.4,0a1.7,1.7 0 1,0 -3.4,0M219.4,182.9a1.7,1.7 0 1,0 3.4,0a1.7,1.7 0 1,0 -3.4,0M220.2,184.6a1.7,1.7 0 1,0 3.4,0a1.7,1.7 0 1,0 -3.4,0" fill="#ff0000"/>
<path d="M190.8,93.0 C191.4,92.0 192.8,92.1 194.0,92.0 C195.2,91.9 196.9,91.8 198.0,92.5 C199.1,93.2 200.0,93.9 200.5,96.0 C201.0,98.1 201.0,101.8 201.0,105.0 C201.0,108.2 200.8,112.3 200.5,115.0 C200.2,117.7 199.9,119.2 199.5,121.0 C199.1,122.8 198.6,124.4 198.0,125.5 C197.4,126.6 196.7,127.4 196.0,127.5 C195.3,127.6 194.6,126.9 194.0,126.0 C193.4,125.1 192.9,123.8 192.5,122.0 C192.1,120.2 191.8,117.8 191.5,115.0 C191.2,112.2 190.7,107.8 190.5,105.0 C190.3,102.2 190.2,100.0 190.3,98.0 C190.4,96.0 190.2,94.0 190.8,93.0 Z" fill="#0000ff"/>
<path d="M214.5,100.5 C215.2,99.9 216.8,99.6 218.0,99.5 C219.2,99.4 220.8,99.2 221.5,100.0 C222.2,100.8 222.0,102.3 222.0,104.0 C222.0,105.7 221.8,107.8 221.6,110.0 C221.3,112.2 220.9,114.8 220.5,117.0 C220.1,119.2 219.7,121.2 219.0,123.0 C218.3,124.8 217.2,127.2 216.5,127.5 C215.8,127.8 214.9,126.6 214.5,125.0 C214.1,123.4 213.9,120.8 213.8,118.0 C213.7,115.2 213.7,110.5 213.7,108.0 C213.7,105.5 213.8,104.2 213.9,103.0 C214.0,101.8 213.8,101.1 214.5,100.5 Z" fill="#0000ff"/>
</g>
<line x1="207.5" y1="51.7" x2="199.8" y2="96.2" stroke="#000" stroke-width="3.3"/>
<path d="M198.3,104.6 L195.0,94.4 L204.9,96.1 Z" fill="#000"/>
<line x1="225.2" y1="51.7" x2="218.6" y2="95.9" stroke="#000" stroke-width="3.3"/>
<path d="M217.4,104.3 L213.8,94.2 L223.7,95.6 Z" fill="#000"/>
<line x1="173.0" y1="223.3" x2="184.9" y2="162.4" stroke="#000" stroke-width="3.2"/>
<path d="M186.5,154.1 L189.6,164.4 L179.8,162.5 Z" fill="#000"/>
<line x1="264.0" y1="223.5" x2="235.6" y2="161.8" stroke="#000" stroke-width="3.2"/>
<path d="M232.1,154.1 L240.6,160.6 L231.5,164.8 Z" fill="#000"/>
<rect x="58.5" y="5.5" width="297.2" height="290.2" fill="none" stroke="#454545" stroke-width="1.1"/>
<line x1="88.5" y1="295.5" x2="88.5" y2="292.7" stroke="#454545" stroke-width="0.85"/><line x1="88.5" y1="5.5" x2="88.5" y2="8.3" stroke="#454545" stroke-width="0.85"/><text x="71.71" y="308.00" font-size="12.5" textLength="30.97" lengthAdjust="spacingAndGlyphs">−0.6</text>
<line x1="127.5" y1="295.5" x2="127.5" y2="292.7" stroke="#454545" stroke-width="0.85"/><line x1="127.5" y1="5.5" x2="127.5" y2="8.3" stroke="#454545" stroke-width="0.85"/><text x="111.37" y="308.00" font-size="12.5" textLength="30.97" lengthAdjust="spacingAndGlyphs">−0.4</text>
<line x1="167.5" y1="295.5" x2="167.5" y2="292.7" stroke="#454545" stroke-width="0.85"/><line x1="167.5" y1="5.5" x2="167.5" y2="8.3" stroke="#454545" stroke-width="0.85"/><text x="151.03" y="308.00" font-size="12.5" textLength="30.97" lengthAdjust="spacingAndGlyphs">−0.2</text>
<line x1="207.5" y1="295.5" x2="207.5" y2="292.7" stroke="#454545" stroke-width="0.85"/><line x1="207.5" y1="5.5" x2="207.5" y2="8.3" stroke="#454545" stroke-width="0.85"/><text x="198.00" y="308.00" font-size="12.5" textLength="18.41" lengthAdjust="spacingAndGlyphs">0.0</text>
<line x1="246.5" y1="295.5" x2="246.5" y2="292.7" stroke="#454545" stroke-width="0.85"/><line x1="246.5" y1="5.5" x2="246.5" y2="8.3" stroke="#454545" stroke-width="0.85"/><text x="237.66" y="308.00" font-size="12.5" textLength="18.41" lengthAdjust="spacingAndGlyphs">0.2</text>
<line x1="286.5" y1="295.5" x2="286.5" y2="292.7" stroke="#454545" stroke-width="0.85"/><line x1="286.5" y1="5.5" x2="286.5" y2="8.3" stroke="#454545" stroke-width="0.85"/><text x="277.32" y="308.00" font-size="12.5" textLength="18.41" lengthAdjust="spacingAndGlyphs">0.4</text>
<line x1="325.5" y1="295.5" x2="325.5" y2="292.7" stroke="#454545" stroke-width="0.85"/><line x1="325.5" y1="5.5" x2="325.5" y2="8.3" stroke="#454545" stroke-width="0.85"/><text x="316.98" y="308.00" font-size="12.5" textLength="18.41" lengthAdjust="spacingAndGlyphs">0.6</text>
<line x1="58.5" y1="5.5" x2="61.3" y2="5.5" stroke="#454545" stroke-width="0.85"/><line x1="355.7" y1="5.5" x2="352.9" y2="5.5" stroke="#454545" stroke-width="0.85"/><text x="18.71" y="10.40" font-size="12.5" textLength="36.22" lengthAdjust="spacingAndGlyphs">−3.00</text>
<line x1="58.5" y1="41.5" x2="61.3" y2="41.5" stroke="#454545" stroke-width="0.85"/><line x1="355.7" y1="41.5" x2="352.9" y2="41.5" stroke="#454545" stroke-width="0.85"/><text x="18.71" y="46.65" font-size="12.5" textLength="36.22" lengthAdjust="spacingAndGlyphs">−3.25</text>
<line x1="58.5" y1="78.5" x2="61.3" y2="78.5" stroke="#454545" stroke-width="0.85"/><line x1="355.7" y1="78.5" x2="352.9" y2="78.5" stroke="#454545" stroke-width="0.85"/><text x="18.71" y="82.90" font-size="12.5" textLength="36.22" lengthAdjust="spacingAndGlyphs">−3.50</text>
<line x1="58.5" y1="114.5" x2="61.3" y2="114.5" stroke="#454545" stroke-width="0.85"/><line x1="355.7" y1="114.5" x2="352.9" y2="114.5" stroke="#454545" stroke-width="0.85"/><text x="18.71" y="119.15" font-size="12.5" textLength="36.22" lengthAdjust="spacingAndGlyphs">−3.75</text>
<line x1="58.5" y1="150.5" x2="61.3" y2="150.5" stroke="#454545" stroke-width="0.85"/><line x1="355.7" y1="150.5" x2="352.9" y2="150.5" stroke="#454545" stroke-width="0.85"/><text x="18.71" y="155.40" font-size="12.5" textLength="36.22" lengthAdjust="spacingAndGlyphs">−4.00</text>
<line x1="58.5" y1="186.5" x2="61.3" y2="186.5" stroke="#454545" stroke-width="0.85"/><line x1="355.7" y1="186.5" x2="352.9" y2="186.5" stroke="#454545" stroke-width="0.85"/><text x="18.71" y="191.65" font-size="12.5" textLength="36.22" lengthAdjust="spacingAndGlyphs">−4.25</text>
<line x1="58.5" y1="223.5" x2="61.3" y2="223.5" stroke="#454545" stroke-width="0.85"/><line x1="355.7" y1="223.5" x2="352.9" y2="223.5" stroke="#454545" stroke-width="0.85"/><text x="18.71" y="227.90" font-size="12.5" textLength="36.22" lengthAdjust="spacingAndGlyphs">−4.50</text>
<line x1="58.5" y1="259.5" x2="61.3" y2="259.5" stroke="#454545" stroke-width="0.85"/><line x1="355.7" y1="259.5" x2="352.9" y2="259.5" stroke="#454545" stroke-width="0.85"/><text x="18.71" y="264.15" font-size="12.5" textLength="36.22" lengthAdjust="spacingAndGlyphs">−4.75</text>
<line x1="58.5" y1="295.5" x2="61.3" y2="295.5" stroke="#454545" stroke-width="0.85"/><line x1="355.7" y1="295.5" x2="352.9" y2="295.5" stroke="#454545" stroke-width="0.85"/><text x="18.71" y="300.40" font-size="12.5" textLength="36.22" lengthAdjust="spacingAndGlyphs">−5.00</text>
<text x="147.80" y="42.10" font-size="11.5" textLength="61.37" lengthAdjust="spacingAndGlyphs">Outer Local</text>
<text x="226.79" y="42.10" font-size="11.5" textLength="57.21" lengthAdjust="spacingAndGlyphs">Inner Local</text>
<text x="88.40" y="238.00" font-size="11.5" textLength="83.25" lengthAdjust="spacingAndGlyphs">Outer minimum</text>
<text x="266.13" y="238.10" font-size="11.5" textLength="81.23" lengthAdjust="spacingAndGlyphs">Inner minimum</text>
<text x="121.0" y="322.9" font-size="12.5" textLength="172" lengthAdjust="spacingAndGlyphs" style="stroke-width:0">&#916;<tspan font-style="italic">&#958;</tspan> &#8801; [<tspan font-style="italic">u</tspan><tspan font-size="8.8" dy="2.5">0</tspan><tspan dy="-2.5" font-style="italic">csc</tspan>(<tspan font-style="italic">&#945;</tspan>) &#8722; (<tspan font-style="italic">s</tspan> &#8722; 1/<tspan font-style="italic">s</tspan>)]</text>
<text transform="translate(11.6,170.6) rotate(-90)" font-size="15" textLength="40.6" lengthAdjust="spacingAndGlyphs" style="stroke-width:0.1px">log<tspan font-size="10.5" dy="2.5">10</tspan><tspan dy="-2.5" font-style="italic">q</tspan></text>
</svg></body></html>
